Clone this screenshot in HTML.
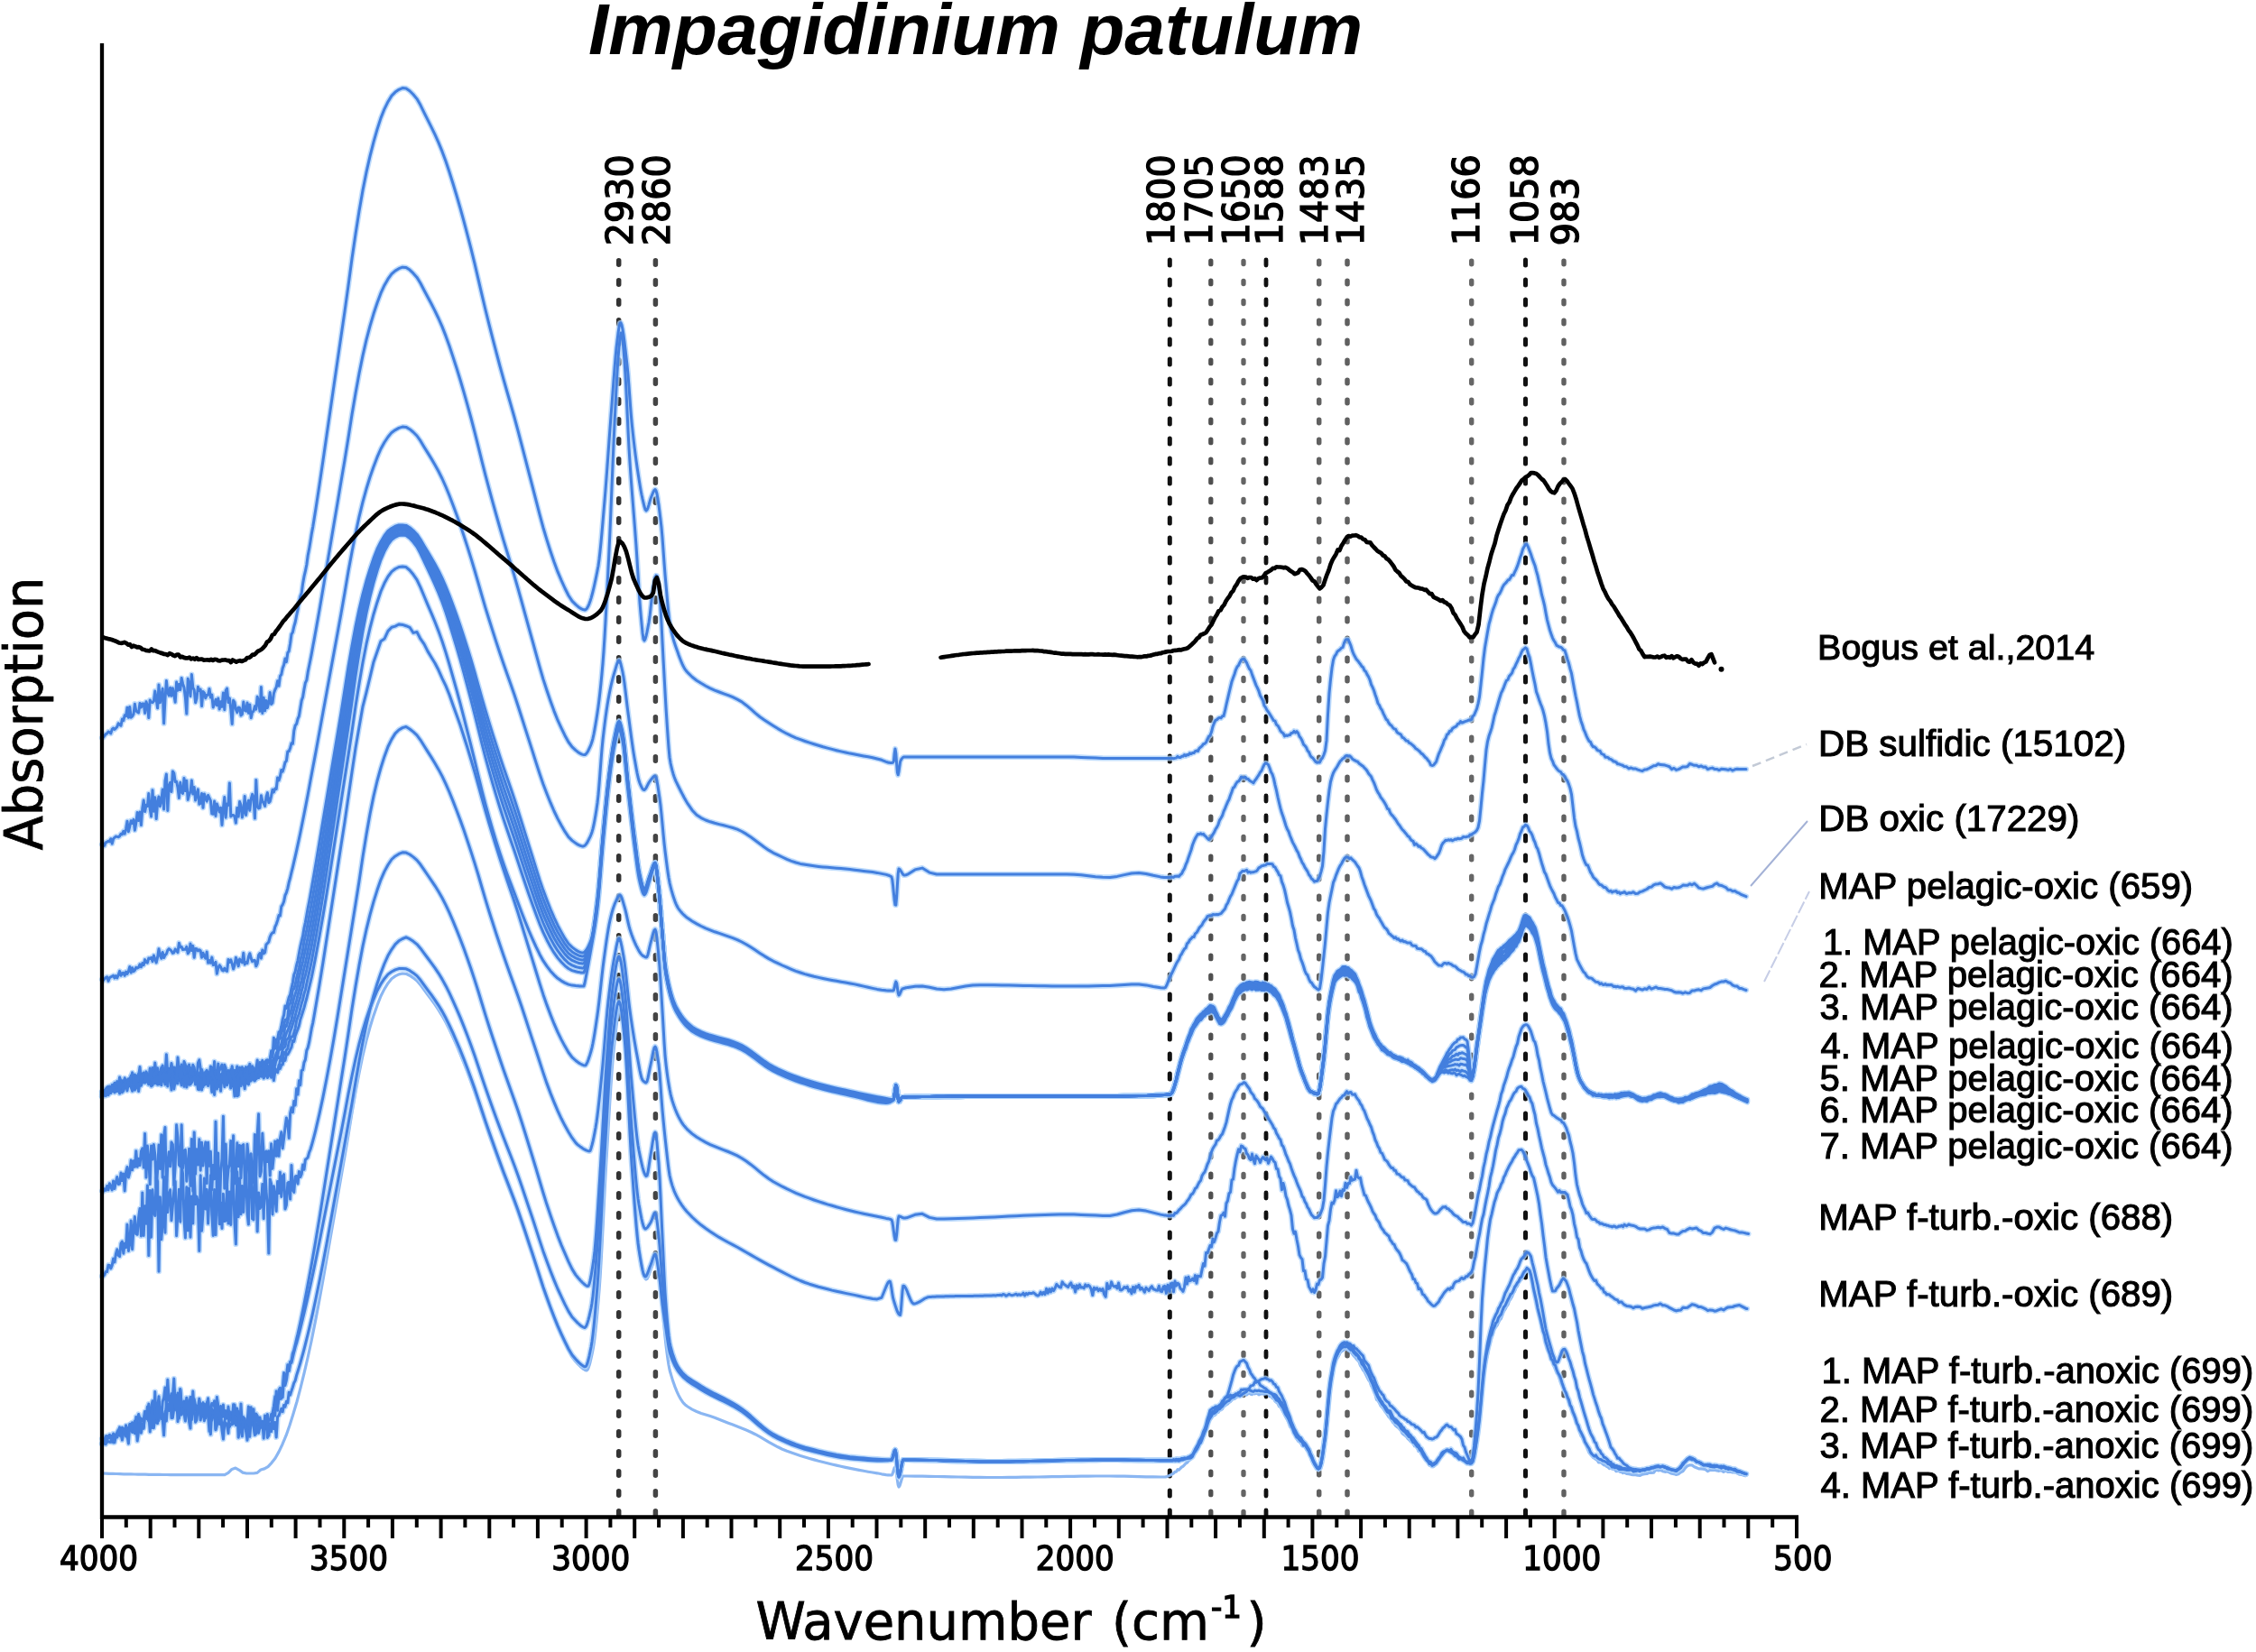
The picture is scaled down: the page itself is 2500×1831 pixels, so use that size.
<!DOCTYPE html><html><head><meta charset="utf-8"><title>Impagidinium patulum</title><style>
html,body{margin:0;padding:0;background:#fff}svg{display:block;filter:blur(.7px)}.b{fill:none;stroke:#3d7cd9;stroke-width:3.2;stroke-linejoin:round;stroke-linecap:round}.bl{fill:none;stroke:#8ab6f2;stroke-width:3.2;stroke-linejoin:round}.k{fill:none;stroke:#000;stroke-width:4.7;stroke-linejoin:round;stroke-linecap:round}.ax{stroke:#000;stroke-width:4.3;fill:none}.tk{stroke:#000;stroke-width:4;fill:none}.lg{font-family:"Liberation Sans",Arial,sans-serif;fill:#000;stroke:#000;stroke-width:1.1}.dv{font-family:"DejaVu Sans Condensed","DejaVu Sans","Liberation Sans",sans-serif;fill:#000;stroke:#000;stroke-width:1.3}.dj{font-family:"DejaVu Sans","Liberation Sans",sans-serif;fill:#000;stroke:#000;stroke-width:.8}.tt{font-family:"Liberation Sans",Arial,sans-serif;font-weight:bold;font-style:italic;font-size:79px;fill:#000}
</style></head><body>
<svg width="2500" height="1831" viewBox="0 0 2500 1831">
<rect width="2500" height="1831" fill="#fff"/>
<text class="tt" x="652" y="60" textLength="858" lengthAdjust="spacingAndGlyphs">Impagidinium patulum</text>
<path d="M685.7 288.8V1680" stroke="#333" stroke-width="5.5" stroke-linecap="round" stroke-dasharray="4.5 17.5" fill="none"/>
<path d="M726.4 288.8V1680" stroke="#444" stroke-width="5.5" stroke-linecap="round" stroke-dasharray="4.5 17.5" fill="none"/>
<path d="M1296.3 288.0V1680" stroke="#111" stroke-width="5" stroke-linecap="round" stroke-dasharray="6 16" fill="none"/>
<path d="M1341.8 289.2V1680" stroke="#505050" stroke-width="5.3" stroke-linecap="round" stroke-dasharray="3.5 18.5" fill="none"/>
<path d="M1378.0 289.5V1680" stroke="#646464" stroke-width="5.3" stroke-linecap="round" stroke-dasharray="3 19" fill="none"/>
<path d="M1403.0 288.0V1680" stroke="#111" stroke-width="4.8" stroke-linecap="round" stroke-dasharray="6 16" fill="none"/>
<path d="M1461.7 289.2V1680" stroke="#606060" stroke-width="5.5" stroke-linecap="round" stroke-dasharray="3.5 18.5" fill="none"/>
<path d="M1493.0 289.2V1680" stroke="#606060" stroke-width="5.5" stroke-linecap="round" stroke-dasharray="3.5 18.5" fill="none"/>
<path d="M1630.7 289.2V1680" stroke="#666" stroke-width="5.4" stroke-linecap="round" stroke-dasharray="3.5 18.5" fill="none"/>
<path d="M1690.5 288.0V1680" stroke="#111" stroke-width="5" stroke-linecap="round" stroke-dasharray="6 16" fill="none"/>
<path d="M1733.0 289.2V1680" stroke="#606060" stroke-width="5.4" stroke-linecap="round" stroke-dasharray="3.5 18.5" fill="none"/>
<text class="dv" font-size="40.5" transform="translate(701.2 272.3) rotate(-90)" textLength="101" lengthAdjust="spacingAndGlyphs">2930</text>
<text class="dv" font-size="40.5" transform="translate(742.0 272.3) rotate(-90)" textLength="101" lengthAdjust="spacingAndGlyphs">2860</text>
<text class="dv" font-size="40.5" transform="translate(1301.0 272.3) rotate(-90)" textLength="101" lengthAdjust="spacingAndGlyphs">1800</text>
<text class="dv" font-size="40.5" transform="translate(1343.0 272.3) rotate(-90)" textLength="101" lengthAdjust="spacingAndGlyphs">1705</text>
<text class="dv" font-size="40.5" transform="translate(1383.5 272.3) rotate(-90)" textLength="101" lengthAdjust="spacingAndGlyphs">1650</text>
<text class="dv" font-size="40.5" transform="translate(1420.5 272.3) rotate(-90)" textLength="101" lengthAdjust="spacingAndGlyphs">1588</text>
<text class="dv" font-size="40.5" transform="translate(1471.0 272.3) rotate(-90)" textLength="101" lengthAdjust="spacingAndGlyphs">1483</text>
<text class="dv" font-size="40.5" transform="translate(1510.5 272.3) rotate(-90)" textLength="101" lengthAdjust="spacingAndGlyphs">1435</text>
<text class="dv" font-size="40.5" transform="translate(1638.5 272.3) rotate(-90)" textLength="101" lengthAdjust="spacingAndGlyphs">1166</text>
<text class="dv" font-size="40.5" transform="translate(1704.0 272.3) rotate(-90)" textLength="101" lengthAdjust="spacingAndGlyphs">1058</text>
<text class="dv" font-size="40.5" transform="translate(1749.0 272.3) rotate(-90)" textLength="76" lengthAdjust="spacingAndGlyphs">983</text>
<defs><g id="bc" fill="none" stroke-linejoin="round" stroke-linecap="round">
<path d="M113 818L114.4 817.2L115.8 815.5L117.2 813.6L118.6 813L120 811L121.4 811.6L122.8 812.9L124.2 808.4L125.6 807L127 808.4L128.4 807.1L129.8 805.5L131.2 801.7L132.6 803.1L134 804.2L135.4 797L136.8 798.7L138.2 792.8L139.6 793.7L141 784.3L142.4 795.3L143.8 783.4L145.2 795.3L146.6 793.9L148 791.5L149.4 780.2L150.8 787.9L152.2 789.2L153.6 789.9L155 779.5L156.4 784L157.8 780.1L159.2 780L160.6 790.4L162 777.8L163.4 781.9L164.8 795.6L166.2 775.9L167.6 778.2L169 778.7L170.4 777.3L171.8 765.9L173.2 775.1L174.6 784.8L176 759L177.4 778.8L178.8 771.2L180.2 763.2L181.6 801.8L183 774.6L184.4 754.5L185.8 767.4L187.2 770.9L188.6 762.3L190 771.2L191.4 762.7L192.8 770.2L194.2 778.2L195.6 756L197 765.2L198.4 758.4L199.8 764.6L201.2 751.5L202.6 757.9L204 762L205.4 773L206.8 791.1L208.2 752.2L209.6 757.7L211 771.7L212.4 747.6L213.8 762.2L215.2 764.8L216.6 778.7L218 774L219.4 761.3L220.8 765.5L222.2 764L223.6 782.6L225 766.4L226.4 767.9L227.8 773.8L229.2 770.4L230.6 770.3L232 763.4L233.4 773L234.8 770L236.2 783.9L237.6 780.3L239 775.3L240.4 781.7L241.8 773.9L243.2 786.1L244.6 777.8L246 783.4L247.4 768.1L248.8 786.7L250.2 765.6L251.6 763.1L253 778.5L254.4 773.9L255.8 785.7L257.2 802.5L258.6 776.2L260 778.6L261.4 786.5L262.8 789.6L264.2 784.2L265.6 784.4L267 793L268.4 791.7L269.8 778.1L271.2 787L272.6 788.2L274 779L275.4 790.2L276.8 780.9L278.2 795.7L279.6 789.2L281 788.2L282.4 782.8L283.8 786.1L285.2 772.3L286.6 778.3L288 788.2L289.4 761.5L290.8 790.4L292.2 773.2L293.6 787.8L295 776.5L296.4 784.4L297.8 778.6L299.2 767.4L300.6 780.5L302 778.9L303.4 768.5L304.8 764.5L306.2 761.8L307.6 754.7L309 760.2L310.4 749.4L311.8 747.5L313.2 740.6L314.6 736.9L316 730L317.4 733.6L318.8 723.7L320.2 721.6L321.6 713.2L323 703L324.4 700.8L325.8 694.3L327.2 689.5L328.6 682.2L330 675.7L331.4 667L332.8 661L334.2 657.4L335.6 646.9L337 639L338.4 632.9L339.8 626L341.2 615.5L342.6 608.4L344 599.9L345.4 591.1L346.8 583.6L348.2 574.8L349.6 565.9L350 563.4L354 537.2L358 510.2L362 482.5L366 455L370 427.4L374 399.9L378 372.5L382 345.1L386 316.6L390 286.7L394 259.5L398 234.1L402 210.9L406 190.9L410 173.1L414 157.4L418 143.4L422 130.9L426 120.8L430 112.7L434 106.1L438 102.1L442 99.3L446 97.6L450 97.9L454 100.7L458 104.7L462 109.6L466 116.6L470 124.8L474 132.8L478 140.8L482 149.2L486 158.1L490 167.9L494 178.8L498 190.8L502 203.5L506 216.8L510 230.6L514 245.1L518 260.3L522 275.9L526 292.2L530 309.3L534 326.6L538 343.5L542 359.6L546 375.3L550 390.7L554 405.8L558 420.4L562 434.5L566 448.4L570 462.5L574 477.3L578 492.6L582 508.2L586 523.7L590 539L594 554.7L598 570.2L602 585L606 598.4L610 611L614 622.8L618 633.7L622 643.2L626 652L630 660L634 666.1L638 670.1L640 671.8L641 672.7L642 673.4L643 674.1L644 674.7L645 675.2L646 675.6L647 675.8L648 676L649 675.7L650 674.8L651 673.4L652 671.5L653 669.1L654 666.3L655 663.1L656 659.5L657 655.6L658 651.5L659 647L660 642.4L661 637.5L662 632.5L663 627.2L664 620L665 611.2L666 601.1L667 590.1L668 578.5L669 566.6L670 555L671 543L672 530.1L673 516.6L674 502.7L675 488.6L676 474.8L677 461.4L678 448.5L679 435.2L680 421.6L681 408.5L682 396.5L683 386L684 377.6L685 369.5L686 362.5L687 358.1L688 357.8L689 360.4L690 365L691 371.4L692 379L693 387.4L694 396.2L695 405L696 415.4L697 428.4L698 442.4L699 455.9L700 467.5L701 477.2L702 486.4L703 494.9L704 502.9L705 510.4L706 517.5L707 524.3L708 530.8L709 537.1L710 542.9L711 548.2L712 552.9L713 557.1L714 561.3L715 564.6L716 566L717 565.1L718 562.8L719 559.6L720 556.1L721 552.7L722 550L723 547.6L724 545.2L725 543.3L726 542.5L727 543.8L728 547.5L729 553.1L730 560L731 567.8L732 576L733 584.5L734 595.9L735 609.3L736 623.4L737 636.6L738 648.2L739 659.7L740 671L741 681.1L742 689.4L743 695.2L744 700L745 704.2L746 707.9L747 711.2L748 714.3L749 717.2L750 720L751 722.8L752 725.7L753 728.4L754 731L755 733.5L756 735.9L757 738L758 739.9L759 741.6L760 743L761 744.2L762 745.4L767 750.3L772 754.2L777 757.3L782 760.2L787 762.9L792 765.1L797 767L802 768.9L807 770.7L812 772.7L817 775.1L822 777.9L827 781.7L832 785.9L837 790.4L842 794.5L847 798L852 801.3L857 804.5L862 807.6L867 810.5L872 813.2L877 815.6L882 817.8L887 819.7L892 821.5L897 823.2L902 824.8L907 826.3L912 827.8L917 829.1L922 830.4L927 831.7L932 832.9L937 834L942 835.1L947 836L952 837L957 837.9L962 838.8L967 839.8L972 841L977 842.3L982 844.3L984 845L984.8 845.2L985.6 845.3L986.4 845.4L987.2 845.5L988 845.5L988.8 845.4L989.6 845.1L990.4 843.3L991.2 835.2L992 830L992.8 835.1L993.6 845.9L994.4 856L995.2 858.8L996 855.2L996.8 849.4L997.6 844.3L998.4 842.3L999.2 841.1L1000 840.1L1000.8 839.4L1001.6 839L1002.4 839L1003.2 839L1004 839L1004.8 839L1005.6 839L1006 839L1014 839L1022 839L1030 839L1038 839L1046 839L1054 839L1062 839L1070 839L1078 839L1086 839L1094 839L1102 839L1110 839L1118 839L1126 839L1134 839L1142 839L1150 839L1158 839L1166 839L1174 839L1182 839L1190 839.1L1198 839.4L1206 839.8L1214 840.1L1222 840.4L1230 840.5L1238 840.5L1246 840.5L1254 840.5L1262 840.5L1270 840.5L1278 840.5L1286 840.5L1290 840.5L1291.5 840.5L1293 840.5L1294.5 840.5L1296 840.5L1297.5 840.5L1299 840.4L1300.5 840.7L1302 840.4L1303.5 840.1L1305 838.4L1306.5 839.4L1308 839.5L1309.5 838.3L1311 838.3L1312.5 836.5L1314 837.8L1315.5 836.5L1317 836.8L1318.5 834.7L1320 835.6L1321.5 834.5L1323 834.5L1324.5 832.7L1326 832L1327.5 832.5L1329 829.4L1330.5 828.1L1332 826.8L1333.5 824.7L1335 824.3L1336.5 822.8L1338 819.3L1339.5 816.3L1341 815.2L1342.5 811.3L1344 805.2L1345.5 801.2L1347 798.3L1348.5 797.6L1350 796.1L1351.5 795.4L1353 795.9L1354.5 793.8L1356 793.5L1357.5 787.7L1359 780.8L1360.5 774.3L1362 767.9L1363.5 761.6L1365 755.4L1366.5 751.3L1368 747.3L1369.5 742.3L1371 739.1L1372.5 737.4L1374 734.2L1375.5 731.4L1377 730.6L1378.5 730.2L1380 732.1L1381.5 734.5L1383 738.2L1384.5 741.3L1386 743.1L1387.5 747.6L1389 751.6L1390.5 755.6L1392 759.6L1393.5 762.6L1395 766.2L1396.5 771L1398 773.6L1399.5 776.6L1401 782L1402.5 784.1L1404 787.1L1405.5 789L1407 791.4L1408.5 793.7L1410 796.2L1411.5 798.7L1413 799.2L1414.5 803.1L1416 804.3L1417.5 806.8L1419 810.1L1420.5 811.8L1422 812.7L1423.5 815.9L1425 815L1426.5 815.5L1428 814.8L1429.5 814.6L1431 812.4L1432.5 812.2L1434 810.4L1435.5 812.1L1437 810.7L1438.5 812.5L1440 816.2L1441.5 818.1L1443 821L1444.5 825.1L1446 826.5L1447.5 828.4L1449 832L1450.5 833.6L1452 837.3L1453.5 839.3L1455 840.3L1456.5 842.3L1458 844.4L1459.5 845.3L1461 844.9L1462.5 845L1464 841.7L1465.5 840L1467 836.5L1468.5 832L1470 820.9L1471.5 791.8L1473 768.3L1474.5 753.1L1476 740.3L1477.5 731.4L1479 727.3L1480.5 725.3L1482 722.2L1483.5 721L1485 719.9L1486.5 718.1L1488 717.6L1489.5 712.6L1491 709.3L1492.5 708.7L1494 708.8L1495.5 712.2L1497 715.8L1498.5 721.1L1500 725L1501.5 727.7L1503 730.5L1504.5 732.2L1506 734.2L1507.5 736.1L1509 738.5L1510.5 739.7L1512 743.1L1513.5 744.4L1515 747.6L1516.5 750L1518 753.5L1519.5 758.7L1521 761.6L1522.5 765.3L1524 770L1525.5 774.3L1527 779.5L1528.5 781.7L1530 785.2L1531.5 787.2L1533 790.9L1534.5 793.9L1536 797.2L1537.5 798.3L1539 801.3L1540.5 803.2L1542 804.2L1543.5 806.5L1545 807.9L1546.5 808.2L1548 811.3L1549.5 812.7L1551 813.4L1552.5 814.3L1554 817.3L1555.5 817.9L1557 819.6L1558.5 821.1L1560 821.2L1561.5 823.3L1563 823.9L1564.5 825.2L1566 826.4L1567.5 827.8L1569 829.8L1570.5 830.6L1572 831.8L1573.5 833.2L1575 835.1L1576.5 835.9L1578 837.7L1579.5 839.5L1581 840.7L1582.5 842.8L1584 844.5L1585.5 847.8L1587 848.5L1588.5 848.1L1590 846.2L1591.5 844.4L1593 839.7L1594.5 835.3L1596 832.1L1597.5 828.4L1599 825.1L1600.5 820.4L1602 818.4L1603.5 814.3L1605 813.2L1606.5 810.3L1608 810.3L1609.5 807.5L1611 806.3L1612.5 805.6L1614 804.7L1615.5 802.3L1617 802L1618.5 799.6L1620 801.1L1621.5 800.5L1623 799.9L1624.5 799.3L1626 798.9L1627.5 798.1L1629 798L1630.5 797.6L1632 794L1633.5 792.6L1635 789.1L1636.5 785.6L1638 779.9L1639.5 772.1L1641 758.7L1642.5 744.7L1644 729.7L1645.5 717.8L1647 709.1L1648.5 700.3L1650 691.9L1651.5 686.5L1653 680.7L1654.5 675.6L1656 671.8L1657.5 667.8L1659 662.7L1660.5 659.5L1662 657.7L1663.5 654.7L1665 650.9L1666.5 648.3L1668 646.7L1669.5 645.1L1671 643L1672.5 642.5L1674 640.1L1675.5 637.5L1677 637.6L1678.5 634.2L1680 631.1L1681.5 627.4L1683 623.1L1684.5 618L1686 614.1L1687.5 608.8L1689 605.9L1690.5 603.4L1692 603.3L1693.5 606.4L1695 610.4L1696.5 614.3L1698 619.1L1699.5 623.1L1701 627L1702.5 632.8L1704 638.1L1705.5 645.2L1707 651.5L1708.5 659.2L1710 664.6L1711.5 670.8L1713 679.3L1714.5 687.1L1716 692.9L1717.5 698.5L1719 702.9L1720.5 707.1L1722 710L1723.5 712.3L1725 715.4L1726.5 716.1L1728 717L1729.5 717.2L1731 718.4L1732.5 720.4L1734 721L1735.5 725.4L1737 730.6L1738.5 735.3L1740 741.3L1741.5 746.4L1743 755.1L1744.5 763.2L1746 771.2L1747.5 778.3L1749 786.2L1750.5 793.6L1752 799.2L1753.5 803.4L1755 808.6L1756.5 811.7L1758 815.6L1759.5 818.8L1761 821.5L1762.5 822.4L1764 825.8L1765.5 827.7L1767 827.8L1768.5 829.1L1770 831.4L1771.5 832L1773 832.2L1774.5 835.2L1776 836L1777.5 836.7L1779 839.3L1780.5 839.2L1782 839.7L1783.5 841.1L1785 841.4L1786.5 842.4L1788 843.9L1789.5 844.1L1791 844.8L1792.5 846.7L1794 846.8L1795.5 847.4L1797 847.9L1798.5 848.5L1800 849.6L1802.5 849.8L1805 851.8L1807.5 851L1810 852.1L1812.5 852L1815 853.1L1817.5 853.9L1820 854.5L1822.5 853L1825 852.7L1827.5 851.5L1830 850.2L1832.5 848.8L1835 848.5L1837.5 846.8L1840 847.6L1842.5 847.8L1845 848.1L1847.5 848.9L1850 849.7L1852.5 852.6L1855 851.4L1857.5 853.4L1860 852.6L1862.5 851.3L1865 849.9L1867.5 850.1L1870 849.5L1872.5 846.5L1875 847.3L1877.5 848.3L1880 848.2L1882.5 849.7L1885 848.9L1887.5 850.3L1890 850L1892.5 852.6L1895 851.6L1897.5 851.1L1900 852.4L1902.5 852.4L1905 853.6L1907.5 852.3L1910 852.5L1912.5 852.8L1915 853.4L1917.5 852.5L1920 854L1922.5 852.8L1925 852.3L1927.5 852.5L1930 852.5L1932.5 852.5L1935 852.5"/>
<path d="M113 936L114.4 934.7L115.8 937.2L117.2 933.8L118.6 933.1L120 932.3L121.4 932.7L122.8 929.7L124.2 935.1L125.6 929.8L127 928.3L128.4 927.1L129.8 927.4L131.2 927.8L132.6 926.7L134 924.2L135.4 924.8L136.8 921.4L138.2 924.2L139.6 918.8L141 910.3L142.4 921.7L143.8 916L145.2 909.7L146.6 912.5L148 908.4L149.4 920.2L150.8 911.9L152.2 900.5L153.6 909.6L155 900.1L156.4 914.6L157.8 896.1L159.2 886.9L160.6 899.6L162 892.2L163.4 893.4L164.8 879.5L166.2 896.6L167.6 904.9L169 875.7L170.4 899.2L171.8 883.7L173.2 907.6L174.6 889.8L176 882.9L177.4 893.8L178.8 887.1L180.2 874.9L181.6 896.9L183 865.5L184.4 858.1L185.8 898.4L187.2 871.3L188.6 867.3L190 877.5L191.4 854.9L192.8 857L194.2 866.5L195.6 866.2L197 872.8L198.4 884.5L199.8 867.3L201.2 878L202.6 879.5L204 862.4L205.4 876.6L206.8 865.3L208.2 886.4L209.6 880.9L211 877.4L212.4 865L213.8 880L215.2 872.5L216.6 887.1L218 880.3L219.4 874.9L220.8 891.3L222.2 890.2L223.6 879.5L225 895.3L226.4 879.9L227.8 884L229.2 888.1L230.6 881.4L232 884.5L233.4 887.3L234.8 901.9L236.2 902.2L237.6 888L239 904.4L240.4 890.9L241.8 895.1L243.2 900L244.6 895.3L246 914.5L247.4 895.8L248.8 883.4L250.2 906.2L251.6 891.1L253 892.3L254.4 867.9L255.8 904.9L257.2 903.4L258.6 903.4L260 905.2L261.4 912.1L262.8 895.5L264.2 905L265.6 888.6L267 892.3L268.4 906L269.8 899.4L271.2 882.4L272.6 903.4L274 893.2L275.4 887.2L276.8 898.2L278.2 885.6L279.6 880.4L281 884.1L282.4 907.1L283.8 864.5L285.2 893.6L286.6 895.9L288 895.4L289.4 881.7L290.8 887.7L292.2 890.3L293.6 893.5L295 883.1L296.4 878.6L297.8 889.6L299.2 888.2L300.6 882.3L302 875.2L303.4 878L304.8 874L306.2 874.5L307.6 862L309 865L310.4 860.5L311.8 853.4L313.2 855.1L314.6 850.6L316 844.9L317.4 843.3L318.8 833L320.2 832.6L321.6 829.1L323 823.7L324.4 824.3L325.8 810L327.2 804.2L328.6 802.3L330 796.9L331.4 793.6L332.8 784.9L334.2 776.5L335.6 772.5L337 764L338.4 756.8L339.8 753.9L341.2 744.9L342.6 738L344 731.1L345.4 723.9L346.8 715.9L348.2 708.6L349.6 700.7L350 698.6L354 676L358 652.6L362 628.6L366 604.9L370 581.1L374 557.4L378 533.6L382 510L386 485.3L390 459.5L394 436.1L398 414.1L402 394.1L406 376.7L410 361.4L414 347.8L418 335.8L422 324.9L426 316.2L430 309.2L434 303.6L438 300.1L442 297.7L446 296.2L450 296.5L454 299.1L458 302.9L462 307.4L466 314L470 321.7L474 329.2L478 336.7L482 344.6L486 353L490 362.1L494 372.4L498 383.6L502 395.6L506 408L510 421L514 434.6L518 448.9L522 463.5L526 478.8L530 494.8L534 511.1L538 526.8L542 541.9L546 556.6L550 571L554 585.1L558 598.8L562 612L566 625L570 638.2L574 652.1L578 666.5L582 681.1L586 695.6L590 710L594 724.6L598 739.1L602 752.9L606 765.3L610 777.1L614 788.1L618 798.2L622 806.9L626 815.2L630 822.5L634 827.9L638 831.6L640 833.2L641 833.9L642 834.6L643 835.2L644 835.7L645 836.1L646 836.4L647 836.6L648 836.6L649 836.1L650 835L651 833.5L652 831.7L653 829.6L654 827.4L655 825L656 822.1L657 818.3L658 813.7L659 808.4L660 802.6L661 796.4L662 790L663 783.1L664 775.3L665 766.6L666 757L667 746.5L668 735L669 721.7L670 706.2L671 688.9L672 670.3L673 650.6L674 630.4L675 610L676 588.3L677 564.4L678 539.5L679 514.7L680 491.1L681 470L682 450.1L683 430.4L684 412.2L685 396.6L686 385L687 375.7L688 369L689 369L690 376.2L691 387.5L692 400L693 414.9L694 434L695 455.3L696 476.8L697 496.5L698 512.7L699 527.2L700 540.7L701 553.4L702 565.9L703 578.4L704 591.3L705 605L706 620.2L707 636.6L708 652.9L709 667.8L710 680L711 690.9L712 701.2L713 708.3L714 709.9L715 708.2L716 704.9L717 700.4L718 695.3L719 690L720 683.3L721 674.5L722 665.1L723 656.4L724 650L725 645.1L726 640.6L727 637.9L728 638.2L729 642.9L730 650.8L731 660L732 672.9L733 690.9L734 711L735 730L736 748.1L737 766.6L738 784.3L739 800L740 814.8L741 828.7L742 839.5L743 845.6L744 850.2L745 854.2L746 857.7L747 860.8L748 863.4L749 865.8L750 867.9L751 870L752 872L753 874L754 876L755 878L756 879.9L757 881.8L758 883.7L759 885.5L760 887.3L761 889L762 890.6L767 897.9L772 903.3L777 906.6L782 909L787 910.8L792 912.3L797 913.6L802 914.8L807 916.1L812 917.5L817 919.2L822 921.5L827 924.4L832 927.8L837 931.5L842 935.3L847 939L852 942.4L857 945.3L862 947.7L867 950L872 952.3L877 954.3L882 956L887 957.4L892 958.3L897 959.1L902 959.8L907 960.4L912 960.9L917 961.3L922 961.8L927 962.2L932 962.6L937 963.1L942 963.6L947 964.2L952 964.8L957 965.4L962 966L967 966.6L972 967.4L977 968.4L982 969.4L984 970L984.8 970.2L985.6 970.6L986.4 971L987.2 971.4L988 972L988.8 975.1L989.6 981.8L990.4 990L991.2 997.7L992 1002.9L992.8 1003.1L993.6 994.4L994.4 980.9L995.2 968.4L996 963L996.8 963.3L997.6 964.2L998.4 965.5L999.2 966.8L1000 968.2L1000.8 969.3L1001.6 969.9L1002.4 970L1003.2 969.9L1004 969.7L1004.8 969.5L1005.6 969.1L1006 969L1014 963.9L1022 962.1L1030 967.1L1038 969L1046 969L1054 969L1062 969L1070 969L1078 969L1086 969L1094 969L1102 969L1110 969L1118 969L1126 969L1134 969L1142 969L1150 969L1158 969L1166 969L1174 969L1182 969L1190 969.2L1198 969.8L1206 970.8L1214 971.7L1222 972.3L1230 972.4L1238 971.4L1246 969.6L1254 968L1262 967.5L1270 968.5L1278 970.3L1286 971.9L1290 972.4L1291.5 972.5L1293 972.5L1294.5 972.5L1296 972.4L1297.5 972.3L1299 972.1L1300.5 972.4L1302 971.3L1303.5 971.3L1305 971L1306.5 971.4L1308 969.5L1309.5 968.4L1311 965.1L1312.5 962.8L1314 958.4L1315.5 955.2L1317 950.4L1318.5 946.2L1320 942L1321.5 936.5L1323 932.7L1324.5 929.3L1326 926.7L1327.5 924.4L1329 924.7L1330.5 923.8L1332 924.8L1333.5 924.3L1335 926.2L1336.5 927.4L1338 929.2L1339.5 930.5L1341 929.3L1342.5 927.2L1344 924.9L1345.5 922.5L1347 919.1L1348.5 916.9L1350 913.8L1351.5 909.1L1353 906.7L1354.5 904.1L1356 899.4L1357.5 896.1L1359 892.3L1360.5 888.8L1362 886L1363.5 881.5L1365 877.6L1366.5 873.3L1368 872.2L1369.5 869L1371 866.7L1372.5 866L1374 864L1375.5 861L1377 861.7L1378.5 861.7L1380 861.2L1381.5 863.3L1383 863.3L1384.5 865L1386 866L1387.5 866.8L1389 867.8L1390.5 865.3L1392 863.4L1393.5 861L1395 858.9L1396.5 855.9L1398 854.2L1399.5 850.5L1401 847.3L1402.5 845.9L1404 846.4L1405.5 847.6L1407 851.3L1408.5 855.8L1410 858.3L1411.5 863.1L1413 870.1L1414.5 876.2L1416 883.5L1417.5 890L1419 896.2L1420.5 901.3L1422 905.6L1423.5 910.2L1425 915.2L1426.5 919.1L1428 921.7L1429.5 926.2L1431 929.9L1432.5 933.6L1434 936.4L1435.5 939.3L1437 942.6L1438.5 945L1440 949.3L1441.5 952.2L1443 956L1444.5 958.2L1446 961.4L1447.5 963.6L1449 966L1450.5 969.5L1452 971.3L1453.5 974.1L1455 975.1L1456.5 977.1L1458 976.5L1459.5 976.4L1461 974.2L1462.5 971.2L1464 966.1L1465.5 959.9L1467 943.3L1468.5 918.7L1470 902.8L1471.5 888.8L1473 876L1474.5 866.5L1476 861.1L1477.5 856.7L1479 853.9L1480.5 851.7L1482 849.3L1483.5 846.6L1485 843.9L1486.5 842.5L1488 840.7L1489.5 839.9L1491 837.9L1492.5 837.4L1494 838L1495.5 837.8L1497 838.9L1498.5 841L1500 842.1L1501.5 842.9L1503 843.8L1504.5 844.2L1506 846.2L1507.5 847.1L1509 848.4L1510.5 849.3L1512 851.1L1513.5 852.5L1515 854.5L1516.5 857.2L1518 859.1L1519.5 860.8L1521 864.4L1522.5 867.4L1524 871.3L1525.5 875.4L1527 878.3L1528.5 880.5L1530 883.6L1531.5 885.5L1533 887.6L1534.5 890L1536 892.7L1537.5 896.3L1539 896.9L1540.5 900.7L1542 903L1543.5 904.3L1545 906.5L1546.5 908.3L1548 910.8L1549.5 913.2L1551 914.9L1552.5 917.4L1554 919.5L1555.5 920.9L1557 922.8L1558.5 924.5L1560 926.6L1561.5 927.5L1563 930.1L1564.5 931.6L1566 932.4L1567.5 936.4L1569 935L1570.5 936.3L1572 938.2L1573.5 938L1575 939.8L1576.5 940.5L1578 941.9L1579.5 943.6L1581 945.2L1582.5 947L1584 948.1L1585.5 949.6L1587 950.2L1588.5 950.3L1590 951.6L1591.5 950.2L1593 947.9L1594.5 945.7L1596 941.8L1597.5 937.1L1599 934.4L1600.5 933L1602 931.2L1603.5 931.5L1605 930.7L1606.5 931.3L1608 930.6L1609.5 931.7L1611 931L1612.5 930L1614 930.3L1615.5 929.3L1617 929.7L1618.5 929.6L1620 929.1L1621.5 927.4L1623 927.8L1624.5 927.8L1626 927.2L1627.5 927.1L1629 925L1630.5 925.3L1632 923.8L1633.5 923.2L1635 922L1636.5 920.3L1638 917.1L1639.5 909.9L1641 895L1642.5 879L1644 865.1L1645.5 847.7L1647 831.3L1648.5 821.8L1650 815.8L1651.5 811.5L1653 806.9L1654.5 800.4L1656 793.2L1657.5 788.5L1659 783.3L1660.5 778L1662 773L1663.5 768.1L1665 765.2L1666.5 761.6L1668 757.5L1669.5 754.2L1671 753.3L1672.5 749.3L1674 747.9L1675.5 745.9L1677 741.7L1678.5 739.7L1680 736.2L1681.5 733.2L1683 729.5L1684.5 727L1686 723.1L1687.5 720.2L1689 719.2L1690.5 717.8L1692 719.2L1693.5 724.6L1695 728.6L1696.5 735.9L1698 744L1699.5 751.4L1701 758.3L1702.5 766.7L1704 770.8L1705.5 775.4L1707 779.6L1708.5 783.3L1710 787.8L1711.5 793.7L1713 801.4L1714.5 810.9L1716 824.6L1717.5 834.4L1719 840.5L1720.5 843.6L1722 847.7L1723.5 849.6L1725 851.8L1726.5 853.6L1728 854.8L1729.5 855.5L1731 858.1L1732.5 858.5L1734 860.6L1735.5 863.3L1737 865.6L1738.5 869.4L1740 873.9L1741.5 880.6L1743 893.6L1744.5 906.7L1746 915.9L1747.5 921.4L1749 929L1750.5 934.4L1752 940.8L1753.5 947.7L1755 952.2L1756.5 956L1758 958.8L1759.5 959L1761 962.8L1762.5 966.7L1764 968.9L1765.5 972L1767 973.7L1768.5 975L1770 976.8L1771.5 979.2L1773 980.6L1774.5 980.8L1776 982.2L1777.5 983.6L1779 983.4L1780.5 985.1L1782 987.1L1783.5 988.1L1785 987.4L1786.5 989L1788 988L1789.5 988.1L1791 987.5L1792.5 989.5L1794 988.8L1795.5 990.6L1797 989.5L1798.5 989.5L1800 988.5L1802.5 990.6L1805 989.6L1807.5 989.8L1810 988.7L1812.5 990.5L1815 990.3L1817.5 988.6L1820 987.9L1822.5 986.7L1825 985.5L1827.5 983.5L1830 983.1L1832.5 980.9L1835 979.9L1837.5 979.7L1840 978.9L1842.5 980.8L1845 983.1L1847.5 983.8L1850 984.1L1852.5 985.2L1855 983.6L1857.5 984L1860 983.7L1862.5 982.9L1865 981.1L1867.5 981.3L1870 981.3L1872.5 979.7L1875 980.8L1877.5 979.2L1880 981.3L1882.5 984L1885 984.6L1887.5 985.1L1890 984.3L1892.5 983.5L1895 982.9L1897.5 982.3L1900 980.2L1902.5 979L1905 981L1907.5 981.4L1910 982.5L1912.5 983.6L1915 986.3L1917.5 986.3L1920 987.8L1922.5 987.4L1925 989.2L1927.5 990.2L1930 991.7L1932.5 992.7L1935 993.7"/>
<path d="M113 1085.6L114.4 1086.6L115.8 1085L117.2 1083.6L118.6 1082.8L120 1087.4L121.4 1083.8L122.8 1082.8L124.2 1082.2L125.6 1081.3L127 1084L128.4 1081.6L129.8 1083.9L131.2 1080.5L132.6 1076.4L134 1081.3L135.4 1078.6L136.8 1078.3L138.2 1081.3L139.6 1077.1L141 1079.5L142.4 1076.4L143.8 1071.5L145.2 1078L146.6 1072.8L148 1076.7L149.4 1075.4L150.8 1072.2L152.2 1073L153.6 1072.2L155 1068.9L156.4 1071.8L157.8 1067.6L159.2 1069.6L160.6 1063.6L162 1066.6L163.4 1067.1L164.8 1062L166.2 1062.6L167.6 1061.4L169 1065.6L170.4 1059L171.8 1063L173.2 1066.9L174.6 1061.2L176 1051.7L177.4 1058.7L178.8 1062.3L180.2 1055.4L181.6 1061.5L183 1058.6L184.4 1057.2L185.8 1053.3L187.2 1051.6L188.6 1052.6L190 1054L191.4 1056.4L192.8 1055.8L194.2 1052L195.6 1053.9L197 1055.6L198.4 1045.2L199.8 1049.7L201.2 1049.5L202.6 1052.5L204 1052.2L205.4 1052.3L206.8 1049.3L208.2 1056.8L209.6 1054.9L211 1045.9L212.4 1053.6L213.8 1048.4L215.2 1061.3L216.6 1051.5L218 1051.8L219.4 1053.9L220.8 1052.7L222.2 1053.7L223.6 1061.2L225 1056.3L226.4 1059.9L227.8 1062.3L229.2 1055L230.6 1067.2L232 1064.6L233.4 1067.2L234.8 1061.1L236.2 1069.5L237.6 1069.1L239 1066.3L240.4 1079.3L241.8 1072.7L243.2 1069.8L244.6 1071.9L246 1075.1L247.4 1075.9L248.8 1073.2L250.2 1075.7L251.6 1076.4L253 1063.6L254.4 1066.5L255.8 1063.8L257.2 1068.1L258.6 1073.9L260 1069.8L261.4 1061.3L262.8 1064.6L264.2 1070.8L265.6 1063.1L267 1065.1L268.4 1066.9L269.8 1056.3L271.2 1069L272.6 1066.7L274 1067.6L275.4 1060.5L276.8 1056.7L278.2 1062.1L279.6 1065.6L281 1064.6L282.4 1064.6L283.8 1070.8L285.2 1067.9L286.6 1058.6L288 1056.5L289.4 1062.1L290.8 1052.9L292.2 1056.8L293.6 1055.6L295 1046.9L296.4 1045.4L297.8 1043.9L299.2 1038.5L300.6 1035.4L302 1033.8L303.4 1033.6L304.8 1027.3L306.2 1024.3L307.6 1020.1L309 1014.6L310.4 1015L311.8 1004.8L313.2 1002.7L314.6 999.3L316 992.4L317.4 989.3L318.8 984.6L320.2 978L321.6 973L323 966.9L324.4 961.3L325.8 955.2L327.2 949.1L328.6 942.8L330 936.4L331.4 929.9L332.8 923.2L334.2 916.3L335.6 909.3L337 902.3L338.4 895.1L339.8 887.9L341.2 880.5L342.6 873L344 865.3L345.4 857.7L346.8 850.3L348.2 842.9L349.6 835.4L350 833.2L354 811.2L358 789.3L362 767.4L366 745.6L370 723.7L374 701.9L378 680.1L382 657.1L386 633.3L390 611.8L394 591.5L398 572.8L402 556.4L406 541.8L410 528.8L414 517.3L418 506.7L422 497.5L426 490.3L430 484.2L434 479.4L438 476.6L442 474.4L446 473.1L450 473.4L454 475.7L458 479L462 483L466 488.7L470 495.4L474 501.9L478 508.4L482 515.2L486 522.5L490 530.5L494 539.5L498 549.3L502 559.7L506 570.5L510 581.8L514 593.7L518 606.1L522 618.9L526 632.2L530 646.2L534 660.2L538 673.8L542 686.7L546 699.4L550 711.9L554 724L558 735.8L562 747.2L566 758.5L570 770L574 782.2L578 794.7L582 807.4L586 819.9L590 832.4L594 845.1L598 857.5L602 869.2L606 879.7L610 889.7L614 899L618 907.4L622 914.8L626 921.7L630 927.6L634 931.6L638 934.6L640 935.9L641 936.4L642 936.9L643 937.3L644 937.6L645 937.9L646 938L647 937.8L648 937.2L649 936.2L650 934.8L651 933.3L652 931.4L653 929.4L654 927.3L655 925L656 922.2L657 918.6L658 914.2L659 909L660 903.2L661 896.9L662 890L663 881.1L664 869.5L665 856.4L666 842.9L667 830.4L668 820L669 811.3L670 803.1L671 795.4L672 788.3L673 781.6L674 775.5L675 770L676 765L677 760.3L678 756L679 752L680 748.3L681 745L682 741.6L683 738.1L684 735L685 732.8L686 732L687 733.2L688 736.3L689 740.5L690 745L691 750.4L692 757.3L693 765.3L694 773.8L695 782.2L696 790L697 797.5L698 805.1L699 812.7L700 820.2L701 827.3L702 834L703 840L704 845.6L705 851.2L706 856.5L707 861.2L708 865.1L709 868L710 870.3L711 872.5L712 874.2L713 875.3L714 875.5L715 874.7L716 873.3L717 871.4L718 869.4L719 867.5L720 866L721 864.7L722 863.4L723 862.1L724 861L725 860.3L726 860L727 861.6L728 865.7L729 871.5L730 878.2L731 885L732 892.7L733 902.3L734 912.9L735 923.8L736 934.1L737 943L738 951L739 958.8L740 966.2L741 972.8L742 978.3L743 982.5L744 986.4L745 989.9L746 993.3L747 996.3L748 999.1L749 1001.6L750 1003.8L751 1005.7L752 1007.3L753 1008.6L754 1009.9L755 1011L756 1012.2L757 1013.2L758 1014.2L759 1015.1L760 1016L761 1016.8L762 1017.6L767 1021L772 1023.9L777 1026.5L782 1028.9L787 1030.9L792 1032.8L797 1034.4L802 1036.1L807 1037.8L812 1039.6L817 1041.6L822 1044L827 1046.7L832 1049.8L837 1053.1L842 1056.4L847 1059.6L852 1062.6L857 1065.3L862 1067.6L867 1070L872 1072.2L877 1074.3L882 1076.3L887 1078L892 1079.6L897 1081L902 1082.3L907 1083.4L912 1084.5L917 1085.5L922 1086.4L927 1087.3L932 1088.2L937 1089L942 1089.9L947 1090.9L952 1092L957 1093.1L962 1094.3L967 1095.4L972 1096.4L977 1097.2L982 1097.8L984 1097.9L984.8 1097.9L985.6 1098L986.4 1098L987.2 1098L988 1098L988.8 1098L989.6 1098L990.4 1097.5L991.2 1094.5L992 1090.6L992.8 1088.1L993.6 1089.6L994.4 1094.8L995.2 1100.4L996 1103L996.8 1102.3L997.6 1100.7L998.4 1098.7L999.2 1096.9L1000 1096L1000.8 1095.7L1001.6 1095.5L1002.4 1095.2L1003.2 1095L1004 1094.8L1004.8 1094.6L1005.6 1094.4L1006 1094.4L1014 1093.2L1022 1093.1L1030 1094.3L1038 1096L1046 1096.7L1054 1096L1062 1094.5L1070 1093L1078 1091.9L1086 1091.7L1094 1091.7L1102 1091.8L1110 1091.9L1118 1092.1L1126 1092.2L1134 1092.4L1142 1092.5L1150 1092.7L1158 1092.8L1166 1092.9L1174 1093L1182 1093L1190 1093L1198 1092.9L1206 1092.9L1214 1092.7L1222 1092.6L1230 1092.5L1238 1092.1L1246 1091.6L1254 1091.1L1262 1091L1270 1091.9L1278 1093.5L1286 1094.8L1290 1095L1291.5 1094.4L1293 1091.7L1294.5 1087.9L1296 1084L1297.5 1080.9L1299 1077.8L1300.5 1074.7L1302 1071.4L1303.5 1068.1L1305 1065.6L1306.5 1063.2L1308 1059.1L1309.5 1057.2L1311 1054.2L1312.5 1051.7L1314 1050.6L1315.5 1045.8L1317 1044.5L1318.5 1041.7L1320 1040.4L1321.5 1038.4L1323 1038.6L1324.5 1034.8L1326 1033.6L1327.5 1031.4L1329 1028.4L1330.5 1026.8L1332 1025.2L1333.5 1022.2L1335 1020.1L1336.5 1018.4L1338 1015.7L1339.5 1015L1341 1015L1342.5 1014.8L1344 1013.6L1345.5 1013.7L1347 1013.7L1348.5 1013.5L1350 1013.7L1351.5 1013L1353 1012.6L1354.5 1010.7L1356 1009L1357.5 1007.3L1359 1003.2L1360.5 1001L1362 997.1L1363.5 993.6L1365 991.3L1366.5 987.5L1368 983.9L1369.5 980.1L1371 976.5L1372.5 974.3L1374 968.2L1375.5 966.8L1377 965.2L1378.5 965.6L1380 965L1381.5 964.3L1383 967L1384.5 966.2L1386 967.2L1387.5 966.7L1389 966.7L1390.5 966.2L1392 965.7L1393.5 964.2L1395 961.8L1396.5 961.1L1398 959.8L1399.5 959.5L1401 959L1402.5 958.8L1404 957.6L1405.5 957.6L1407 957.6L1408.5 957.6L1410 957.7L1411.5 960.5L1413 961.2L1414.5 964.2L1416 966.4L1417.5 969.8L1419 970.8L1420.5 977.4L1422 981.1L1423.5 986.1L1425 992.9L1426.5 1000.3L1428 1005.3L1429.5 1010.6L1431 1018L1432.5 1026.2L1434 1030.8L1435.5 1039.6L1437 1046L1438.5 1053L1440 1056.9L1441.5 1062.9L1443 1066.6L1444.5 1071L1446 1076L1447.5 1079.3L1449 1080.9L1450.5 1085.1L1452 1088.2L1453.5 1089.3L1455 1091.8L1456.5 1093.7L1458 1094.7L1459.5 1096L1461 1097L1462.5 1095.8L1464 1086L1465.5 1073.2L1467 1059.1L1468.5 1044.8L1470 1027.6L1471.5 1011.1L1473 1000.5L1474.5 993L1476 985.7L1477.5 978.2L1479 974.7L1480.5 970.1L1482 966.4L1483.5 962.6L1485 959.7L1486.5 957.5L1488 954.5L1489.5 951.9L1491 950.3L1492.5 949.8L1494 950.4L1495.5 951.7L1497 950.9L1498.5 952.7L1500 954L1501.5 955.4L1503 957.7L1504.5 960L1506 962L1507.5 966.1L1509 971.7L1510.5 975.8L1512 980.5L1513.5 984.4L1515 988.5L1516.5 992.6L1518 995.7L1519.5 998.9L1521 1003.1L1522.5 1007.1L1524 1009.2L1525.5 1013.5L1527 1016.1L1528.5 1017.8L1530 1020.8L1531.5 1023.2L1533 1026L1534.5 1028.3L1536 1029.3L1537.5 1031.2L1539 1034.4L1540.5 1035.4L1542 1037L1543.5 1038L1545 1039.7L1546.5 1038.9L1548 1041L1549.5 1040.6L1551 1042.2L1552.5 1043.1L1554 1042.1L1555.5 1043.7L1557 1043.6L1558.5 1044.4L1560 1045.1L1561.5 1045.1L1563 1044.9L1564.5 1047.4L1566 1048.2L1567.5 1048.2L1569 1048.4L1570.5 1051.3L1572 1051.4L1573.5 1051.8L1575 1051.8L1576.5 1052.9L1578 1054.3L1579.5 1054.5L1581 1057L1582.5 1057.2L1584 1058.6L1585.5 1059.4L1587 1061.3L1588.5 1063.4L1590 1066L1591.5 1067.4L1593 1068.8L1594.5 1070L1596 1070.1L1597.5 1070.4L1599 1068.7L1600.5 1067.5L1602 1067.6L1603.5 1068.3L1605 1067.4L1606.5 1068.2L1608 1068.6L1609.5 1069.9L1611 1070.7L1612.5 1071L1614 1072.4L1615.5 1074L1617 1075L1618.5 1075.8L1620 1076.7L1621.5 1077.1L1623 1078.2L1624.5 1080.1L1626 1080L1627.5 1081.7L1629 1081.5L1630.5 1083L1632 1083.2L1633.5 1082.7L1635 1079.7L1636.5 1071.7L1638 1063.1L1639.5 1054.6L1641 1047.5L1642.5 1042.7L1644 1035.7L1645.5 1030.3L1647 1023.8L1648.5 1019L1650 1013.9L1651.5 1009.1L1653 1003.7L1654.5 1000L1656 996.4L1657.5 991.1L1659 986.9L1660.5 982.6L1662 980.3L1663.5 975.9L1665 971.5L1666.5 968L1668 963.6L1669.5 960.6L1671 957.5L1672.5 954.4L1674 950.6L1675.5 947.4L1677 945L1678.5 941.5L1680 936.3L1681.5 933.3L1683 929.6L1684.5 924.2L1686 921L1687.5 916.9L1689 916.2L1690.5 914.3L1692 914.9L1693.5 917.2L1695 921.3L1696.5 922.8L1698 925.9L1699.5 930.5L1701 933.7L1702.5 938.4L1704 941.1L1705.5 945.7L1707 951.3L1708.5 956.7L1710 961.5L1711.5 966.5L1713 969.1L1714.5 973.3L1716 977.4L1717.5 981.6L1719 984.9L1720.5 987.7L1722 990.5L1723.5 994.5L1725 997.2L1726.5 1000.5L1728 1000.8L1729.5 1003.5L1731 1003.7L1732.5 1006.3L1734 1009L1735.5 1012.6L1737 1016.3L1738.5 1021L1740 1026.2L1741.5 1031.9L1743 1040.6L1744.5 1049L1746 1056.9L1747.5 1063.3L1749 1066.3L1750.5 1069.5L1752 1072.3L1753.5 1074.9L1755 1077.4L1756.5 1078.6L1758 1081.4L1759.5 1083L1761 1083.9L1762.5 1084L1764 1084.4L1765.5 1085.9L1767 1087.1L1768.5 1088.3L1770 1088.4L1771.5 1089L1773 1090.6L1774.5 1089.8L1776 1091.2L1777.5 1091.5L1779 1090.6L1780.5 1091.8L1782 1091.6L1783.5 1091.7L1785 1091.5L1786.5 1092L1788 1093.4L1789.5 1093.2L1791 1093.9L1792.5 1093.3L1794 1094L1795.5 1094.3L1797 1093.8L1798.5 1093.9L1800 1095.3L1802.5 1095.4L1805 1095L1807.5 1095.7L1810 1096.2L1812.5 1098.1L1815 1095.5L1817.5 1096.3L1820 1097.1L1822.5 1095.8L1825 1096.5L1827.5 1094L1830 1096.2L1832.5 1095.2L1835 1094L1837.5 1095.5L1840 1095.6L1842.5 1095.9L1845 1096.5L1847.5 1096.5L1850 1097.1L1852.5 1097.7L1855 1099.2L1857.5 1100L1860 1099.7L1862.5 1100L1865 1101L1867.5 1099.8L1870 1100.7L1872.5 1100.4L1875 1098.1L1877.5 1098.1L1880 1097.2L1882.5 1096.8L1885 1097.7L1887.5 1095.9L1890 1095.4L1892.5 1095.1L1895 1094.5L1897.5 1092.5L1900 1091L1902.5 1090.3L1905 1088.9L1907.5 1088.1L1910 1088L1912.5 1087.2L1915 1088.8L1917.5 1089.5L1920 1091.8L1922.5 1093L1925 1093.1L1927.5 1095.4L1930 1095.6L1932.5 1096.6L1935 1097.5"/>
<path d="M113 1320L114.4 1320.6L115.8 1317.8L117.2 1319.3L118.6 1314.5L120 1318.9L121.4 1311.7L122.8 1315.3L124.2 1318.9L125.6 1309L127 1317.4L128.4 1309.9L129.8 1304.5L131.2 1312.6L132.6 1312.1L134 1300.1L135.4 1308.4L136.8 1301L138.2 1319.9L139.6 1299.2L141 1293.5L142.4 1305.1L143.8 1299.5L145.2 1286.1L146.6 1296.8L148 1286.7L149.4 1293.3L150.8 1275.7L152.2 1293.2L153.6 1284.3L155 1291.6L156.4 1276.1L157.8 1272.9L159.2 1294.1L160.6 1256.4L162 1305.1L163.4 1270.1L164.8 1284.8L166.2 1312.6L167.6 1269.9L169 1285.1L170.4 1268.6L171.8 1280L173.2 1316.7L174.6 1297.6L176 1269L177.4 1295.5L178.8 1257.8L180.2 1305.1L181.6 1259.2L183 1249.5L184.4 1322.2L185.8 1290.8L187.2 1276.8L188.6 1292.8L190 1265.9L191.4 1268.4L192.8 1314L194.2 1292.1L195.6 1246.8L197 1260.4L198.4 1291.2L199.8 1292.6L201.2 1246.8L202.6 1294.7L204 1275.8L205.4 1274.3L206.8 1309.3L208.2 1292.7L209.6 1273.2L211 1314.5L212.4 1262.4L213.8 1320.3L215.2 1254.9L216.6 1301.1L218 1273.7L219.4 1291L220.8 1262.7L222.2 1297.3L223.6 1266.2L225 1292.1L226.4 1276L227.8 1266L229.2 1311.6L230.6 1266.3L232 1292.3L233.4 1276.3L234.8 1318.6L236.2 1291.5L237.6 1306.8L239 1243.2L240.4 1312.9L241.8 1278L243.2 1348L244.6 1300.6L246 1284.7L247.4 1237.3L248.8 1317.2L250.2 1268.1L251.6 1312.4L253 1295.8L254.4 1290.7L255.8 1264.4L257.2 1299L258.6 1258.8L260 1311.9L261.4 1307.4L262.8 1266.7L264.2 1292.7L265.6 1269.4L267 1305.8L268.4 1269.8L269.8 1268.5L271.2 1304.3L272.6 1320.5L274 1268.3L275.4 1282.3L276.8 1306.7L278.2 1278.7L279.6 1306.2L281 1310.6L282.4 1257.4L283.8 1302.6L285.2 1257L286.6 1234.8L288 1303.8L289.4 1298.3L290.8 1256.3L292.2 1278.9L293.6 1294.8L295 1276L296.4 1287.6L297.8 1275.7L299.2 1302.9L300.6 1267.7L302 1295.2L303.4 1281.3L304.8 1265L306.2 1281.3L307.6 1263.8L309 1281.3L310.4 1262L311.8 1254.8L313.2 1272.8L314.6 1261.7L316 1249.7L317.4 1238.9L318.8 1244.7L320.2 1261.5L321.6 1233.9L323 1227.9L324.4 1232.9L325.8 1220.6L327.2 1225L328.6 1206.8L330 1213.1L331.4 1197.8L332.8 1202.7L334.2 1186.7L335.6 1186L337 1177.6L338.4 1174.3L339.8 1164.4L341.2 1161.1L342.6 1155.2L344 1147.3L345.4 1139.3L346.8 1133.3L348.2 1125.3L349.6 1116.9L350 1114.7L354 1091.2L358 1066.4L362 1040.6L366 1014.4L370 988.4L374 962.4L378 936.4L382 910.9L386 883.3L390 855.7L394 829.1L398 805.8L402 783.1L406 767.3L410 750.6L414 733.7L418 722.3L422 710.7L426 708.1L430 699.4L434 695.2L438 694.1L442 692L446 692.4L450 693.7L454 695.3L458 701.4L462 700.5L466 708.2L470 713.9L474 721.9L478 728.5L482 735L486 742.8L490 751.8L494 760.1L498 770L502 781.4L506 792.6L510 803.8L514 816.2L518 828.7L522 842L526 855.6L530 870L534 884.6L538 898.9L542 912.5L546 925.8L550 938.7L554 951.5L558 963.9L562 975.8L566 987.5L570 999.3L574 1011.6L578 1024.5L582 1037.6L586 1050.7L590 1063.6L594 1076.8L598 1089.9L602 1102.4L606 1113.9L610 1124.6L614 1134.7L618 1143.9L622 1152.1L626 1159.6L630 1166.5L634 1171.9L638 1175.5L640 1177L641 1177.7L642 1178.4L643 1179L644 1179.5L645 1180L646 1180.4L647 1180.7L648 1180.9L649 1180.7L650 1179.1L651 1177.1L652 1174.5L653 1171.6L654 1168.4L655 1165L656 1161.1L657 1156.3L658 1150.9L659 1144.9L660 1138.5L661 1131.8L662 1125L663 1117.5L664 1109.1L665 1100.1L666 1090.8L667 1081.6L668 1072.9L669 1065L670 1057.6L671 1050.4L672 1043.3L673 1036.6L674 1030.4L675 1024.8L676 1020L677 1015.8L678 1011.9L679 1008.3L680 1005.2L681 1002.4L682 1000L683 997.8L684 995.6L685 993.8L686 992.5L687 992L688 992.8L689 995L690 998.1L691 1001.6L692 1005L693 1008.6L694 1012.9L695 1017.5L696 1022.1L697 1026.4L698 1030L699 1033.1L700 1036L701 1038.7L702 1041.3L703 1043.7L704 1046L705 1048.1L706 1050L707 1051.9L708 1053.7L709 1055.4L710 1056.9L711 1058.1L712 1059L713 1059.7L714 1060.2L715 1060.7L716 1061L717 1060.6L718 1057.9L719 1053.7L720 1049L721 1045L722 1041.4L723 1037.4L724 1033.7L725 1031L726 1030L727 1032.8L728 1040L729 1049.7L730 1060L731 1072.1L732 1087.3L733 1103.9L734 1120L735 1136.9L736 1154.5L737 1169.5L738 1179.5L739 1187.7L740 1195.1L741 1201.6L742 1207.3L743 1212.3L744 1216.5L745 1220L746 1223.1L747 1226L748 1228.7L749 1231.2L750 1233.6L751 1235.8L752 1237.9L753 1239.8L754 1241.6L755 1243.3L756 1244.8L757 1246.3L758 1247.6L759 1248.8L760 1250L761 1251.1L762 1252.1L767 1256.6L772 1260.2L777 1263.3L782 1266.1L787 1268.6L792 1270.7L797 1272.7L802 1274.6L807 1276.5L812 1278.6L817 1280.9L822 1283.7L827 1287L832 1290.7L837 1294.7L842 1298.8L847 1302.8L852 1306.5L857 1309.7L862 1312.5L867 1315.2L872 1317.7L877 1320L882 1322.3L887 1324.4L892 1326.4L897 1328.2L902 1330L907 1331.7L912 1333.3L917 1334.9L922 1336.3L927 1337.8L932 1339.1L937 1340.5L942 1341.8L947 1343L952 1344.1L957 1345.2L962 1346.2L967 1347.2L972 1348.2L977 1349.3L982 1350.4L984 1350.7L984.8 1350.9L985.6 1351.1L986.4 1351.3L987.2 1351.6L988 1352L988.8 1354.2L989.6 1359L990.4 1364.9L991.2 1370.5L992 1374.2L992.8 1374.4L993.6 1368.7L994.4 1359.8L995.2 1351.6L996 1348L996.8 1348.1L997.6 1348.4L998.4 1348.7L999.2 1349.1L1000 1349.5L1000.8 1349.8L1001.6 1350L1002.4 1350L1003.2 1349.9L1004 1349.8L1004.8 1349.7L1005.6 1349.5L1006 1349.4L1014 1346.3L1022 1345.3L1030 1349.4L1038 1351L1046 1350.9L1054 1350.8L1062 1350.6L1070 1350.3L1078 1350L1086 1349.6L1094 1349.3L1102 1348.9L1110 1348.5L1118 1348.1L1126 1347.7L1134 1347.3L1142 1347L1150 1346.7L1158 1346.4L1166 1346.2L1174 1346.1L1182 1346L1190 1346.1L1198 1346.4L1206 1346.8L1214 1347.1L1222 1347.4L1230 1347.4L1238 1346L1246 1343.7L1254 1341.7L1262 1341L1270 1342.1L1278 1344.1L1286 1346.1L1290 1346.9L1291.5 1347.1L1293 1347.3L1294.5 1347.4L1296 1347.5L1297.5 1347.4L1299 1347L1300.5 1347.4L1302 1344.5L1303.5 1344.5L1305 1343.2L1306.5 1341L1308 1339.8L1309.5 1338L1311 1336.5L1312.5 1335.3L1314 1333.7L1315.5 1331.3L1317 1329.6L1318.5 1327L1320 1324L1321.5 1323.1L1323 1320.7L1324.5 1317.3L1326 1316.3L1327.5 1313.1L1329 1310.3L1330.5 1308.6L1332 1303.3L1333.5 1300.8L1335 1299L1336.5 1295L1338 1290.5L1339.5 1287.4L1341 1282.2L1342.5 1276.7L1344 1273L1345.5 1270.5L1347 1268.4L1348.5 1264.1L1350 1263.5L1351.5 1261.3L1353 1258.5L1354.5 1256.9L1356 1252.9L1357.5 1248.7L1359 1243.9L1360.5 1236.9L1362 1229.9L1363.5 1223.7L1365 1218.9L1366.5 1216L1368 1211.7L1369.5 1209.2L1371 1207.2L1372.5 1204L1374 1202.2L1375.5 1201.7L1377 1201.1L1378.5 1199.7L1380 1200.4L1381.5 1202.8L1383 1204.7L1384.5 1206.6L1386 1210.3L1387.5 1212.1L1389 1213.9L1390.5 1217.6L1392 1218.9L1393.5 1220.7L1395 1223.1L1396.5 1226.4L1398 1227.7L1399.5 1229L1401 1231.9L1402.5 1234.2L1404 1236.4L1405.5 1239.3L1407 1241.9L1408.5 1244.3L1410 1246.7L1411.5 1250.2L1413 1251.6L1414.5 1255.9L1416 1258.4L1417.5 1261.6L1419 1263.3L1420.5 1269.1L1422 1270.7L1423.5 1275L1425 1279.7L1426.5 1282.9L1428 1287L1429.5 1289.9L1431 1294.8L1432.5 1298.9L1434 1302.9L1435.5 1306.1L1437 1310.3L1438.5 1314.2L1440 1317.3L1441.5 1320.9L1443 1325.9L1444.5 1327.5L1446 1331.7L1447.5 1334.1L1449 1338.2L1450.5 1340.2L1452 1343.8L1453.5 1346.6L1455 1348L1456.5 1349.7L1458 1349.6L1459.5 1349.5L1461 1348L1462.5 1346.6L1464 1343.3L1465.5 1339.2L1467 1330.5L1468.5 1313.5L1470 1293.3L1471.5 1277.6L1473 1263.9L1474.5 1251.2L1476 1239.1L1477.5 1231.4L1479 1228.2L1480.5 1223.6L1482 1222.1L1483.5 1219.8L1485 1217.7L1486.5 1216.5L1488 1214.4L1489.5 1213.8L1491 1211.7L1492.5 1209.7L1494 1211.8L1495.5 1210.8L1497 1210.6L1498.5 1213.1L1500 1213.2L1501.5 1212.8L1503 1216L1504.5 1218.1L1506 1220L1507.5 1223.4L1509 1225.3L1510.5 1229L1512 1231.4L1513.5 1235.6L1515 1239.8L1516.5 1242.6L1518 1246.3L1519.5 1249.2L1521 1254.4L1522.5 1258.1L1524 1263.5L1525.5 1266.5L1527 1270.7L1528.5 1272.9L1530 1277.3L1531.5 1278.2L1533 1281.5L1534.5 1285.3L1536 1286.2L1537.5 1287.7L1539 1290.6L1540.5 1292.7L1542 1294.4L1543.5 1294.4L1545 1297.2L1546.5 1297.3L1548 1301L1549.5 1301.2L1551 1302.1L1552.5 1303.9L1554 1304.9L1555.5 1305.1L1557 1308L1558.5 1308.1L1560 1308.6L1561.5 1311.8L1563 1313.2L1564.5 1314.4L1566 1315.4L1567.5 1316L1569 1318.5L1570.5 1320.5L1572 1321.4L1573.5 1323.4L1575 1323.7L1576.5 1326.4L1578 1328.1L1579.5 1328.7L1581 1330L1582.5 1334.5L1584 1337.7L1585.5 1340.5L1587 1342.4L1588.5 1344.1L1590 1344.9L1591.5 1344.9L1593 1344.2L1594.5 1342.7L1596 1340.7L1597.5 1339.3L1599 1337.7L1600.5 1338L1602 1337.5L1603.5 1339.6L1605 1339.8L1606.5 1341.4L1608 1342.4L1609.5 1344.2L1611 1346L1612.5 1347.2L1614 1347.9L1615.5 1348.6L1617 1350.5L1618.5 1351.7L1620 1353.1L1621.5 1354.6L1623 1354.6L1624.5 1354.6L1626 1356.4L1627.5 1356L1629 1356.7L1630.5 1358.1L1632 1355.6L1633.5 1349L1635 1341.1L1636.5 1332.8L1638 1324L1639.5 1318.1L1641 1310L1642.5 1303.5L1644 1294L1645.5 1287.5L1647 1279.2L1648.5 1273.4L1650 1265.7L1651.5 1260.4L1653 1253.5L1654.5 1247.3L1656 1241.8L1657.5 1236.4L1659 1230.8L1660.5 1226L1662 1220.1L1663.5 1212.7L1665 1208.8L1666.5 1202.7L1668 1198.5L1669.5 1194.1L1671 1188.1L1672.5 1183.5L1674 1179.6L1675.5 1174.9L1677 1171.2L1678.5 1165.4L1680 1160.2L1681.5 1156.6L1683 1149.2L1684.5 1144.8L1686 1140.3L1687.5 1137.9L1689 1136.4L1690.5 1135.8L1692 1135.7L1693.5 1137.2L1695 1140L1696.5 1143.2L1698 1148.1L1699.5 1153L1701 1155.1L1702.5 1160.7L1704 1169.5L1705.5 1175.1L1707 1183.9L1708.5 1190.5L1710 1198.5L1711.5 1204.5L1713 1210.5L1714.5 1217.2L1716 1222.8L1717.5 1228.3L1719 1233.3L1720.5 1235.7L1722 1236.4L1723.5 1237.6L1725 1238.9L1726.5 1239.8L1728 1240.8L1729.5 1241.3L1731 1243.8L1732.5 1244.4L1734 1246.8L1735.5 1249.8L1737 1254.2L1738.5 1258.2L1740 1265.5L1741.5 1271.2L1743 1278.3L1744.5 1289.1L1746 1302.8L1747.5 1313L1749 1319.2L1750.5 1324.8L1752 1329L1753.5 1334.5L1755 1337.9L1756.5 1340.8L1758 1344.6L1759.5 1344L1761 1346.8L1762.5 1349L1764 1351.1L1765.5 1351.6L1767 1351.3L1768.5 1352.4L1770 1354.2L1771.5 1354.4L1773 1356.3L1774.5 1356L1776 1356.6L1777.5 1357.4L1779 1357.4L1780.5 1358.3L1782 1358.3L1783.5 1359.1L1785 1359.2L1786.5 1359.9L1788 1359.1L1789.5 1359.2L1791 1360.3L1792.5 1360L1794 1359L1795.5 1359.2L1797 1358.3L1798.5 1359.7L1800 1357.3L1802.5 1358.7L1805 1357.1L1807.5 1358.1L1810 1358.4L1812.5 1359.3L1815 1361.1L1817.5 1362L1820 1362.1L1822.5 1362L1825 1363.6L1827.5 1362.9L1830 1361.6L1832.5 1360.9L1835 1360.7L1837.5 1360.2L1840 1360.8L1842.5 1359.9L1845 1361.6L1847.5 1362.5L1850 1366.5L1852.5 1367.1L1855 1367.1L1857.5 1367.9L1860 1368L1862.5 1366.1L1865 1364.4L1867.5 1364.2L1870 1362.6L1872.5 1361.3L1875 1361.9L1877.5 1361.5L1880 1361L1882.5 1363.3L1885 1364.3L1887.5 1366.6L1890 1366.5L1892.5 1367.2L1895 1367.8L1897.5 1365.8L1900 1361.2L1902.5 1360.1L1905 1360L1907.5 1361.4L1910 1362.5L1912.5 1361.1L1915 1361.9L1917.5 1362.7L1920 1363.4L1922.5 1363.9L1925 1364.9L1927.5 1366L1930 1365.9L1932.5 1366.4L1935 1367L1937.5 1367.5"/>
<path d="M113 1414.5L114.4 1414.4L115.8 1412.9L117.2 1409.5L118.6 1409.6L120 1402.2L121.4 1402.4L122.8 1405.9L124.2 1402.4L125.6 1395.1L127 1398.9L128.4 1390L129.8 1384.8L131.2 1391.4L132.6 1392.5L134 1378.3L135.4 1376L136.8 1389.2L138.2 1378.3L139.6 1382.6L141 1357.2L142.4 1386.5L143.8 1377.6L145.2 1353.1L146.6 1384.7L148 1362L149.4 1348.5L150.8 1367.6L152.2 1368.3L153.6 1349.1L155 1339.5L156.4 1370L157.8 1321.9L159.2 1369.5L160.6 1336.7L162 1356.2L163.4 1314L164.8 1391.6L166.2 1319.6L167.6 1371.3L169 1318.7L170.4 1343.4L171.8 1347.5L173.2 1305.5L174.6 1309.6L176 1409.2L177.4 1326.8L178.8 1373.8L180.2 1356.1L181.6 1304.2L183 1366.3L184.4 1308.6L185.8 1343.7L187.2 1323.8L188.6 1318.8L190 1352.7L191.4 1335.6L192.8 1319.2L194.2 1309.5L195.6 1369.7L197 1344.3L198.4 1318.2L199.8 1354.3L201.2 1292.3L202.6 1301.1L204 1351.5L205.4 1372L206.8 1315.8L208.2 1363.9L209.6 1317.1L211 1371.3L212.4 1326L213.8 1355.9L215.2 1300L216.6 1334.8L218 1326.2L219.4 1332.5L220.8 1386.5L222.2 1302.8L223.6 1364.2L225 1343.9L226.4 1306.1L227.8 1339.9L229.2 1318.2L230.6 1356.1L232 1325.5L233.4 1302.8L234.8 1346.2L236.2 1369.4L237.6 1318.6L239 1368.7L240.4 1306.4L241.8 1320.1L243.2 1356.8L244.6 1333L246 1361.4L247.4 1323.3L248.8 1353.6L250.2 1352.9L251.6 1312.8L253 1356.1L254.4 1321L255.8 1357.5L257.2 1297.1L258.6 1313.3L260 1355.3L261.4 1379L262.8 1298.8L264.2 1348.7L265.6 1306.1L267 1345.7L268.4 1314.6L269.8 1343.5L271.2 1307.9L272.6 1294.2L274 1344.4L275.4 1357L276.8 1296.3L278.2 1287.4L279.6 1350.9L281 1351.9L282.4 1292.1L283.8 1305.3L285.2 1365L286.6 1321.9L288 1339.4L289.4 1336.9L290.8 1312.5L292.2 1350.7L293.6 1289.3L295 1319.7L296.4 1337.7L297.8 1389.1L299.2 1307L300.6 1312L302 1346L303.4 1314.7L304.8 1325.8L306.2 1342.4L307.6 1309.5L309 1322.6L310.4 1299.3L311.8 1326.5L313.2 1303.9L314.6 1301.7L316 1340L317.4 1335.5L318.8 1311.1L320.2 1310.3L321.6 1329.1L323 1291.4L324.4 1318.7L325.8 1321.4L327.2 1304L328.6 1303.5L330 1312L331.4 1298.4L332.8 1304.6L334.2 1301.2L335.6 1291.1L337 1296.3L338.4 1285.2L339.8 1284.3L341.2 1282.7L342.6 1277.3L344 1274L345.4 1269.3L346.8 1264.1L348.2 1258.8L349.6 1253.3L350 1251.7L354 1234.4L358 1215.6L362 1195.3L366 1173.7L370 1151L374 1127L378 1101.9L382 1076.9L386 1051.9L390 1026.9L394 1002.1L398 976.8L402 949.6L406 924.9L410 902.2L414 882.4L418 865.5L422 851L426 838.4L430 827.5L434 819.4L438 812.9L442 809L446 806.6L450 805.5L454 808L458 811.2L462 814.9L466 820.3L470 826.7L474 833.1L478 839.4L482 846L486 852.9L490 860.4L494 868.8L498 878L502 887.9L506 898.2L510 908.9L514 920.1L518 931.9L522 944.1L526 956.6L530 969.8L534 983.5L538 997.1L542 1010.2L546 1022.8L550 1035.2L554 1047.3L558 1059.1L562 1070.6L566 1081.7L570 1092.7L574 1103.9L578 1115.6L582 1127.7L586 1140.1L590 1152.4L594 1164.5L598 1176.8L602 1189.1L606 1200.9L610 1211.6L614 1221.6L618 1231.1L622 1239.8L626 1247.6L630 1254.7L634 1261.2L638 1266.6L640 1268.6L641 1269.4L642 1270.1L643 1270.9L644 1271.6L645 1272.3L646 1273L647 1273.6L648 1274.1L649 1274.6L650 1275.1L651 1275.4L652 1275.7L653 1275.9L654 1275.4L655 1272.7L656 1269.2L657 1265.1L658 1260.5L659 1255.4L660 1250L661 1243.8L662 1236.5L663 1228.2L664 1219.1L665 1209.6L666 1199.8L667 1190L668 1179.4L669 1167.7L670 1155.4L671 1142.9L672 1130.8L673 1119.7L674 1110L675 1101.4L676 1093.2L677 1085.4L678 1078.2L679 1071.5L680 1065.4L681 1060L682 1054.7L683 1049.3L684 1044.6L685 1041.3L686 1040L687 1041.2L688 1044.5L689 1049.1L690 1054.5L691 1060L692 1066.4L693 1074.4L694 1083.5L695 1093.2L696 1102.9L697 1112L698 1120L699 1127.1L700 1134L701 1140.7L702 1147.1L703 1153.2L704 1159.1L705 1164.7L706 1170L707 1175.4L708 1181.1L709 1186.5L710 1191.2L711 1194.9L712 1197L713 1198.2L714 1199.1L715 1199.8L716 1200L717 1198.6L718 1194.9L719 1189.9L720 1184.6L721 1180L722 1175.4L723 1170.1L724 1165.1L725 1161.4L726 1160L727 1161.8L728 1166.4L729 1172.9L730 1180L731 1189.7L732 1203L733 1217.3L734 1230L735 1240.9L736 1251.2L737 1260.9L738 1270L739 1279L740 1287.9L741 1296.1L742 1302.6L743 1307L744 1310.8L745 1314.1L746 1317.1L747 1319.8L748 1322.2L749 1324.3L750 1326.3L751 1328.2L752 1330L753 1331.7L754 1333.3L755 1334.9L756 1336.3L757 1337.7L758 1339.1L759 1340.3L760 1341.5L761 1342.7L762 1343.8L767 1349L772 1353.6L777 1357.8L782 1361.5L787 1365L792 1368.3L797 1371.4L802 1374.2L807 1377L812 1379.6L817 1382.3L822 1385.1L827 1388L832 1390.9L837 1393.8L842 1396.6L847 1399.4L852 1402.1L857 1404.7L862 1407.3L867 1409.9L872 1412.5L877 1415L882 1417.3L887 1419.5L892 1421.5L897 1423.2L902 1424.7L907 1426.2L912 1427.5L917 1428.8L922 1430.1L927 1431.2L932 1432.3L937 1433.4L942 1434.4L947 1435.4L952 1436.5L957 1437.6L962 1438.6L967 1439.4L972 1439.9L977 1438.3L982 1426L984 1421.7L984.8 1420.7L985.6 1420.1L986.4 1420.4L987.2 1423.5L988 1428.3L988.8 1433.7L989.6 1438.4L990.4 1441.3L991.2 1444L992 1446.6L992.8 1449.1L993.6 1451.4L994.4 1453.5L995.2 1455.2L996 1456.5L996.8 1457.3L997.6 1457.4L998.4 1452.2L999.2 1441.9L1000 1431.4L1000.8 1425.3L1001.6 1425.2L1002.4 1425.8L1003.2 1426.9L1004 1428.4L1004.8 1430.1L1005.6 1432L1006 1433.1L1007.6 1437.2L1009.2 1441L1010.8 1443.8L1012.4 1445L1014 1444.9L1015.6 1444.4L1017.2 1443.7L1018.8 1442.9L1020.4 1441.9L1022 1440.9L1023.6 1439.9L1025.2 1439L1026.8 1438.3L1028.4 1437.7L1030 1437.5L1031.6 1437.4L1033.2 1437.3L1034.8 1437.3L1036.4 1437.2L1038 1437.1L1039.6 1437.1L1041.2 1437L1042.8 1437L1044.4 1436.9L1046 1436.9L1047.6 1436.8L1049.2 1436.8L1050.8 1436.8L1052.4 1436.7L1054 1436.7L1055.6 1436.7L1057.2 1436.7L1058.8 1436.6L1060.4 1436.6L1062 1436.6L1063.6 1436.6L1065.2 1436.5L1066.8 1436.5L1068.4 1436.5L1070 1436.5L1071.6 1436.5L1073.2 1436.4L1074.8 1436.4L1076.4 1436.4L1078 1436.4L1079.6 1436.3L1081.2 1436.3L1082.8 1436.3L1084.4 1436.3L1086 1436.2L1087.6 1436.2L1089.2 1436.2L1090.8 1436.1L1092.4 1436.1L1094 1436L1095.6 1436L1097.2 1435.9L1098.8 1435.9L1100.4 1435.8L1102 1435.8L1103.6 1435.9L1105.2 1435.5L1106.8 1435.4L1108.4 1435.3L1110 1435.8L1111.6 1434.5L1113.2 1434.9L1114.8 1436.3L1116.4 1435.6L1118 1434.4L1119.6 1435.1L1121.2 1435.7L1122.8 1435.4L1124.4 1434.8L1126 1434.2L1127.6 1435.5L1129.2 1434.7L1130.8 1435.4L1132.4 1434.9L1134 1433.2L1135.6 1436L1137.2 1433.6L1138.8 1434.7L1140.4 1433.2L1142 1433.6L1143.6 1433.5L1145.2 1432.7L1146.8 1433.9L1148.4 1435.4L1150 1436.1L1151.6 1435.2L1153.2 1432.1L1154.8 1434.7L1156.4 1432.4L1158 1434.6L1159.6 1428.4L1161.2 1433.3L1162.8 1428.7L1164.4 1431.9L1166 1428.1L1167.6 1430.6L1169.2 1427.6L1170.8 1423.5L1172.4 1425.2L1174 1426.5L1175.6 1427L1177.2 1420.9L1178.8 1423.3L1180.4 1424.3L1182 1425.5L1183.6 1426.6L1185.2 1423.8L1186.8 1421.9L1188.4 1426.9L1190 1425.2L1191.6 1432L1193.2 1424.7L1194.8 1428L1196.4 1423.8L1198 1427.1L1199.6 1426.7L1201.2 1427.8L1202.8 1423.9L1204.4 1425.8L1206 1424.3L1207.6 1425.7L1209.2 1428.7L1210.8 1435.6L1212.4 1427.2L1214 1429.2L1215.6 1427.5L1217.2 1430.6L1218.8 1428.7L1220.4 1430.5L1222 1428.5L1223.6 1434.6L1225.2 1437.3L1226.8 1422.4L1228.4 1428.4L1230 1427.7L1231.6 1420.9L1233.2 1424.9L1234.8 1426.1L1236.4 1425.3L1238 1427.9L1239.6 1422L1241.2 1429.8L1242.8 1429.9L1244.4 1428.6L1246 1426.5L1247.6 1427.5L1249.2 1426.1L1250.8 1431.1L1252.4 1429.1L1254 1433.8L1255.6 1426.4L1257.2 1432.1L1258.8 1425.7L1260.4 1427L1262 1424.2L1263.6 1429.2L1265.2 1427.3L1266.8 1429.5L1268.4 1432.3L1270 1427.3L1271.6 1428.8L1273.2 1430.5L1274.8 1427.3L1276.4 1425.7L1278 1428.7L1279.6 1429.2L1281.2 1430.1L1282.8 1430.3L1284.4 1425.3L1286 1431.1L1287.6 1431.6L1289.2 1426L1290 1428.7L1290.8 1425.4L1291.5 1428.9L1292.4 1433.4L1293 1428.1L1294 1424.3L1294.5 1428.7L1295.6 1428.3L1296 1431.3L1297.2 1422.8L1297.5 1424.4L1298.8 1426.8L1299 1422.1L1300.5 1431.8L1302 1420L1303.5 1425.1L1305 1422.2L1306.5 1423.5L1308 1428.1L1309.5 1429.4L1311 1431.4L1312.5 1426.3L1314 1415.9L1315.5 1423.1L1317 1415.2L1318.5 1419.7L1320 1419.2L1321.5 1417.1L1323 1419.4L1324.5 1413.6L1326 1422.2L1327.5 1414.1L1329 1414.6L1330.5 1414.8L1332 1407.4L1333.5 1400.4L1335 1403.2L1336.5 1388.6L1338 1388.7L1339.5 1384.7L1341 1380.5L1342.5 1382L1344 1373.3L1345.5 1376.6L1347 1372.2L1348.5 1366.8L1350 1364.8L1351.5 1354.5L1353 1347.3L1354.5 1346.6L1356 1344.2L1357.5 1348.2L1359 1333.7L1360.5 1330.8L1362 1322.9L1363.5 1321.3L1365 1307.8L1366.5 1307L1368 1295L1369.5 1286.6L1371 1279.6L1372.5 1273.9L1374 1276.8L1375.5 1270L1377 1270.7L1378.5 1272.7L1380 1273.2L1381.5 1278.4L1383 1280L1384.5 1284.2L1386 1285.5L1387.5 1279L1389 1285.7L1390.5 1289.7L1392 1281L1393.5 1283.2L1395 1285L1396.5 1288.4L1398 1284.6L1399.5 1282.6L1401 1284.3L1402.5 1285.7L1404 1283.7L1405.5 1289.4L1407 1286L1408.5 1282.1L1410 1284.1L1411.5 1287.1L1413 1288.3L1414.5 1295.4L1416 1295.8L1417.5 1303.7L1419 1306.5L1420.5 1318.8L1422 1311.4L1423.5 1317.2L1425 1325.7L1426.5 1329.6L1428 1336.3L1429.5 1341.1L1431 1347.1L1432.5 1362.1L1434 1367.3L1435.5 1365.2L1437 1373.8L1438.5 1381.3L1440 1390.9L1441.5 1393.9L1443 1395.7L1444.5 1408.5L1446 1408.4L1447.5 1417.7L1449 1418.5L1450.5 1426.1L1452 1428.9L1453.5 1431.6L1455 1428.9L1456.5 1432.5L1458 1429.7L1459.5 1423L1461 1423.7L1462.5 1418.6L1464 1418.3L1465.5 1416L1467 1400.6L1468.5 1392.8L1470 1375.9L1471.5 1358.5L1473 1352.8L1474.5 1340.4L1476 1332.9L1477.5 1334L1479 1330.1L1480.5 1319.8L1482 1326.7L1483.5 1325.1L1485 1320L1486.5 1325.8L1488 1318.6L1489.5 1319.4L1491 1311.3L1492.5 1316.4L1494 1311.5L1495.5 1311.8L1497 1304.7L1498.5 1308.3L1500 1307.5L1501.5 1307.1L1503 1297.3L1504.5 1304.5L1506 1306L1507.5 1305.3L1509 1313.4L1510.5 1318.9L1512 1324.5L1513.5 1325.2L1515 1329.1L1516.5 1332.6L1518 1335.3L1519.5 1338.5L1521 1342.4L1522.5 1345L1524 1347L1525.5 1351.2L1527 1353.1L1528.5 1355.4L1530 1359.4L1531.5 1361.7L1533 1363.5L1534.5 1366.2L1536 1367.4L1537.5 1368.9L1539 1369.9L1540.5 1374.2L1542 1375.9L1543.5 1378.6L1545 1379.3L1546.5 1383L1548 1385.3L1549.5 1386.9L1551 1389.1L1552.5 1392.3L1554 1396.6L1555.5 1397.5L1557 1399L1558.5 1400.4L1560 1403.4L1561.5 1407L1563 1410L1564.5 1412.5L1566 1417.5L1567.5 1417.7L1569 1421.8L1570.5 1422.6L1572 1428.7L1573.5 1428L1575 1430.2L1576.5 1434.6L1578 1435.1L1579.5 1437.5L1581 1439.3L1582.5 1442.1L1584 1443.4L1585.5 1445.1L1587 1446.5L1588.5 1447.4L1590 1447.3L1591.5 1445.7L1593 1444.2L1594.5 1442.5L1596 1439.4L1597.5 1437.5L1599 1435L1600.5 1432.7L1602 1431L1603.5 1429.6L1605 1428.2L1606.5 1429.4L1608 1427.1L1609.5 1427.6L1611 1423.4L1612.5 1421.2L1614 1420.2L1615.5 1419.9L1617 1419.5L1618.5 1417.4L1620 1416.2L1621.5 1417.5L1623 1416.8L1624.5 1414.7L1626 1414.8L1627.5 1412.6L1629 1411.6L1630.5 1410L1632 1406.4L1633.5 1398.4L1635 1392.8L1636.5 1384.1L1638 1374.7L1639.5 1367.9L1641 1359.1L1642.5 1350.9L1644 1346L1645.5 1337.5L1647 1329.8L1648.5 1322.8L1650 1315L1651.5 1305L1653 1299.1L1654.5 1292.2L1656 1284.1L1657.5 1275L1659 1268.9L1660.5 1261L1662 1256.5L1663.5 1250.6L1665 1243.2L1666.5 1238L1668 1234.1L1669.5 1228.2L1671 1225L1672.5 1221.3L1674 1219.4L1675.5 1216.3L1677 1213.1L1678.5 1210.8L1680 1209.6L1681.5 1206.4L1683 1205.2L1684.5 1204.5L1686 1204.3L1687.5 1206.3L1689 1206.9L1690.5 1208.4L1692 1210.9L1693.5 1213.8L1695 1216L1696.5 1220.5L1698 1223.3L1699.5 1230L1701 1235.7L1702.5 1245.2L1704 1250.9L1705.5 1258.5L1707 1265.1L1708.5 1272.3L1710 1278.1L1711.5 1283.6L1713 1290.9L1714.5 1295.4L1716 1300.6L1717.5 1304.8L1719 1310.3L1720.5 1313.4L1722 1315.1L1723.5 1316.9L1725 1319L1726.5 1321.3L1728 1319.5L1729.5 1321.7L1731 1321.2L1732.5 1321.6L1734 1321.4L1735.5 1322.8L1737 1324.4L1738.5 1330.4L1740 1337.3L1741.5 1340.9L1743 1346.7L1744.5 1356.3L1746 1362.5L1747.5 1371.3L1749 1373.6L1750.5 1382.8L1752 1386.4L1753.5 1391.8L1755 1395.8L1756.5 1398.6L1758 1400.5L1759.5 1404.8L1761 1408.9L1762.5 1412.6L1764 1415.2L1765.5 1417.7L1767 1419.5L1768.5 1419.1L1770 1423L1771.5 1424.3L1773 1426L1774.5 1428.1L1776 1427.9L1777.5 1432.1L1779 1432.7L1780.5 1434.8L1782 1434.6L1783.5 1435L1785 1436.5L1786.5 1437.4L1788 1438.6L1789.5 1439.8L1791 1440.5L1792.5 1441L1794 1443.5L1795.5 1443L1797 1443.1L1798.5 1444.7L1800 1446.2L1802.5 1447.4L1805 1447.8L1807.5 1448.3L1810 1449.7L1812.5 1448.4L1815 1448.2L1817.5 1448.6L1820 1450.2L1822.5 1449.5L1825 1449.1L1827.5 1448.5L1830 1448L1832.5 1446.9L1835 1446.4L1837.5 1446.2L1840 1444.9L1842.5 1446.8L1845 1446.8L1847.5 1447.8L1850 1449.4L1852.5 1450.7L1855 1452L1857.5 1452.9L1860 1452.2L1862.5 1452L1865 1449.2L1867.5 1449.5L1870 1449.3L1872.5 1447.6L1875 1445.7L1877.5 1446.3L1880 1447.1L1882.5 1448.6L1885 1448.6L1887.5 1449.7L1890 1450.8L1892.5 1452.6L1895 1451.9L1897.5 1452.2L1900 1453.2L1902.5 1452.7L1905 1451.6L1907.5 1450.8L1910 1451.9L1912.5 1450.2L1915 1448.9L1917.5 1448.7L1920 1448.5L1922.5 1447.5L1925 1447L1927.5 1446.5L1930 1447.8L1932.5 1449.1L1935 1450.4L1936 1450.5"/>
<path d="M113 1594.8L114.4 1597.8L115.8 1596.3L117.2 1592L118.6 1591.5L120 1592.9L121.4 1590.3L122.8 1591.9L124.2 1598L125.6 1598.8L127 1590L128.4 1591.9L129.8 1591.6L131.2 1587.6L132.6 1581.9L134 1590.7L135.4 1585.1L136.8 1587L138.2 1587.5L139.6 1579.8L141 1591L142.4 1582.5L143.8 1584.2L145.2 1578.2L146.6 1583.9L148 1585.1L149.4 1574.9L150.8 1586.7L152.2 1573.9L153.6 1567.5L155 1572.9L156.4 1579L157.8 1578L159.2 1581.5L160.6 1566.6L162 1568.8L163.4 1571.2L164.8 1575.3L166.2 1567.9L167.6 1559.3L169 1552.7L170.4 1577.4L171.8 1575.4L173.2 1557.6L174.6 1577.6L176 1561.2L177.4 1565.3L178.8 1572.5L180.2 1553.5L181.6 1549.3L183 1538L184.4 1558.8L185.8 1559.6L187.2 1563.5L188.6 1560.1L190 1554L191.4 1565.6L192.8 1540.4L194.2 1556.7L195.6 1558.2L197 1551.1L198.4 1572.1L199.8 1558L201.2 1568.1L202.6 1563.6L204 1552.9L205.4 1575L206.8 1567.1L208.2 1557.4L209.6 1556.4L211 1548.6L212.4 1557.6L213.8 1557.6L215.2 1562.2L216.6 1557.5L218 1566.4L219.4 1560.8L220.8 1550.3L222.2 1559.3L223.6 1556.9L225 1554.7L226.4 1562.4L227.8 1571.5L229.2 1556.5L230.6 1549.8L232 1564.3L233.4 1589.8L234.8 1561.4L236.2 1568.7L237.6 1563.3L239 1584.8L240.4 1579.8L241.8 1566.3L243.2 1578.4L244.6 1558.5L246 1570.4L247.4 1557.1L248.8 1570.9L250.2 1563.6L251.6 1572.1L253 1559.1L254.4 1572.7L255.8 1571.8L257.2 1565.4L258.6 1563.5L260 1560.2L261.4 1568.1L262.8 1576.1L264.2 1569.8L265.6 1574.3L267 1585L268.4 1570.5L269.8 1576.5L271.2 1581.6L272.6 1585.9L274 1578.2L275.4 1575.7L276.8 1592.3L278.2 1575L279.6 1572.6L281 1581.3L282.4 1590.5L283.8 1588.8L285.2 1577.4L286.6 1584.3L288 1581.4L289.4 1577.4L290.8 1581.1L292.2 1579.4L293.6 1574.2L295 1584.1L296.4 1567.6L297.8 1591.2L299.2 1580.2L300.6 1586.3L302 1566.2L303.4 1558.5L304.8 1548.1L306.2 1553.8L307.6 1563.3L309 1540.9L310.4 1538.2L311.8 1550L313.2 1540.2L314.6 1521.6L316 1529.9L317.4 1526.9L318.8 1512.7L320.2 1519.6L321.6 1510.6L323 1510.4L324.4 1504.1L325.8 1498.3L327.2 1492.9L328.6 1488.6L330 1483.4L331.4 1478.1L332.8 1472.6L334.2 1467L335.6 1461.2L337 1455.4L338.4 1449.4L339.8 1443.3L341.2 1437.2L342.6 1431L344 1424.7L345.4 1418.2L346.8 1411.6L348.2 1404.9L349.6 1398.2L350 1396.2L354 1376.4L358 1356L362 1335.8L366 1315.7L370 1295.5L374 1275.3L378 1255.3L382 1234.3L386 1212.4L390 1192.5L394 1173.8L398 1156.8L402 1142.1L406 1129L410 1117.5L414 1107.3L418 1098L422 1090.7L426 1084.7L430 1079.9L434 1077L438 1074.9L442 1073.6L446 1073.5L450 1073.8L454 1075.7L458 1078.4L462 1081.6L466 1086.3L470 1091.8L474 1097.3L478 1102.7L482 1108.3L486 1114.3L490 1120.9L494 1128.3L498 1136.5L502 1145.2L506 1154.3L510 1163.7L514 1173.8L518 1184.3L522 1195.2L526 1206.5L530 1218.6L534 1230.8L538 1242.9L542 1254.5L546 1265.8L550 1277L554 1288.1L558 1298.9L562 1309.3L566 1319.7L570 1330.3L574 1341.3L578 1353L582 1365L586 1377.2L590 1389.3L594 1401.7L598 1414.3L602 1426.7L606 1438.1L610 1449L614 1459.5L618 1469.4L622 1478.4L626 1486.9L630 1495L634 1501.8L638 1506.5L640 1508.6L641 1509.6L642 1510.6L643 1511.5L644 1512.3L645 1513.1L646 1513.8L647 1514.4L648 1514.8L649 1514.8L650 1513.2L651 1510.6L652 1507L653 1502.8L654 1498L655 1493L656 1487L657 1479.4L658 1470.5L659 1460.3L660 1449.2L661 1437.4L662 1425L663 1410.9L664 1394.4L665 1375.9L666 1356.4L667 1336.3L668 1316.4L669 1297.4L670 1280L671 1263.2L672 1246.1L673 1229L674 1212.4L675 1196.8L676 1182.5L677 1170.1L678 1160L679 1151.1L680 1142.3L681 1133.8L682 1126.2L683 1119.6L684 1114.5L685 1111.2L686 1110L687 1111.6L688 1116.2L689 1122.9L690 1131.2L691 1140.5L692 1150L693 1161.7L694 1177.2L695 1195.4L696 1215.3L697 1235.8L698 1255.8L699 1274.2L700 1290L701 1304.2L702 1318.4L703 1332.3L704 1345.4L705 1357.6L706 1368.4L707 1377.7L708 1385L709 1391.2L710 1397.3L711 1402.9L712 1407.8L713 1411.6L714 1414.1L715 1415L716 1414.4L717 1412.6L718 1410.2L719 1407.4L720 1404.5L721 1402L722 1399.3L723 1396.1L724 1393.1L725 1390.9L726 1390L727 1391.9L728 1396.8L729 1403.3L730 1410L731 1417.6L732 1426.8L733 1436.3L734 1445L735 1452.6L736 1459.8L737 1466.7L738 1473.4L739 1480.3L740 1487.1L741 1493.3L742 1498.2L743 1501.5L744 1504.4L745 1507.1L746 1509.5L747 1511.7L748 1513.8L749 1515.6L750 1517.3L751 1518.9L752 1520.3L753 1521.6L754 1522.9L755 1524L756 1525.1L757 1526.1L758 1527.1L759 1528L760 1528.9L761 1529.7L762 1530.5L767 1534L772 1537.1L777 1540.2L782 1543.2L787 1545.8L792 1548.3L797 1550.8L802 1553.2L807 1555.7L812 1558.3L817 1561.2L822 1564.3L827 1568L832 1572.2L837 1576.5L842 1580.8L847 1584.9L852 1588.6L857 1591.7L862 1594.3L867 1596.7L872 1598.9L877 1601L882 1602.9L887 1604.6L892 1606.2L897 1607.5L902 1608.9L907 1610.1L912 1611.3L917 1612.5L922 1613.5L927 1614.5L932 1615.4L937 1616.1L942 1616.7L947 1617.2L952 1617.6L957 1618L962 1618.4L967 1618.7L972 1618.9L977 1619L982 1618.8L984 1618.7L984.8 1618.6L985.6 1618.4L986.4 1618.3L987.2 1618.2L988 1618L988.8 1616.7L989.6 1614L990.4 1610.8L991.2 1608.1L992 1607L992.8 1610.1L993.6 1617.6L994.4 1626.4L995.2 1633.9L996 1637L996.8 1635.7L997.6 1632.4L998.4 1628.1L999.2 1623.6L1000 1620L1000.8 1618.1L1001.6 1618L1002.4 1618L1003.2 1618L1004 1618L1004.8 1618L1005.6 1618L1006 1618L1014 1618.1L1022 1618.2L1030 1618.4L1038 1618.6L1046 1618.9L1054 1619.1L1062 1619.3L1070 1619.6L1078 1619.7L1086 1619.9L1094 1620L1102 1620L1110 1620L1118 1619.9L1126 1619.8L1134 1619.7L1142 1619.5L1150 1619.3L1158 1619.1L1166 1619L1174 1618.8L1182 1618.6L1190 1618.4L1198 1618.3L1206 1618.2L1214 1618.1L1222 1618L1230 1618L1238 1618L1246 1618.1L1254 1618.2L1262 1618.3L1270 1618.5L1278 1618.6L1286 1618.7L1290 1618.7L1291.5 1618.7L1293 1618.7L1294.5 1618.7L1296 1618.7L1297.5 1618.7L1299 1618.7L1300.5 1618.3L1302 1618.5L1303.5 1618.9L1305 1617.8L1306.5 1617.3L1308 1618.3L1309.5 1618L1311 1617.9L1312.5 1617.4L1314 1616.8L1315.5 1616.3L1317 1616L1318.5 1616.3L1320 1615.7L1321.5 1614.4L1323 1609.9L1324.5 1608.8L1326 1606.4L1327.5 1603.7L1329 1600.5L1330.5 1599.1L1332 1595.1L1333.5 1590.3L1335 1586.1L1336.5 1581.9L1338 1575.8L1339.5 1571L1341 1567.5L1342.5 1566L1344 1564.4L1345.5 1563.7L1347 1561.6L1348.5 1559.6L1350 1561.1L1351.5 1559.1L1353 1557L1354.5 1555.8L1356 1552.2L1357.5 1550.1L1359 1548.6L1360.5 1548.9L1362 1548L1363.5 1546.1L1365 1547.7L1366.5 1546.4L1368 1546.2L1369.5 1544.8L1371 1545.2L1372.5 1543.2L1374 1543.5L1375.5 1540.2L1377 1540.5L1378.5 1540L1380 1540.1L1381.5 1540.1L1383 1540.6L1384.5 1540.8L1386 1541.4L1387.5 1542L1389 1542.3L1390.5 1541.1L1392 1541.4L1393.5 1541.6L1395 1541.1L1396.5 1541.8L1398 1541.8L1399.5 1541.9L1401 1542.2L1402.5 1542.5L1404 1542.5L1405.5 1542.7L1407 1543.8L1408.5 1544.2L1410 1545.5L1411.5 1547.9L1413 1549.5L1414.5 1552.1L1416 1552.4L1417.5 1553.9L1419 1556.8L1420.5 1558.8L1422 1561.1L1423.5 1565L1425 1568.1L1426.5 1570.2L1428 1572.9L1429.5 1577L1431 1580.5L1432.5 1583.3L1434 1587.8L1435.5 1590.2L1437 1592.9L1438.5 1593.8L1440 1595.8L1441.5 1597.4L1443 1598.1L1444.5 1602.1L1446 1601.2L1447.5 1603.7L1449 1606.3L1450.5 1608.5L1452 1612.8L1453.5 1615.6L1455 1619.2L1456.5 1622.4L1458 1624.9L1459.5 1626.9L1461 1627.8L1462.5 1627.4L1464 1622.4L1465.5 1613.1L1467 1602.7L1468.5 1592L1470 1577.3L1471.5 1559L1473 1543L1474.5 1530.8L1476 1523.3L1477.5 1513.1L1479 1508.1L1480.5 1503.4L1482 1500.9L1483.5 1498L1485 1496L1486.5 1494.2L1488 1493.2L1489.5 1492.6L1491 1492.9L1492.5 1491.8L1494 1493.4L1495.5 1495.1L1497 1496.3L1498.5 1496.5L1500 1498.9L1501.5 1500.5L1503 1502.1L1504.5 1502.5L1506 1506.2L1507.5 1507L1509 1511.6L1510.5 1513.2L1512 1515.5L1513.5 1518.6L1515 1521.1L1516.5 1523.7L1518 1527.1L1519.5 1530.9L1521 1533.9L1522.5 1538.4L1524 1542.2L1525.5 1545.6L1527 1548.8L1528.5 1551.6L1530 1553.8L1531.5 1556.4L1533 1558L1534.5 1560.3L1536 1562.9L1537.5 1565.2L1539 1565.9L1540.5 1567.2L1542 1572L1543.5 1572.5L1545 1574.7L1546.5 1576.7L1548 1577.3L1549.5 1578.6L1551 1580.1L1552.5 1583.2L1554 1584.7L1555.5 1586.1L1557 1587L1558.5 1589L1560 1590.7L1561.5 1592.6L1563 1592.8L1564.5 1596.3L1566 1598.7L1567.5 1599.2L1569 1601.3L1570.5 1603.2L1572 1604.3L1573.5 1607.3L1575 1608.3L1576.5 1611.5L1578 1614.3L1579.5 1616.4L1581 1618.6L1582.5 1620L1584 1622.5L1585.5 1622.6L1587 1624.4L1588.5 1623.7L1590 1622.6L1591.5 1621.8L1593 1619.3L1594.5 1617.3L1596 1615.1L1597.5 1613.3L1599 1611.3L1600.5 1609.5L1602 1608.1L1603.5 1607.2L1605 1608.1L1606.5 1608.8L1608 1609.7L1609.5 1610.6L1611 1611.7L1612.5 1613.7L1614 1613.6L1615.5 1615.5L1617 1617.2L1618.5 1616.8L1620 1617.5L1621.5 1618.7L1623 1619.4L1624.5 1620.5L1626 1621.8L1627.5 1621.5L1629 1622.2L1630.5 1621.7L1632 1619.5L1633.5 1613.9L1635 1604.7L1636.5 1595.8L1638 1584.8L1639.5 1572.5L1641 1556.1L1642.5 1539.4L1644 1523.4L1645.5 1511.7L1647 1502.2L1648.5 1495.5L1650 1489.7L1651.5 1481.8L1653 1479L1654.5 1473.7L1656 1470.7L1657.5 1466.4L1659 1465.2L1660.5 1460.6L1662 1458.5L1663.5 1456.7L1665 1452.3L1666.5 1448.7L1668 1447L1669.5 1443.6L1671 1440.5L1672.5 1437.6L1674 1434.5L1675.5 1433.3L1677 1430.5L1678.5 1426.4L1680 1424.5L1681.5 1421.7L1683 1420.1L1684.5 1416.5L1686 1415.5L1687.5 1412.3L1689 1409.6L1690.5 1408L1692 1405.4L1693.5 1406.5L1695 1408L1696.5 1412.8L1698 1420.1L1699.5 1428.7L1701 1435.2L1702.5 1441.9L1704 1449.8L1705.5 1455.8L1707 1461.6L1708.5 1468.3L1710 1475.4L1711.5 1479.3L1713 1487.3L1714.5 1491.8L1716 1496.9L1717.5 1500.6L1719 1506.2L1720.5 1507.6L1722 1512L1723.5 1513.1L1725 1518L1726.5 1521.8L1728 1524.1L1729.5 1527.6L1731 1532.7L1732.5 1537.1L1734 1541.1L1735.5 1544L1737 1548.5L1738.5 1551.5L1740 1557.2L1741.5 1559.8L1743 1564.9L1744.5 1568.2L1746 1572.3L1747.5 1577.5L1749 1580L1750.5 1585L1752 1587.6L1753.5 1590.6L1755 1593.8L1756.5 1598.2L1758 1600.6L1759.5 1603.4L1761 1605.5L1762.5 1609.5L1764 1611.5L1765.5 1613L1767 1614.2L1768.5 1612.9L1770 1615.5L1771.5 1616.7L1773 1617.5L1774.5 1617.8L1776 1619.1L1777.5 1619.3L1779 1620.2L1780.5 1620.8L1782 1622.6L1783.5 1623L1785 1624.1L1786.5 1626.1L1788 1626.1L1789.5 1626.7L1791 1626.4L1792.5 1627.3L1794 1628.4L1795.5 1628.5L1797 1628.4L1798.5 1628.5L1800 1628.9L1802.5 1629.4L1805 1629.3L1807.5 1628.2L1810 1631L1812.5 1630.6L1815 1629.9L1817.5 1630.7L1820 1628.7L1822.5 1629.7L1825 1628.4L1827.5 1628L1830 1626.6L1832.5 1626.2L1835 1625.9L1837.5 1625.8L1840 1625.7L1842.5 1625.5L1845 1625.6L1847.5 1628L1850 1628.2L1852.5 1628.9L1855 1629.5L1857.5 1629.3L1860 1628.5L1862.5 1625.5L1865 1623.3L1867.5 1619.6L1870 1617.2L1872.5 1615.3L1875 1616.3L1877.5 1617.6L1880 1620.3L1882.5 1620.5L1885 1621.6L1887.5 1623.9L1890 1623.9L1892.5 1623.2L1895 1625.3L1897.5 1625.7L1900 1625.9L1902.5 1624.3L1905 1625.9L1907.5 1625L1910 1626.4L1912.5 1626.1L1915 1628.5L1917.5 1627.7L1920 1628.9L1922.5 1629.9L1925 1630.6L1927.5 1631.3L1930 1631.9L1932.5 1632.8L1935 1633.7"/>
<path d="M113 1600.7L114.4 1599.4L115.8 1600L117.2 1598.4L118.6 1598.5L120 1597.5L121.4 1598.2L122.8 1598.3L124.2 1593.4L125.6 1591.5L127 1598.7L128.4 1591.3L129.8 1587.6L131.2 1585.4L132.6 1591.1L134 1588L135.4 1582.3L136.8 1585L138.2 1583.5L139.6 1592.1L141 1587.9L142.4 1585.9L143.8 1578.6L145.2 1583.5L146.6 1587.5L148 1585.1L149.4 1588.7L150.8 1581.9L152.2 1591.6L153.6 1583L155 1575L156.4 1588.3L157.8 1580.3L159.2 1583.3L160.6 1567.2L162 1566L163.4 1572.8L164.8 1556L166.2 1578.4L167.6 1575.7L169 1582.4L170.4 1575.5L171.8 1542.6L173.2 1577L174.6 1560.3L176 1547.7L177.4 1565L178.8 1563.2L180.2 1572.9L181.6 1590.8L183 1564.6L184.4 1574.9L185.8 1556.1L187.2 1561.3L188.6 1551.2L190 1544.8L191.4 1571.4L192.8 1561.1L194.2 1561L195.6 1546.6L197 1575.6L198.4 1554.4L199.8 1539.4L201.2 1557L202.6 1564.9L204 1566.1L205.4 1573.9L206.8 1549.2L208.2 1556.3L209.6 1576L211 1583.1L212.4 1548.8L213.8 1562.6L215.2 1550.8L216.6 1557.9L218 1558.2L219.4 1565.2L220.8 1557.2L222.2 1574L223.6 1566.2L225 1565.9L226.4 1574.8L227.8 1566.4L229.2 1559.4L230.6 1569.3L232 1586.3L233.4 1570.5L234.8 1574.2L236.2 1568.6L237.6 1568.7L239 1575.1L240.4 1548.4L241.8 1560.6L243.2 1566.4L244.6 1569.5L246 1585.4L247.4 1595.1L248.8 1578.7L250.2 1576.9L251.6 1580L253 1588.4L254.4 1564.4L255.8 1569.5L257.2 1576.2L258.6 1577.9L260 1557L261.4 1579.7L262.8 1560.9L264.2 1593.3L265.6 1584.4L267 1555.9L268.4 1581.8L269.8 1579.2L271.2 1572.2L272.6 1586.6L274 1596.2L275.4 1583.1L276.8 1569.4L278.2 1566.8L279.6 1569.5L281 1571.2L282.4 1589.7L283.8 1582.9L285.2 1580.6L286.6 1588.3L288 1581.6L289.4 1582L290.8 1575.2L292.2 1577.1L293.6 1582.1L295 1573.5L296.4 1593.4L297.8 1582.6L299.2 1577.7L300.6 1586.3L302 1572.8L303.4 1583.6L304.8 1576.5L306.2 1593L307.6 1570.1L309 1569.1L310.4 1565.1L311.8 1561.3L313.2 1564.8L314.6 1557.4L316 1559.2L317.4 1553.3L318.8 1554.7L320.2 1543.2L321.6 1546.1L323 1541.6L324.4 1537.5L325.8 1532.7L327.2 1530.1L328.6 1524.4L330 1520L331.4 1515.4L332.8 1510.7L334.2 1505.7L335.6 1500.6L337 1495.3L338.4 1489.8L339.8 1484.2L341.2 1478.5L342.6 1472.7L344 1466.7L345.4 1460.6L346.8 1454.3L348.2 1447.8L349.6 1441.2L350 1439.3L354 1419.9L358 1399.5L362 1378.2L366 1356L370 1333.8L374 1311.7L378 1289.5L382 1267.4L386 1245.3L390 1223.1L394 1199.2L398 1176.1L402 1155.1L406 1135.6L410 1118.4L414 1103.4L418 1090.2L422 1078.6L426 1068L430 1059.1L434 1052.3L438 1046.6L442 1042.8L446 1040.5L450 1038.8L454 1040.7L458 1043.3L462 1046.6L466 1051.2L470 1056.6L474 1062L478 1067.3L482 1072.8L486 1078.8L490 1085.4L494 1092.7L498 1100.7L502 1109.4L506 1118.3L510 1127.7L514 1137.6L518 1148L522 1158.8L526 1170L530 1181.9L534 1194L538 1205.8L542 1217.2L546 1228.4L550 1239.4L554 1250.2L558 1260.8L562 1271.1L566 1281.3L570 1291.8L574 1302.8L578 1314.3L582 1326.2L586 1338.2L590 1350.1L594 1362.4L598 1374.9L602 1386.9L606 1398L610 1408.7L614 1418.9L618 1428.5L622 1437.2L626 1445.6L630 1453.4L634 1459.7L638 1464L640 1466.1L641 1467L642 1467.9L643 1468.8L644 1469.6L645 1470.2L646 1470.8L647 1471.2L648 1471.5L649 1470.7L650 1468.9L651 1466.2L652 1462.8L653 1458.9L654 1454.5L655 1450L656 1444.3L657 1436.6L658 1427.2L659 1416.6L660 1404.9L661 1392.6L662 1380L663 1366L664 1349.7L665 1331.7L666 1312.7L667 1293.4L668 1274.5L669 1256.4L670 1240L671 1224.4L672 1208.5L673 1192.8L674 1177.6L675 1163.3L676 1150.4L677 1139.2L678 1130L679 1122L680 1114L681 1106.4L682 1099.5L683 1093.6L684 1089L685 1086.1L686 1085L687 1086.7L688 1091.3L689 1098.1L690 1106.5L691 1115.7L692 1125L693 1136L694 1150.1L695 1166.4L696 1184L697 1202.1L698 1219.7L699 1235.9L700 1250L701 1262.7L702 1275.4L703 1287.8L704 1299.5L705 1310.4L706 1320.2L707 1328.4L708 1335L709 1340.6L710 1346.1L711 1351.1L712 1355.5L713 1358.9L714 1361.2L715 1362L716 1361.7L717 1360.9L718 1359.7L719 1358.2L720 1356.6L721 1355L722 1352.9L723 1350L724 1347.1L725 1344.9L726 1344L727 1346.5L728 1352.7L729 1361.1L730 1370L731 1380.5L732 1393.7L733 1407.6L734 1420L735 1430.8L736 1440.9L737 1450.5L738 1459.6L739 1469L740 1478.3L741 1486.5L742 1492.8L743 1496.8L744 1500.2L745 1503.3L746 1506.1L747 1508.6L748 1510.9L749 1513L750 1514.9L751 1516.6L752 1518.1L753 1519.5L754 1520.8L755 1522L756 1523.1L757 1524.2L758 1525.2L759 1526.1L760 1527L761 1527.8L762 1528.6L767 1532.1L772 1535.1L777 1538.3L782 1541.3L787 1544.1L792 1546.7L797 1549.3L802 1551.8L807 1554.4L812 1557.2L817 1560.1L822 1563.4L827 1567.1L832 1571.2L837 1575.6L842 1579.9L847 1584L852 1587.6L857 1590.7L862 1593.3L867 1595.7L872 1597.9L877 1600L882 1601.9L887 1603.6L892 1605.2L897 1606.5L902 1607.8L907 1609.1L912 1610.3L917 1611.4L922 1612.4L927 1613.4L932 1614.2L937 1615L942 1615.7L947 1616.2L952 1616.8L957 1617.3L962 1617.8L967 1618.1L972 1618.4L977 1618.5L982 1618.4L984 1618.3L984.8 1618.3L985.6 1618.2L986.4 1618.2L987.2 1618.1L988 1618L988.8 1616.8L989.6 1614.1L990.4 1610.8L991.2 1608.1L992 1607L992.8 1610.1L993.6 1617.6L994.4 1626.4L995.2 1633.9L996 1637L996.8 1635.7L997.6 1632.4L998.4 1628.1L999.2 1623.6L1000 1620L1000.8 1618.1L1001.6 1618L1002.4 1618L1003.2 1618L1004 1618L1004.8 1618L1005.6 1618L1006 1618L1014 1618.1L1022 1618.2L1030 1618.4L1038 1618.6L1046 1618.9L1054 1619.1L1062 1619.3L1070 1619.6L1078 1619.7L1086 1619.9L1094 1620L1102 1620L1110 1620L1118 1619.9L1126 1619.8L1134 1619.7L1142 1619.5L1150 1619.3L1158 1619.1L1166 1619L1174 1618.8L1182 1618.6L1190 1618.4L1198 1618.3L1206 1618.2L1214 1618.1L1222 1618L1230 1618L1238 1618L1246 1618.1L1254 1618.2L1262 1618.3L1270 1618.5L1278 1618.6L1286 1618.7L1290 1618.7L1291.5 1618.7L1293 1618.7L1294.5 1618.7L1296 1618.7L1297.5 1618.7L1299 1618.7L1300.5 1618.8L1302 1618.2L1303.5 1617.5L1305 1617.4L1306.5 1618L1308 1617.6L1309.5 1616.6L1311 1616.4L1312.5 1616.1L1314 1616.2L1315.5 1616L1317 1615.8L1318.5 1614.6L1320 1614.6L1321.5 1612.6L1323 1611L1324.5 1607.3L1326 1605.7L1327.5 1603.4L1329 1599.3L1330.5 1597.9L1332 1594.3L1333.5 1591.2L1335 1587.3L1336.5 1584.1L1338 1578.8L1339.5 1574.4L1341 1571.6L1342.5 1569.4L1344 1566.5L1345.5 1566.6L1347 1565.4L1348.5 1564.2L1350 1562L1351.5 1561.8L1353 1560L1354.5 1558.8L1356 1556.8L1357.5 1555.2L1359 1553.8L1360.5 1552.7L1362 1552.4L1363.5 1550.3L1365 1549.3L1366.5 1548.9L1368 1547.9L1369.5 1546.3L1371 1546.1L1372.5 1546.5L1374 1547.2L1375.5 1546.3L1377 1544.9L1378.5 1544.1L1380 1543.3L1381.5 1542.2L1383 1539.8L1384.5 1538.7L1386 1536L1387.5 1535.6L1389 1535L1390.5 1531.8L1392 1532.2L1393.5 1531.4L1395 1530.5L1396.5 1529.5L1398 1528.6L1399.5 1528.3L1401 1527.8L1402.5 1527.6L1404 1528.5L1405.5 1528.7L1407 1530.2L1408.5 1529.8L1410 1531.3L1411.5 1533.8L1413 1534.3L1414.5 1537.3L1416 1537.9L1417.5 1542.3L1419 1544.8L1420.5 1547.3L1422 1551L1423.5 1553.9L1425 1558.8L1426.5 1563.2L1428 1566.9L1429.5 1570.7L1431 1576.3L1432.5 1579.5L1434 1583.2L1435.5 1585.8L1437 1588.9L1438.5 1592.2L1440 1593L1441.5 1593.7L1443 1596.5L1444.5 1599.3L1446 1600.8L1447.5 1601.5L1449 1604.9L1450.5 1606.9L1452 1611.5L1453.5 1614.2L1455 1617.9L1456.5 1621.2L1458 1623.8L1459.5 1627.2L1461 1628.2L1462.5 1626.6L1464 1621.8L1465.5 1614.5L1467 1603.5L1468.5 1593.1L1470 1578.1L1471.5 1562.1L1473 1545.2L1474.5 1533.7L1476 1524.2L1477.5 1515.8L1479 1510.2L1480.5 1504.6L1482 1501.2L1483.5 1497.3L1485 1494.7L1486.5 1492.7L1488 1490.9L1489.5 1489.3L1491 1489.7L1492.5 1490.3L1494 1489.7L1495.5 1493L1497 1493.4L1498.5 1494.3L1500 1496.5L1501.5 1498.6L1503 1500L1504.5 1501.8L1506 1503.7L1507.5 1506.8L1509 1507.6L1510.5 1510.5L1512 1513.7L1513.5 1516.3L1515 1518.5L1516.5 1521.8L1518 1524.8L1519.5 1528.7L1521 1531.4L1522.5 1535.1L1524 1538.8L1525.5 1542.9L1527 1547.5L1528.5 1549.4L1530 1552.1L1531.5 1553.7L1533 1556.9L1534.5 1558.3L1536 1560.2L1537.5 1562.8L1539 1563.4L1540.5 1563.9L1542 1567.2L1543.5 1570.4L1545 1572.5L1546.5 1573L1548 1574.4L1549.5 1576.1L1551 1578L1552.5 1578.9L1554 1581.6L1555.5 1582.3L1557 1585.3L1558.5 1586L1560 1586.6L1561.5 1589.4L1563 1590.7L1564.5 1592.9L1566 1593.7L1567.5 1596.2L1569 1598.2L1570.5 1600.2L1572 1601.7L1573.5 1604.9L1575 1605.6L1576.5 1608.9L1578 1611.3L1579.5 1614L1581 1616.1L1582.5 1619L1584 1619.9L1585.5 1620.6L1587 1623.3L1588.5 1622L1590 1621.2L1591.5 1620.4L1593 1617.8L1594.5 1615.8L1596 1614.2L1597.5 1610.9L1599 1609.4L1600.5 1608.6L1602 1608.2L1603.5 1607L1605 1607.2L1606.5 1608.4L1608 1606.4L1609.5 1608.9L1611 1609.8L1612.5 1610.2L1614 1610.8L1615.5 1613.2L1617 1614.9L1618.5 1615.6L1620 1617L1621.5 1615.8L1623 1618.3L1624.5 1620.3L1626 1620L1627.5 1620.5L1629 1622L1630.5 1622L1632 1619.9L1633.5 1613L1635 1604.5L1636.5 1593.6L1638 1582.6L1639.5 1569.4L1641 1553.8L1642.5 1535.7L1644 1520.6L1645.5 1508.1L1647 1498.5L1648.5 1488.8L1650 1482.2L1651.5 1475.7L1653 1470.5L1654.5 1464.4L1656 1460.8L1657.5 1457.3L1659 1454.7L1660.5 1450.4L1662 1448.1L1663.5 1444.5L1665 1442.2L1666.5 1437.8L1668 1433.2L1669.5 1430.5L1671 1427.3L1672.5 1424.5L1674 1420.8L1675.5 1417L1677 1413.3L1678.5 1411L1680 1408L1681.5 1405.8L1683 1402.7L1684.5 1398.5L1686 1395.3L1687.5 1394L1689 1392.1L1690.5 1389.4L1692 1387.8L1693.5 1388.3L1695 1390L1696.5 1392.5L1698 1399.3L1699.5 1405.1L1701 1411.5L1702.5 1418.3L1704 1424.5L1705.5 1432.8L1707 1439.4L1708.5 1447.2L1710 1455.8L1711.5 1464.7L1713 1473L1714.5 1479L1716 1484.6L1717.5 1490L1719 1495.2L1720.5 1500.7L1722 1504.3L1723.5 1508.7L1725 1510.1L1726.5 1509.4L1728 1505.6L1729.5 1501.6L1731 1497.3L1732.5 1495.4L1734 1495.3L1735.5 1497.7L1737 1501.4L1738.5 1506L1740 1509.6L1741.5 1515L1743 1519.4L1744.5 1525.6L1746 1529.9L1747.5 1538.1L1749 1542.1L1750.5 1548.9L1752 1553.7L1753.5 1559L1755 1564.3L1756.5 1569.3L1758 1574.1L1759.5 1579.4L1761 1584.2L1762.5 1588.3L1764 1591.3L1765.5 1593.9L1767 1598.1L1768.5 1599.3L1770 1604.1L1771.5 1606.7L1773 1608L1774.5 1611.2L1776 1612.4L1777.5 1615.2L1779 1615.5L1780.5 1616.9L1782 1618.4L1783.5 1620.1L1785 1620.5L1786.5 1623.5L1788 1622.9L1789.5 1624.9L1791 1624.5L1792.5 1625L1794 1625.3L1795.5 1625.8L1797 1626.9L1798.5 1627.8L1800 1627.6L1802.5 1627.7L1805 1629L1807.5 1628.9L1810 1628.2L1812.5 1630L1815 1629L1817.5 1629.5L1820 1629.5L1822.5 1628.7L1825 1628.1L1827.5 1628.4L1830 1627.3L1832.5 1626.9L1835 1625.6L1837.5 1625.3L1840 1626L1842.5 1624.9L1845 1626.2L1847.5 1627L1850 1628.2L1852.5 1629.3L1855 1629.8L1857.5 1630.5L1860 1628.5L1862.5 1626.7L1865 1622.4L1867.5 1620.2L1870 1617.6L1872.5 1615.9L1875 1616.3L1877.5 1617.9L1880 1620L1882.5 1620.5L1885 1621.9L1887.5 1623.7L1890 1623.5L1892.5 1623.4L1895 1623.2L1897.5 1624.6L1900 1624.2L1902.5 1625.6L1905 1625.8L1907.5 1627.2L1910 1625.8L1912.5 1627.8L1915 1626.8L1917.5 1627.5L1920 1628.6L1922.5 1628.3L1925 1631.3L1927.5 1631L1930 1631.9L1932.5 1632.8L1935 1633.7"/>
<path d="M113 1599.3L114.4 1597.5L115.8 1599.4L117.2 1600.7L118.6 1594.9L120 1594.1L121.4 1593.9L122.8 1591.4L124.2 1595.5L125.6 1589L127 1594L128.4 1592.6L129.8 1593L131.2 1584.9L132.6 1590.4L134 1589.5L135.4 1596.1L136.8 1588.6L138.2 1583.7L139.6 1590.7L141 1591.4L142.4 1600L143.8 1579.5L145.2 1585.3L146.6 1576.7L148 1578.6L149.4 1584.8L150.8 1570.4L152.2 1597L153.6 1586.3L155 1571.7L156.4 1572.2L157.8 1575L159.2 1573.7L160.6 1564.3L162 1572.1L163.4 1559.2L164.8 1566.2L166.2 1586.9L167.6 1568.5L169 1560.4L170.4 1582.7L171.8 1570L173.2 1571.9L174.6 1559.2L176 1574.4L177.4 1559.2L178.8 1570.2L180.2 1566.9L181.6 1577.1L183 1568.7L184.4 1557.2L185.8 1529.2L187.2 1552.5L188.6 1547.5L190 1571.6L191.4 1549.2L192.8 1528L194.2 1558.3L195.6 1563.4L197 1543.9L198.4 1562.4L199.8 1540.6L201.2 1558L202.6 1554.2L204 1559.7L205.4 1561.4L206.8 1551.2L208.2 1566.3L209.6 1554.6L211 1561.1L212.4 1573.6L213.8 1542L215.2 1562.9L216.6 1576.3L218 1573.8L219.4 1558.7L220.8 1559.8L222.2 1569.2L223.6 1560.6L225 1566.3L226.4 1556.2L227.8 1571.2L229.2 1554.7L230.6 1568.1L232 1572.9L233.4 1562.4L234.8 1555.4L236.2 1557.9L237.6 1552.7L239 1583.9L240.4 1552.7L241.8 1558.3L243.2 1572.6L244.6 1570.5L246 1579.6L247.4 1582.7L248.8 1575.1L250.2 1570.6L251.6 1566.1L253 1570.1L254.4 1581.4L255.8 1578.4L257.2 1578.8L258.6 1556.8L260 1566L261.4 1567.1L262.8 1568.8L264.2 1564.3L265.6 1581L267 1584.7L268.4 1591.9L269.8 1570.7L271.2 1574.9L272.6 1577L274 1576.4L275.4 1558.9L276.8 1584.1L278.2 1559.8L279.6 1573.5L281 1561.7L282.4 1583.6L283.8 1566.9L285.2 1569.3L286.6 1579.1L288 1571L289.4 1581.9L290.8 1576.7L292.2 1594.2L293.6 1569L295 1570.7L296.4 1578.9L297.8 1573.9L299.2 1574.1L300.6 1567.5L302 1572.8L303.4 1566.6L304.8 1569L306.2 1541.9L307.6 1556.8L309 1551.1L310.4 1550.4L311.8 1541.2L313.2 1548.6L314.6 1526L316 1535.5L317.4 1529.6L318.8 1518.6L320.2 1519L321.6 1509.2L323 1508.4L324.4 1500.1L325.8 1496.6L327.2 1490.7L328.6 1484.3L330 1478.6L331.4 1472.2L332.8 1465.7L334.2 1459L335.6 1452.2L337 1445.3L338.4 1438.1L339.8 1430.9L341.2 1423.4L342.6 1415.9L344 1408.2L345.4 1400.4L346.8 1392.6L348.2 1384.6L349.6 1376.4L350 1374.1L354 1349.9L358 1324.8L362 1299.2L366 1273.8L370 1248.4L374 1223L378 1197.6L382 1172.3L386 1145.8L390 1118.3L394 1093.3L398 1069.9L402 1048.6L406 1030.2L410 1013.8L414 999.4L418 986.6L422 975.1L426 965.9L430 958.5L434 952.5L438 948.9L442 946.4L446 944.8L450 945.1L454 947L458 949.9L462 953.4L466 958.3L470 964.2L474 970L478 975.8L482 981.8L486 988.3L490 995.3L494 1003.1L498 1011.7L502 1020.9L506 1030.6L510 1040.7L514 1051.3L518 1062.5L522 1074.1L526 1086.1L530 1098.8L534 1112L538 1125.1L542 1137.7L546 1150L550 1162L554 1173.9L558 1185.7L562 1197.1L566 1208.2L570 1219.4L574 1231L578 1243.3L582 1256L586 1269L590 1282L594 1295.2L598 1308.7L602 1322.2L606 1335.1L610 1347L614 1358.5L618 1369.6L622 1379.9L626 1389.2L630 1398.3L634 1406.6L638 1413.1L640 1415.5L641 1416.7L642 1417.8L643 1419L644 1420L645 1421.1L646 1422L647 1422.9L648 1423.8L649 1424.5L650 1425.1L651 1425.5L652 1425.3L653 1423.1L654 1419.4L655 1414.4L656 1408.5L657 1401.9L658 1395L659 1386.4L660 1375.2L661 1361.8L662 1347.1L663 1331.4L664 1315.5L665 1300L666 1284L667 1266.6L668 1248.4L669 1230L670 1212.1L671 1195.2L672 1180L673 1165.7L674 1151.5L675 1137.8L676 1124.9L677 1113.3L678 1103.2L679 1095L680 1087.9L681 1080.8L682 1074.3L683 1068.6L684 1064L685 1061.1L686 1060L687 1061.5L688 1065.5L689 1071.6L690 1078.9L691 1086.9L692 1095L693 1104.4L694 1116.2L695 1129.8L696 1144.5L697 1159.5L698 1174.3L699 1188L700 1200L701 1211.1L702 1222.2L703 1233L704 1243.5L705 1253.1L706 1261.8L707 1269.2L708 1275L709 1280L710 1284.8L711 1289.4L712 1293.6L713 1297.3L714 1300.2L715 1302.3L716 1303.5L717 1303L718 1299.2L719 1293L720 1286.1L721 1280L722 1274.1L723 1267.5L724 1261.3L725 1256.8L726 1255L727 1258.2L728 1266.4L729 1277.7L730 1290L731 1305.6L732 1326.1L733 1348.5L734 1370L735 1391.3L736 1413.1L737 1432.4L738 1446.7L739 1459.5L740 1470.8L741 1480.4L742 1487.5L743 1492.1L744 1495.9L745 1499.4L746 1502.6L747 1505.4L748 1508L749 1510.3L750 1512.4L751 1514.2L752 1515.9L753 1517.4L754 1518.8L755 1520L756 1521.2L757 1522.2L758 1523.2L759 1524.2L760 1525.1L761 1525.9L762 1526.7L767 1530.1L772 1533.1L777 1536.3L782 1539.3L787 1542L792 1544.7L797 1547.2L802 1549.7L807 1552.3L812 1555.1L817 1558.1L822 1561.4L827 1565.2L832 1569.5L837 1574L842 1578.5L847 1582.8L852 1586.6L857 1589.7L862 1592.3L867 1594.7L872 1597L877 1599L882 1600.9L887 1602.6L892 1604.2L897 1605.5L902 1606.8L907 1608.1L912 1609.3L917 1610.4L922 1611.4L927 1612.4L932 1613.2L937 1614L942 1614.7L947 1615.2L952 1615.7L957 1616.1L962 1616.5L967 1616.9L972 1617.2L977 1617.5L982 1617.8L984 1617.9L984.8 1617.9L985.6 1618L986.4 1618L987.2 1618L988 1618L988.8 1616.9L989.6 1614.1L990.4 1610.9L991.2 1608.1L992 1607L992.8 1610.1L993.6 1617.6L994.4 1626.4L995.2 1633.9L996 1637L996.8 1635.7L997.6 1632.4L998.4 1628.1L999.2 1623.6L1000 1620L1000.8 1618.1L1001.6 1618L1002.4 1618L1003.2 1618L1004 1618L1004.8 1618L1005.6 1618L1006 1618L1014 1618.1L1022 1618.2L1030 1618.4L1038 1618.6L1046 1618.9L1054 1619.1L1062 1619.3L1070 1619.6L1078 1619.7L1086 1619.9L1094 1620L1102 1620L1110 1620L1118 1619.9L1126 1619.8L1134 1619.7L1142 1619.5L1150 1619.3L1158 1619.1L1166 1619L1174 1618.8L1182 1618.6L1190 1618.4L1198 1618.3L1206 1618.2L1214 1618.1L1222 1618L1230 1618L1238 1618L1246 1618.1L1254 1618.2L1262 1618.3L1270 1618.5L1278 1618.6L1286 1618.7L1290 1618.7L1291.5 1618.7L1293 1618.7L1294.5 1618.7L1296 1618.7L1297.5 1618.7L1299 1618.7L1300.5 1617.6L1302 1619L1303.5 1617.4L1305 1618.8L1306.5 1619.2L1308 1617.7L1309.5 1616.9L1311 1616.7L1312.5 1616.3L1314 1616.5L1315.5 1616.4L1317 1614.9L1318.5 1614.6L1320 1613.2L1321.5 1612.4L1323 1609.9L1324.5 1606.2L1326 1603.6L1327.5 1601L1329 1597.1L1330.5 1594.6L1332 1591.6L1333.5 1587L1335 1584L1336.5 1579.4L1338 1573.2L1339.5 1568.4L1341 1563L1342.5 1562L1344 1560.6L1345.5 1560.6L1347 1558.9L1348.5 1559.1L1350 1558.7L1351.5 1557.3L1353 1556.2L1354.5 1552.9L1356 1551.9L1357.5 1549.3L1359 1548.2L1360.5 1545.8L1362 1540.9L1363.5 1535.7L1365 1530.2L1366.5 1524.1L1368 1519.9L1369.5 1516.3L1371 1514.2L1372.5 1513.5L1374 1509.3L1375.5 1508.7L1377 1507.8L1378.5 1507.6L1380 1509.4L1381.5 1511L1383 1515.4L1384.5 1517.9L1386 1522.1L1387.5 1524L1389 1526.4L1390.5 1527.9L1392 1530.8L1393.5 1530.9L1395 1532.1L1396.5 1535.3L1398 1536.3L1399.5 1537.1L1401 1538.3L1402.5 1538.9L1404 1540.6L1405.5 1541.9L1407 1543.2L1408.5 1543.9L1410 1545L1411.5 1545.2L1413 1545.6L1414.5 1546.9L1416 1549.4L1417.5 1550.4L1419 1553.4L1420.5 1554.4L1422 1557.8L1423.5 1560.6L1425 1564.2L1426.5 1566.6L1428 1569.8L1429.5 1574.2L1431 1576.6L1432.5 1581.2L1434 1585L1435.5 1586.9L1437 1589.7L1438.5 1591.1L1440 1593.2L1441.5 1595.1L1443 1596.8L1444.5 1598.4L1446 1599.4L1447.5 1602.7L1449 1604.3L1450.5 1606.7L1452 1611.3L1453.5 1614L1455 1618.9L1456.5 1621.7L1458 1624L1459.5 1625.9L1461 1626.9L1462.5 1626.2L1464 1621.2L1465.5 1613.4L1467 1602.2L1468.5 1591.1L1470 1575.9L1471.5 1557.4L1473 1540.2L1474.5 1528.3L1476 1520.4L1477.5 1511L1479 1505.4L1480.5 1501.1L1482 1497.2L1483.5 1494.7L1485 1491.7L1486.5 1489.8L1488 1488.5L1489.5 1487.7L1491 1488.4L1492.5 1487.8L1494 1488.9L1495.5 1489.2L1497 1490.5L1498.5 1492.3L1500 1491.6L1501.5 1494.4L1503 1494.7L1504.5 1496.5L1506 1497.9L1507.5 1499.7L1509 1501.3L1510.5 1502.8L1512 1507.9L1513.5 1509.6L1515 1511.5L1516.5 1513.3L1518 1517.8L1519.5 1521.7L1521 1524.7L1522.5 1527.1L1524 1531.4L1525.5 1535.3L1527 1538.2L1528.5 1541.5L1530 1542.8L1531.5 1545.3L1533 1546.4L1534.5 1550.6L1536 1552.3L1537.5 1553.6L1539 1554.7L1540.5 1558L1542 1558.4L1543.5 1560.1L1545 1561.4L1546.5 1563.2L1548 1564.9L1549.5 1566.3L1551 1568.9L1552.5 1570L1554 1570.9L1555.5 1571.7L1557 1573.1L1558.5 1573.5L1560 1575.6L1561.5 1575.8L1563 1577.1L1564.5 1578.6L1566 1578.9L1567.5 1579.6L1569 1582L1570.5 1581.5L1572 1582.9L1573.5 1584.3L1575 1585.9L1576.5 1587.7L1578 1587.3L1579.5 1590.2L1581 1592.6L1582.5 1593.6L1584 1594.4L1585.5 1594.5L1587 1595L1588.5 1594.6L1590 1593.3L1591.5 1593.1L1593 1591.7L1594.5 1589.2L1596 1586.7L1597.5 1585.1L1599 1582.8L1600.5 1581.8L1602 1579.9L1603.5 1579L1605 1580.6L1606.5 1581.5L1608 1581.4L1609.5 1583.2L1611 1584.9L1612.5 1584.4L1614 1589.1L1615.5 1589.9L1617 1591.2L1618.5 1592.5L1620 1595.2L1621.5 1602L1623 1604.2L1624.5 1609.3L1626 1612.8L1627.5 1616.5L1629 1619.5L1630.5 1619.4L1632 1615.3L1633.5 1603L1635 1586.2L1636.5 1567L1638 1543L1639.5 1509.4L1641 1470.1L1642.5 1439.2L1644 1419.6L1645.5 1402.4L1647 1387.8L1648.5 1372.2L1650 1361.3L1651.5 1351.5L1653 1345.8L1654.5 1339.1L1656 1332.6L1657.5 1328.3L1659 1322.5L1660.5 1319.4L1662 1316.7L1663.5 1312.6L1665 1310L1666.5 1304.8L1668 1302.3L1669.5 1298.3L1671 1295.3L1672.5 1292.2L1674 1289.6L1675.5 1287.2L1677 1284L1678.5 1282L1680 1279.3L1681.5 1277.3L1683 1274.7L1684.5 1274.6L1686 1274.3L1687.5 1275.8L1689 1278.9L1690.5 1282.6L1692 1286.8L1693.5 1290.6L1695 1294.5L1696.5 1299.4L1698 1303.2L1699.5 1305.4L1701 1311.8L1702.5 1318.8L1704 1325.7L1705.5 1334.2L1707 1345.7L1708.5 1355.9L1710 1368.9L1711.5 1380.4L1713 1393.4L1714.5 1402.3L1716 1410.3L1717.5 1418.4L1719 1425.3L1720.5 1431L1722 1431.1L1723.5 1430.8L1725 1427.9L1726.5 1426.2L1728 1424.3L1729.5 1421.2L1731 1418.3L1732.5 1417L1734 1418.4L1735.5 1420L1737 1423.7L1738.5 1427.9L1740 1434L1741.5 1439.6L1743 1445.5L1744.5 1450.5L1746 1458.2L1747.5 1465.3L1749 1474.8L1750.5 1482.6L1752 1490.1L1753.5 1497.8L1755 1503.1L1756.5 1511.2L1758 1516.8L1759.5 1523L1761 1528.7L1762.5 1533.9L1764 1539.4L1765.5 1545.6L1767 1550.1L1768.5 1555.1L1770 1559.3L1771.5 1564.6L1773 1568.8L1774.5 1572L1776 1578.1L1777.5 1581.8L1779 1585.9L1780.5 1590L1782 1594.2L1783.5 1598.9L1785 1603.9L1786.5 1605.6L1788 1607.7L1789.5 1610.7L1791 1613L1792.5 1616.3L1794 1616L1795.5 1618L1797 1619.4L1798.5 1621.4L1800 1622.8L1802.5 1624.2L1805 1626.6L1807.5 1627.7L1810 1629L1812.5 1628.4L1815 1629.5L1817.5 1629.2L1820 1629.8L1822.5 1629L1825 1627.6L1827.5 1627.6L1830 1626.7L1832.5 1626.3L1835 1625.2L1837.5 1624.7L1840 1625.8L1842.5 1625.2L1845 1626.6L1847.5 1626.5L1850 1627.9L1852.5 1628.8L1855 1629.2L1857.5 1630.4L1860 1628.2L1862.5 1626.5L1865 1621.8L1867.5 1620.1L1870 1617.1L1872.5 1616.7L1875 1617.8L1877.5 1617.6L1880 1619.8L1882.5 1620.7L1885 1622.3L1887.5 1623.2L1890 1623.7L1892.5 1624.6L1895 1624.8L1897.5 1625.5L1900 1624.3L1902.5 1625.6L1905 1625.2L1907.5 1626.1L1910 1625L1912.5 1626.9L1915 1627.5L1917.5 1627.8L1920 1628.5L1922.5 1628.5L1925 1629.9L1927.5 1630.7L1930 1631.9L1932.5 1632.8L1935 1633.7"/>
<path d="M113 1210L114.4 1210.7L115.8 1209.6L117.2 1207.2L118.6 1205.1L120 1204.5L121.4 1206.6L122.8 1208.5L124.2 1204L125.6 1203.6L127 1200.2L128.4 1202.1L129.8 1202.7L131.2 1200.5L132.6 1201L134 1198.3L135.4 1197.8L136.8 1200.3L138.2 1194.8L139.6 1198.6L141 1201.5L142.4 1195.8L143.8 1195.6L145.2 1194L146.6 1191.9L148 1193.9L149.4 1191L150.8 1194.3L152.2 1192.8L153.6 1190.2L155 1194.2L156.4 1197.8L157.8 1196.7L159.2 1191.9L160.6 1192L162 1187.8L163.4 1191L164.8 1194.8L166.2 1195L167.6 1197.5L169 1183.5L170.4 1198.3L171.8 1192.2L173.2 1198L174.6 1189.8L176 1196L177.4 1189.2L178.8 1183.3L180.2 1190.7L181.6 1185.8L183 1188.3L184.4 1191.5L185.8 1198.6L187.2 1192.1L188.6 1194L190 1178.4L191.4 1195.2L192.8 1182.9L194.2 1188.6L195.6 1185.7L197 1181.3L198.4 1193.7L199.8 1182.6L201.2 1185.7L202.6 1197.7L204 1176.5L205.4 1180.1L206.8 1195.5L208.2 1188.1L209.6 1195.1L211 1191L212.4 1188.7L213.8 1195.5L215.2 1188.2L216.6 1189.3L218 1193.7L219.4 1178.1L220.8 1174.7L222.2 1184.4L223.6 1197.9L225 1202.9L226.4 1199.1L227.8 1189.9L229.2 1190.5L230.6 1188.2L232 1193L233.4 1198.1L234.8 1192.5L236.2 1192.7L237.6 1176.6L239 1194.2L240.4 1186.6L241.8 1191.2L243.2 1194.2L244.6 1192.9L246 1196L247.4 1199.9L248.8 1180.3L250.2 1183.9L251.6 1200.3L253 1194.1L254.4 1187.8L255.8 1190L257.2 1191.3L258.6 1196.6L260 1186.3L261.4 1190.8L262.8 1183.6L264.2 1198.3L265.6 1192.8L267 1187.7L268.4 1182.8L269.8 1189.6L271.2 1200.2L272.6 1201.3L274 1198.9L275.4 1186.8L276.8 1186.4L278.2 1183.4L279.6 1192.8L281 1184L282.4 1189.9L283.8 1188.4L285.2 1188.3L286.6 1181.1L288 1189L289.4 1181.4L290.8 1175.4L292.2 1178.6L293.6 1177.7L295 1175.4L296.4 1176.7L297.8 1175.2L299.2 1176.3L300.6 1164.8L302 1171.9L303.4 1150.3L304.8 1161.4L306.2 1152L307.6 1152.1L309 1143.8L310.4 1143.6L311.8 1137.4L313.2 1129.7L314.6 1125L316 1115.1L317.4 1117.5L318.8 1110.9L320.2 1105.5L321.6 1102.5L323 1095.3L324.4 1089.1L325.8 1080.3L327.2 1076.7L328.6 1069.9L330 1064.6L331.4 1056.7L332.8 1049.4L334.2 1043.2L335.6 1037.4L337 1028.7L338.4 1022.3L339.8 1014.4L341.2 1006.5L342.6 999.5L344 991.8L345.4 983.7L346.8 975.8L348.2 967.7L349.6 959.6L350 957.3L354 933.3L358 909.3L362 885.5L366 861.6L370 837.7L374 813.9L378 789.9L382 764.4L386 739L390 716.1L394 694.6L398 675.4L402 658.7L406 643.8L410 630.8L414 618.9L418 608.5L422 600.5L426 593.7L430 588.5L434 585.5L438 583.2L442 582L446 582L450 582.4L454 584.7L458 588.1L462 592.2L466 598.1L470 604.9L474 611.6L478 618.2L482 625.2L486 632.7L490 640.9L494 650.1L498 660.1L502 670.8L506 681.8L510 693.4L514 705.6L518 718.3L522 731.3L526 745L530 759.3L534 773.6L538 787.4L542 800.7L546 813.6L550 826.3L554 838.7L558 850.7L562 862.3L566 873.8L570 885.7L574 898.2L578 911L582 923.9L586 936.8L590 949.5L594 962.5L598 975.2L602 986.9L606 997.6L610 1007.8L614 1017.2L618 1025.7L622 1033.1L626 1040.2L630 1046L634 1049.9L638 1052.9L640 1054.1L641 1054.6L642 1055.1L643 1055.5L644 1055.8L645 1055.9L646 1056L647 1055.6L648 1054.8L649 1053.8L650 1052.4L651 1050.8L652 1049L653 1046.9L654 1044.7L655 1042.4L656 1039.1L657 1034.4L658 1028.4L659 1021.5L660 1013.8L661 1005.7L662 997.4L663 987.9L664 976.6L665 964.2L666 951.4L667 938.9L668 927.4L669 916.5L670 905.7L671 895.1L672 884.8L673 875L674 865.8L675 857.4L676 849.5L677 842L678 834.9L679 828.3L680 822.4L681 817.4L682 812.5L683 807.7L684 803.5L685 800.5L686 799.4L687 800.5L688 803.5L689 807.7L690 812.4L691 818.4L692 826.8L693 836.7L694 847.3L695 857.8L696 867.4L697 876.2L698 885.1L699 893.9L700 902.6L701 911.1L702 919.4L703 927.3L704 935.2L705 943.2L706 951L707 958.3L708 964.7L709 969.7L710 974.2L711 978.5L712 982.1L713 984.7L714 985.6L715 984.9L716 982.8L717 980L718 976.7L719 973.5L720 970.6L721 967.8L722 964.7L723 961.5L724 958.8L725 956.8L726 956.1L727 958.8L728 965.7L729 974.9L730 984.4L731 995.2L732 1008.3L733 1022.1L734 1034.8L735 1047L736 1059.1L737 1069L738 1075.5L739 1081L740 1086.1L741 1090.8L742 1095L743 1098.9L744 1102.5L745 1105.7L746 1108.6L747 1111.2L748 1113.6L749 1115.7L750 1117.6L751 1119.3L752 1121L753 1122.6L754 1124.1L755 1125.6L756 1127L757 1128.3L758 1129.6L759 1130.7L760 1131.9L761 1132.9L762 1133.9L767 1138.2L772 1141.2L777 1143.6L782 1145.6L787 1147.3L792 1148.7L797 1150.1L802 1151.4L807 1152.8L812 1154.4L817 1156.3L822 1158.6L827 1161.5L832 1164.9L837 1168.6L842 1172.4L847 1176.1L852 1179.5L857 1182.3L862 1184.8L867 1187.1L872 1189.3L877 1191.3L882 1193.2L887 1195L892 1196.6L897 1198.2L902 1199.7L907 1201.1L912 1202.4L917 1203.7L922 1204.9L927 1206.1L932 1207.2L937 1208.3L942 1209.4L947 1210.5L952 1211.6L957 1212.6L962 1213.6L967 1214.6L972 1215.6L977 1216.5L982 1217.5L984 1217.9L984.8 1218.1L985.6 1218.3L986.4 1218.5L987.2 1218.7L988 1218.8L988.8 1218.9L989.6 1219L990.4 1218.2L991.2 1213.2L992 1206.8L992.8 1202.7L993.6 1204.4L994.4 1210.8L995.2 1217.8L996 1221L996.8 1220.5L997.6 1219.3L998.4 1217.8L999.2 1216.5L1000 1216L1000.8 1216L1001.6 1216L1002.4 1215.9L1003.2 1215.9L1004 1215.9L1004.8 1215.9L1005.6 1215.8L1006 1215.8L1014 1215.7L1022 1215.5L1030 1215.4L1038 1215.3L1046 1215.2L1054 1215.1L1062 1215.1L1070 1215L1078 1215L1086 1215L1094 1215L1102 1215L1110 1215L1118 1215L1126 1215L1134 1215L1142 1215L1150 1215L1158 1215L1166 1215L1174 1215L1182 1215L1190 1215L1198 1215L1206 1215L1214 1215L1222 1215L1230 1215L1238 1215L1246 1214.9L1254 1214.8L1262 1214.6L1270 1214.4L1278 1214.1L1286 1213.7L1290 1213.4L1291.5 1213.3L1293 1213.2L1294.5 1213.1L1296 1213L1297.5 1212.6L1299 1210.5L1300.5 1206.9L1302 1201.8L1303.5 1196.6L1305 1189L1306.5 1183.4L1308 1177.2L1309.5 1172.1L1311 1166.9L1312.5 1162.5L1314 1158.7L1315.5 1153.4L1317 1149.1L1318.5 1145.7L1320 1140.5L1321.5 1138.2L1323 1135.4L1324.5 1132.9L1326 1129.7L1327.5 1127.8L1329 1126.1L1330.5 1124.3L1332 1123.4L1333.5 1121.4L1335 1120.8L1336.5 1118.8L1338 1117.7L1339.5 1115.9L1341 1114.9L1342.5 1114.8L1344 1115.4L1345.5 1116.7L1347 1120.6L1348.5 1123.4L1350 1127.4L1351.5 1128.6L1353 1129.9L1354.5 1129.7L1356 1127.8L1357.5 1125.2L1359 1122.9L1360.5 1120.5L1362 1116.3L1363.5 1114L1365 1110.3L1366.5 1106.5L1368 1103.7L1369.5 1099.4L1371 1096.4L1372.5 1094.8L1374 1092.8L1375.5 1091.6L1377 1090.9L1378.5 1090.2L1380 1089.9L1381.5 1088.9L1383 1088.6L1384.5 1088.3L1386 1088.7L1387.5 1088.7L1389 1089.5L1390.5 1088.3L1392 1088.3L1393.5 1088.4L1395 1089.2L1396.5 1089.6L1398 1090.3L1399.5 1089L1401 1089.9L1402.5 1089.8L1404 1091L1405.5 1091L1407 1092.3L1408.5 1092.6L1410 1094.3L1411.5 1095.3L1413 1096.3L1414.5 1098.8L1416 1100.7L1417.5 1102.8L1419 1107.1L1420.5 1110.2L1422 1114.8L1423.5 1119.2L1425 1123.3L1426.5 1128.6L1428 1133.4L1429.5 1139.5L1431 1145.4L1432.5 1152.3L1434 1156.7L1435.5 1162.8L1437 1167.8L1438.5 1174.2L1440 1180L1441.5 1184.9L1443 1189.1L1444.5 1193.4L1446 1197.4L1447.5 1200.4L1449 1203.7L1450.5 1207.3L1452 1209.4L1453.5 1209.6L1455 1211.2L1456.5 1211L1458 1212L1459.5 1213L1461 1211.3L1462.5 1206.4L1464 1196L1465.5 1183.1L1467 1171.7L1468.5 1155.7L1470 1138.1L1471.5 1121.2L1473 1109.6L1474.5 1101.1L1476 1093.6L1477.5 1086.3L1479 1081.1L1480.5 1079.2L1482 1076.6L1483.5 1075.6L1485 1074.8L1486.5 1073.4L1488 1071.5L1489.5 1071.5L1491 1071.5L1492.5 1072.6L1494 1072.5L1495.5 1074.2L1497 1075.2L1498.5 1076.6L1500 1078L1501.5 1079.5L1503 1083.3L1504.5 1086.3L1506 1091.1L1507.5 1094.6L1509 1098.9L1510.5 1104.9L1512 1108.8L1513.5 1115L1515 1120.9L1516.5 1127L1518 1132.6L1519.5 1137.2L1521 1141L1522.5 1145L1524 1147.7L1525.5 1151.7L1527 1153.5L1528.5 1156.4L1530 1157.5L1531.5 1159.8L1533 1160.8L1534.5 1162L1536 1163.7L1537.5 1164.9L1539 1167.2L1540.5 1166.5L1542 1167.8L1543.5 1169.3L1545 1169.7L1546.5 1170.5L1548 1171.5L1549.5 1171.7L1551 1172L1552.5 1172.3L1554 1173.4L1555.5 1174.3L1557 1174.8L1558.5 1175.9L1560 1175.9L1561.5 1177L1563 1176.9L1564.5 1177.9L1566 1180L1567.5 1180.6L1569 1182.1L1570.5 1182.7L1572 1183.4L1573.5 1184.8L1575 1186.2L1576.5 1187.2L1578 1188.8L1579.5 1190.8L1581 1192.2L1582.5 1194L1584 1195.1L1585.5 1195.9L1587 1196.4L1588.5 1195.9L1590 1195.8L1591.5 1193.5L1593 1189.3L1594.5 1185.5L1596 1181.9L1597.5 1179.1L1599 1176.2L1600.5 1173.3L1602 1170.6L1603.5 1167.1L1605 1165.1L1606.5 1162.6L1608 1160.7L1609.5 1158.2L1611 1156.7L1612.5 1155.3L1614 1154.8L1615.5 1151.9L1617 1151.9L1618.5 1149.9L1620 1150L1621.5 1149.8L1623 1151.6L1624.5 1152.3L1626 1154.1L1627.5 1166.1L1629 1185.7L1630.5 1195.2L1632 1192.2L1633.5 1183.2L1635 1172.2L1636.5 1158.2L1638 1149L1639.5 1137.7L1641 1125.8L1642.5 1115.7L1644 1104.4L1645.5 1095L1647 1086.9L1648.5 1081.3L1650 1074.9L1651.5 1071.3L1653 1067.6L1654.5 1063L1656 1060.8L1657.5 1058.3L1659 1055.5L1660.5 1053L1662 1052.3L1663.5 1050.6L1665 1050.1L1666.5 1048L1668 1047.2L1669.5 1045.8L1671 1044.4L1672.5 1042.4L1674 1041.1L1675.5 1040L1677 1038.5L1678.5 1037L1680 1035.8L1681.5 1033.7L1683 1031.9L1684.5 1028.3L1686 1024L1687.5 1018.9L1689 1014.9L1690.5 1014.5L1692 1014.9L1693.5 1016L1695 1017L1696.5 1020.1L1698 1022.3L1699.5 1025.1L1701 1027.8L1702.5 1032.6L1704 1038.9L1705.5 1046.6L1707 1053.9L1708.5 1061.8L1710 1068.5L1711.5 1074.2L1713 1081L1714.5 1087.2L1716 1093.1L1717.5 1097.2L1719 1103.6L1720.5 1106.8L1722 1109.2L1723.5 1112.8L1725 1113.9L1726.5 1115.9L1728 1117.3L1729.5 1118.1L1731 1121.8L1732.5 1123.4L1734 1127.7L1735.5 1131.5L1737 1136.3L1738.5 1141.2L1740 1147.9L1741.5 1153.9L1743 1161.9L1744.5 1169.6L1746 1178.5L1747.5 1185.4L1749 1191.4L1750.5 1196.4L1752 1199L1753.5 1201.1L1755 1204L1756.5 1205.3L1758 1207.4L1759.5 1209L1761 1209.8L1762.5 1210.6L1764 1212.2L1765.5 1212.4L1767 1213L1768.5 1213.5L1770 1213.7L1771.5 1214.3L1773 1214.1L1774.5 1213.3L1776 1214.5L1777.5 1214.4L1779 1213.7L1780.5 1213.4L1782 1213.8L1783.5 1213.5L1785 1213.9L1786.5 1213.6L1788 1214.1L1789.5 1212.8L1791 1213.1L1792.5 1213.3L1794 1212.6L1795.5 1212.2L1797 1211.4L1798.5 1212.4L1800 1211.2L1802.5 1211.3L1805 1210.9L1807.5 1211.8L1810 1212.9L1812.5 1214.8L1815 1216.7L1817.5 1217.1L1820 1217.6L1822.5 1217.8L1825 1216.8L1827.5 1215.9L1830 1215.8L1832.5 1213.8L1835 1213.4L1837.5 1212.2L1840 1211.7L1842.5 1212.5L1845 1212.8L1847.5 1214L1850 1215.7L1852.5 1216.4L1855 1217.9L1857.5 1218L1860 1218.6L1862.5 1217.9L1865 1218.4L1867.5 1216.2L1870 1216.4L1872.5 1215.5L1875 1213L1877.5 1212.4L1880 1211.5L1882.5 1211.1L1885 1209.8L1887.5 1208.5L1890 1207.5L1892.5 1206.9L1895 1204.1L1897.5 1203.6L1900 1202.6L1902.5 1202.5L1905 1200.9L1907.5 1201.4L1910 1202.7L1912.5 1204.1L1915 1206.5L1917.5 1208.1L1920 1209.4L1922.5 1211.7L1925 1212.8L1927.5 1214.4L1930 1215.9L1932.5 1217L1935 1218.1L1936 1218.5"/>
<path d="M113 1210L114.4 1210.6L115.8 1208.7L117.2 1210.1L118.6 1209.2L120 1208.6L121.4 1211.4L122.8 1208.6L124.2 1202.5L125.6 1206.3L127 1205L128.4 1204.4L129.8 1202.3L131.2 1204.8L132.6 1193.9L134 1198.4L135.4 1202.6L136.8 1201L138.2 1202.5L139.6 1198.4L141 1197.5L142.4 1200.9L143.8 1198.6L145.2 1192.2L146.6 1200.4L148 1193.2L149.4 1199.7L150.8 1196.9L152.2 1198.1L153.6 1204.9L155 1191.3L156.4 1197.5L157.8 1194.4L159.2 1193.2L160.6 1194L162 1191.4L163.4 1193.5L164.8 1194.1L166.2 1189.8L167.6 1197.6L169 1192.6L170.4 1186.5L171.8 1193.9L173.2 1194L174.6 1183.7L176 1192.4L177.4 1188.6L178.8 1193.9L180.2 1189.3L181.6 1192.3L183 1191L184.4 1168.7L185.8 1190.2L187.2 1192.9L188.6 1194L190 1208L191.4 1191.6L192.8 1197.5L194.2 1194.7L195.6 1186.7L197 1185.6L198.4 1197.5L199.8 1194.2L201.2 1180.1L202.6 1184.5L204 1197.6L205.4 1192.1L206.8 1181.8L208.2 1194.3L209.6 1197.7L211 1196.1L212.4 1192.5L213.8 1190.6L215.2 1190.5L216.6 1190.9L218 1195.3L219.4 1207.3L220.8 1207.7L222.2 1193.5L223.6 1186.9L225 1194L226.4 1193L227.8 1191.5L229.2 1186.2L230.6 1193.6L232 1191.1L233.4 1194.5L234.8 1186.6L236.2 1194.3L237.6 1188L239 1189.8L240.4 1190.6L241.8 1191.1L243.2 1191L244.6 1190.8L246 1190.4L247.4 1189.8L248.8 1190.3L250.2 1191.3L251.6 1202.7L253 1197.6L254.4 1189.7L255.8 1185.5L257.2 1198.4L258.6 1192.3L260 1194L261.4 1198.1L262.8 1181.9L264.2 1188.5L265.6 1192.6L267 1198.8L268.4 1190.7L269.8 1191.4L271.2 1190.5L272.6 1190.2L274 1192.1L275.4 1187L276.8 1186.1L278.2 1187.4L279.6 1192L281 1194.1L282.4 1188.9L283.8 1186.8L285.2 1193.1L286.6 1189.7L288 1189.9L289.4 1185.2L290.8 1182.8L292.2 1187.9L293.6 1180.9L295 1190.7L296.4 1174.7L297.8 1177.4L299.2 1174.2L300.6 1168.2L302 1167.8L303.4 1162.7L304.8 1162L306.2 1159L307.6 1164.1L309 1150.2L310.4 1151.1L311.8 1144.3L313.2 1142.1L314.6 1136L316 1130.5L317.4 1130.2L318.8 1127.5L320.2 1114.3L321.6 1112L323 1106.4L324.4 1096.5L325.8 1096L327.2 1091.2L328.6 1083.8L330 1078L331.4 1072.6L332.8 1064.5L334.2 1059L335.6 1052.6L337 1043.1L338.4 1037.3L339.8 1030.7L341.2 1023.2L342.6 1015.5L344 1008.2L345.4 1000.5L346.8 992.7L348.2 984.6L349.6 976.5L350 974.1L354 950.2L358 925.6L362 901.1L366 876.6L370 852.2L374 827.7L378 803.4L382 778.2L386 751.6L390 727.3L394 704.6L398 683.9L402 666L406 650.2L410 636.2L414 623.9L418 612.8L422 604L426 596.9L430 591.2L434 587.8L438 585.4L442 584.1L446 584L450 584.4L454 586.9L458 590.4L462 594.7L466 600.9L470 608L474 615.1L478 622L482 629.3L486 637.2L490 645.7L494 655.3L498 665.8L502 676.9L506 688.4L510 700.4L514 713.1L518 726.2L522 739.7L526 753.7L530 768.4L534 783.2L538 797.4L542 810.9L546 824.1L550 837L554 849.6L558 861.8L562 873.5L566 885.1L570 897L574 909.4L578 922.1L582 934.9L586 947.6L590 960.1L594 972.7L598 985L602 996.4L606 1006.6L610 1016.2L614 1025.1L618 1033L622 1039.8L626 1046.2L630 1051.4L634 1054.9L638 1057.4L640 1058.4L641 1058.9L642 1059.2L643 1059.5L644 1059.8L645 1059.9L646 1060L647 1059.6L648 1058.8L649 1057.5L650 1055.8L651 1053.7L652 1051.4L653 1048.9L654 1046.2L655 1043.3L656 1039.7L657 1034.8L658 1028.9L659 1022.1L660 1014.6L661 1006.6L662 998.3L663 988.8L664 977.5L665 965.1L666 952.3L667 939.8L668 928.3L669 917.5L670 906.7L671 896L672 885.7L673 875.9L674 866.7L675 858.3L676 850.5L677 842.9L678 835.8L679 829.3L680 823.4L681 818.3L682 813.5L683 808.6L684 804.4L685 801.5L686 800.3L687 801.5L688 804.5L689 808.7L690 813.3L691 819.4L692 827.8L693 837.7L694 848.3L695 858.7L696 868.3L697 877.2L698 886.1L699 894.9L700 903.6L701 912.1L702 920.4L703 928.3L704 936.2L705 944.2L706 952L707 959.2L708 965.5L709 970.6L710 975L711 979.2L712 982.8L713 985.4L714 986.3L715 985.5L716 983.5L717 980.6L718 977.3L719 974L720 971.1L721 968.3L722 965.1L723 961.9L724 959.1L725 957.2L726 956.4L727 959.2L728 966L729 975.2L730 984.6L731 995.4L732 1008.4L733 1022.1L734 1034.8L735 1047.2L736 1059.6L737 1069.8L738 1076.3L739 1081.9L740 1087L741 1091.6L742 1095.9L743 1099.8L744 1103.3L745 1106.5L746 1109.4L747 1112.1L748 1114.4L749 1116.5L750 1118.4L751 1120.1L752 1121.8L753 1123.4L754 1124.9L755 1126.4L756 1127.8L757 1129.1L758 1130.4L759 1131.5L760 1132.7L761 1133.7L762 1134.7L767 1139L772 1142L777 1144.4L782 1146.4L787 1148.1L792 1149.5L797 1150.9L802 1152.2L807 1153.6L812 1155.2L817 1157.1L822 1159.4L827 1162.3L832 1165.7L837 1169.4L842 1173.2L847 1176.9L852 1180.3L857 1183.1L862 1185.6L867 1187.9L872 1190.1L877 1192.1L882 1194L887 1195.8L892 1197.4L897 1199L902 1200.5L907 1201.9L912 1203.2L917 1204.5L922 1205.7L927 1206.9L932 1208L937 1209.1L942 1210.2L947 1211.3L952 1212.5L957 1213.7L962 1214.8L967 1215.9L972 1216.9L977 1217.7L982 1218.3L984 1218.6L984.8 1218.7L985.6 1218.7L986.4 1218.8L987.2 1218.9L988 1218.9L988.8 1219L989.6 1219L990.4 1218.2L991.2 1213.2L992 1206.8L992.8 1202.7L993.6 1204.4L994.4 1210.8L995.2 1217.8L996 1221L996.8 1220.5L997.6 1219.3L998.4 1217.8L999.2 1216.5L1000 1216L1000.8 1216L1001.6 1216L1002.4 1215.9L1003.2 1215.9L1004 1215.9L1004.8 1215.9L1005.6 1215.8L1006 1215.8L1014 1215.7L1022 1215.5L1030 1215.4L1038 1215.3L1046 1215.2L1054 1215.1L1062 1215.1L1070 1215L1078 1215L1086 1215L1094 1215L1102 1215L1110 1215L1118 1215L1126 1215L1134 1215L1142 1215L1150 1215L1158 1215L1166 1215L1174 1215L1182 1215L1190 1215L1198 1215L1206 1215L1214 1215L1222 1215L1230 1215L1238 1215L1246 1214.9L1254 1214.8L1262 1214.6L1270 1214.4L1278 1214.1L1286 1213.7L1290 1213.4L1291.5 1213.3L1293 1213.2L1294.5 1213.1L1296 1213L1297.5 1212.6L1299 1210.5L1300.5 1207.8L1302 1202.2L1303.5 1196.8L1305 1189.4L1306.5 1183.2L1308 1177.5L1309.5 1172.1L1311 1167.8L1312.5 1163L1314 1158.7L1315.5 1154.2L1317 1150.2L1318.5 1146.4L1320 1142.5L1321.5 1139.4L1323 1135.9L1324.5 1133.4L1326 1130.5L1327.5 1128.5L1329 1127.7L1330.5 1125.8L1332 1124.1L1333.5 1122.3L1335 1120.6L1336.5 1118.8L1338 1118.1L1339.5 1117L1341 1114.5L1342.5 1116.2L1344 1115.7L1345.5 1118.2L1347 1121.6L1348.5 1125L1350 1127.4L1351.5 1130.4L1353 1131.3L1354.5 1130.3L1356 1128.8L1357.5 1125.9L1359 1123.6L1360.5 1120.1L1362 1117.3L1363.5 1114.7L1365 1111.9L1366.5 1107.8L1368 1104.1L1369.5 1100.5L1371 1099L1372.5 1095.5L1374 1094.6L1375.5 1092.6L1377 1092.2L1378.5 1090.8L1380 1090.4L1381.5 1090.6L1383 1090.9L1384.5 1090.2L1386 1090.4L1387.5 1090.2L1389 1090L1390.5 1090.3L1392 1090.8L1393.5 1090.5L1395 1090.3L1396.5 1090.4L1398 1091L1399.5 1090.8L1401 1091.5L1402.5 1090.6L1404 1091.8L1405.5 1091.7L1407 1092.8L1408.5 1094.8L1410 1095.5L1411.5 1096.1L1413 1097.6L1414.5 1099.9L1416 1102.4L1417.5 1104.8L1419 1108.5L1420.5 1111.6L1422 1114.3L1423.5 1120L1425 1123.8L1426.5 1129.5L1428 1134.7L1429.5 1140.4L1431 1146L1432.5 1152.4L1434 1157.9L1435.5 1163.8L1437 1169.4L1438.5 1175L1440 1180L1441.5 1185.3L1443 1189.7L1444.5 1192.3L1446 1196.9L1447.5 1201L1449 1204.8L1450.5 1207.8L1452 1209.9L1453.5 1209.9L1455 1211L1456.5 1211.4L1458 1211.8L1459.5 1212.3L1461 1212.1L1462.5 1206.8L1464 1195.6L1465.5 1183.9L1467 1171.3L1468.5 1157.4L1470 1140L1471.5 1122.4L1473 1110.2L1474.5 1102.2L1476 1094.6L1477.5 1087.2L1479 1082.6L1480.5 1080L1482 1077.7L1483.5 1077.4L1485 1075.5L1486.5 1074.5L1488 1073.2L1489.5 1073.9L1491 1072.7L1492.5 1073.3L1494 1074L1495.5 1075.2L1497 1075.8L1498.5 1077.5L1500 1079.6L1501.5 1081.1L1503 1084L1504.5 1087.9L1506 1091.9L1507.5 1096.6L1509 1100.8L1510.5 1105L1512 1111.1L1513.5 1115.2L1515 1121.3L1516.5 1127.4L1518 1134.6L1519.5 1138.4L1521 1142.7L1522.5 1144.9L1524 1148.2L1525.5 1151.7L1527 1153.9L1528.5 1156.4L1530 1158.6L1531.5 1160.1L1533 1161.6L1534.5 1163.1L1536 1164.2L1537.5 1165.6L1539 1167L1540.5 1167.2L1542 1168.7L1543.5 1169.8L1545 1170.1L1546.5 1170.9L1548 1172.4L1549.5 1172.7L1551 1173.8L1552.5 1174.2L1554 1173.7L1555.5 1174.2L1557 1175L1558.5 1176.2L1560 1174.9L1561.5 1177.3L1563 1178.7L1564.5 1179.2L1566 1180.3L1567.5 1181L1569 1181.4L1570.5 1183.7L1572 1184.2L1573.5 1185.7L1575 1186.6L1576.5 1188.7L1578 1189.4L1579.5 1191L1581 1192.4L1582.5 1193.6L1584 1195.5L1585.5 1196.9L1587 1197L1588.5 1196.1L1590 1195.5L1591.5 1194.4L1593 1190.2L1594.5 1187.1L1596 1182.8L1597.5 1180.6L1599 1178.1L1600.5 1176.6L1602 1174.3L1603.5 1172.5L1605 1170.3L1606.5 1167.8L1608 1167.1L1609.5 1164.7L1611 1164L1612.5 1163.3L1614 1160.9L1615.5 1160.2L1617 1159.2L1618.5 1158.7L1620 1158.6L1621.5 1158.6L1623 1159.4L1624.5 1160.8L1626 1161.4L1627.5 1171.3L1629 1187.3L1630.5 1195.3L1632 1192.7L1633.5 1183.7L1635 1171.8L1636.5 1159.1L1638 1148.3L1639.5 1138.8L1641 1127.1L1642.5 1117L1644 1106.2L1645.5 1096.5L1647 1087.6L1648.5 1082.2L1650 1078.2L1651.5 1073.2L1653 1069.2L1654.5 1065.8L1656 1063.4L1657.5 1059.9L1659 1059L1660.5 1056.8L1662 1054.6L1663.5 1053.9L1665 1051L1666.5 1050.4L1668 1049.8L1669.5 1049.1L1671 1046.5L1672.5 1045L1674 1044L1675.5 1042.5L1677 1040.6L1678.5 1039L1680 1038.4L1681.5 1035.3L1683 1032.8L1684.5 1030.1L1686 1026.3L1687.5 1021.4L1689 1017.5L1690.5 1014.7L1692 1016.5L1693.5 1018.9L1695 1019.6L1696.5 1022L1698 1023.4L1699.5 1026.7L1701 1029.7L1702.5 1035.4L1704 1040.7L1705.5 1048.1L1707 1055.6L1708.5 1062L1710 1070.7L1711.5 1075.3L1713 1082.1L1714.5 1087.7L1716 1094L1717.5 1099.4L1719 1104L1720.5 1108.6L1722 1110.2L1723.5 1112.6L1725 1115.1L1726.5 1116.4L1728 1118L1729.5 1120.9L1731 1122.5L1732.5 1124.4L1734 1128.2L1735.5 1132L1737 1137.7L1738.5 1142.4L1740 1149.2L1741.5 1155.1L1743 1162.6L1744.5 1170.5L1746 1178.7L1747.5 1185.5L1749 1191.9L1750.5 1196L1752 1199L1753.5 1201.1L1755 1204.2L1756.5 1205.5L1758 1207.5L1759.5 1208.8L1761 1209.9L1762.5 1211.1L1764 1212.3L1765.5 1213.2L1767 1213.5L1768.5 1213.4L1770 1214.3L1771.5 1214.4L1773 1213.6L1774.5 1213.5L1776 1213.9L1777.5 1214.9L1779 1213.9L1780.5 1213.9L1782 1214.3L1783.5 1213.5L1785 1213.5L1786.5 1214L1788 1214.4L1789.5 1213.9L1791 1213.7L1792.5 1213L1794 1214.1L1795.5 1212.4L1797 1213.1L1798.5 1211.8L1800 1212.3L1802.5 1212.3L1805 1211.4L1807.5 1212.7L1810 1213.8L1812.5 1215.2L1815 1215.6L1817.5 1217.3L1820 1217.5L1822.5 1217.2L1825 1217.9L1827.5 1217.3L1830 1215.7L1832.5 1214.6L1835 1214L1837.5 1213.7L1840 1212.1L1842.5 1213.5L1845 1214.6L1847.5 1214.3L1850 1216.1L1852.5 1217L1855 1218.2L1857.5 1219.3L1860 1218.3L1862.5 1218.6L1865 1217.7L1867.5 1217.5L1870 1217.6L1872.5 1215.2L1875 1214.4L1877.5 1213.4L1880 1212.9L1882.5 1211.6L1885 1210.3L1887.5 1209L1890 1208L1892.5 1206.3L1895 1204.6L1897.5 1205.2L1900 1204L1902.5 1203.1L1905 1203.1L1907.5 1203.9L1910 1204L1912.5 1205.8L1915 1207.1L1917.5 1209.7L1920 1209.8L1922.5 1212L1925 1214.6L1927.5 1214.7L1930 1216.4L1932.5 1217.5L1935 1218.6L1936 1219"/>
<path d="M113 1213.4L114.4 1213.3L115.8 1210.5L117.2 1209.3L118.6 1210.8L120 1210L121.4 1209L122.8 1205L124.2 1207.2L125.6 1206.4L127 1204.8L128.4 1205.7L129.8 1203.8L131.2 1204.5L132.6 1203L134 1201.7L135.4 1210.8L136.8 1201.2L138.2 1202.5L139.6 1203L141 1197.1L142.4 1198.9L143.8 1196.2L145.2 1198L146.6 1188.8L148 1200.8L149.4 1197.5L150.8 1192.6L152.2 1201.2L153.6 1192.6L155 1182.6L156.4 1197.5L157.8 1195.7L159.2 1192L160.6 1197.9L162 1196.5L163.4 1195L164.8 1198.6L166.2 1195L167.6 1199.3L169 1194.7L170.4 1194.5L171.8 1178.1L173.2 1190.5L174.6 1202.1L176 1188.7L177.4 1190.9L178.8 1188.9L180.2 1181L181.6 1194.5L183 1202L184.4 1200.7L185.8 1189.3L187.2 1185.1L188.6 1187.1L190 1193.7L191.4 1187.9L192.8 1195.3L194.2 1192.2L195.6 1183L197 1183.7L198.4 1195.9L199.8 1196.1L201.2 1191.4L202.6 1200.2L204 1191.5L205.4 1190.4L206.8 1192.2L208.2 1195.9L209.6 1180.1L211 1194.2L212.4 1194.5L213.8 1189.4L215.2 1189.6L216.6 1201.2L218 1192.3L219.4 1193.4L220.8 1200L222.2 1188.8L223.6 1208.1L225 1191.5L226.4 1192.1L227.8 1188L229.2 1192.2L230.6 1190.5L232 1192.9L233.4 1182L234.8 1183.1L236.2 1201L237.6 1198.8L239 1198.2L240.4 1201.5L241.8 1202.2L243.2 1191L244.6 1209.3L246 1191.3L247.4 1188L248.8 1204.7L250.2 1191.9L251.6 1194.2L253 1188.5L254.4 1190.5L255.8 1199.6L257.2 1195.1L258.6 1186.7L260 1197.1L261.4 1188.8L262.8 1184.4L264.2 1197.4L265.6 1194.2L267 1191L268.4 1187.8L269.8 1195.9L271.2 1190.1L272.6 1182.6L274 1193.9L275.4 1194.3L276.8 1184.4L278.2 1196.3L279.6 1181.7L281 1185.6L282.4 1190.9L283.8 1188.4L285.2 1192.1L286.6 1190.7L288 1177.5L289.4 1193.1L290.8 1185L292.2 1186.4L293.6 1182.3L295 1179.7L296.4 1184.8L297.8 1182.4L299.2 1179.8L300.6 1174.7L302 1180.4L303.4 1173.8L304.8 1171.8L306.2 1167.3L307.6 1164.8L309 1164L310.4 1160.2L311.8 1156.8L313.2 1150.6L314.6 1147.2L316 1136.2L317.4 1137.4L318.8 1132L320.2 1126.8L321.6 1123.4L323 1118.4L324.4 1112.2L325.8 1105.8L327.2 1101.8L328.6 1096.8L330 1091.1L331.4 1083.1L332.8 1077.6L334.2 1071.1L335.6 1065.8L337 1059L338.4 1052.7L339.8 1045.1L341.2 1038.8L342.6 1031.3L344 1024.1L345.4 1016.7L346.8 1008.9L348.2 1001L349.6 992.9L350 990.6L354 966.7L358 941.9L362 916.7L366 891.7L370 866.7L374 841.6L378 816.7L382 791.6L386 764.7L390 738.6L394 714.9L398 692.8L402 673.5L406 656.7L410 641.9L414 628.9L418 617.1L422 607.5L426 600.1L430 593.9L434 590.2L438 587.6L442 586.1L446 586L450 586.5L454 589L458 592.7L462 597.3L466 603.7L470 611.2L474 618.6L478 625.9L482 633.5L486 641.7L490 650.6L494 660.6L498 671.5L502 683L506 695L510 707.4L514 720.5L518 734.1L522 747.9L526 762.4L530 777.5L534 792.6L538 807.2L542 821L546 834.4L550 847.5L554 860.3L558 872.6L562 884.4L566 896L570 907.9L574 920.2L578 932.8L582 945.5L586 958L590 970.2L594 982.5L598 994.4L602 1005.4L606 1015.1L610 1024.2L614 1032.6L618 1039.9L622 1046.2L626 1051.9L630 1056.6L634 1059.7L638 1061.8L640 1062.7L641 1063L642 1063.4L643 1063.6L644 1063.8L645 1063.9L646 1064L647 1063.7L648 1062.8L649 1061.2L650 1059.2L651 1056.7L652 1053.9L653 1050.9L654 1047.6L655 1044.3L656 1040.3L657 1035.3L658 1029.4L659 1022.7L660 1015.4L661 1007.5L662 999.3L663 989.8L664 978.5L665 966.1L666 953.3L667 940.8L668 929.3L669 918.4L670 907.6L671 897L672 886.7L673 876.9L674 867.7L675 859.3L676 851.4L677 843.9L678 836.8L679 830.2L680 824.4L681 819.3L682 814.4L683 809.6L684 805.4L685 802.4L686 801.3L687 802.4L688 805.5L689 809.6L690 814.3L691 820.4L692 828.7L693 838.6L694 849.2L695 859.7L696 869.3L697 878.2L698 887.1L699 895.9L700 904.6L701 913.1L702 921.4L703 929.3L704 937.1L705 945.1L706 952.9L707 960.1L708 966.4L709 971.4L710 975.7L711 980L712 983.6L713 986.1L714 987L715 986.2L716 984.1L717 981.2L718 977.9L719 974.5L720 971.6L721 968.8L722 965.5L723 962.3L724 959.5L725 957.5L726 956.8L727 959.5L728 966.3L729 975.4L730 984.8L731 995.5L732 1008.5L733 1022.1L734 1034.9L735 1047.5L736 1060.1L737 1070.5L738 1077.2L739 1082.7L740 1087.8L741 1092.5L742 1096.8L743 1100.7L744 1104.2L745 1107.4L746 1110.3L747 1112.9L748 1115.2L749 1117.3L750 1119.2L751 1120.9L752 1122.6L753 1124.2L754 1125.7L755 1127.2L756 1128.6L757 1129.9L758 1131.2L759 1132.3L760 1133.5L761 1134.5L762 1135.5L767 1139.8L772 1142.8L777 1145.2L782 1147.2L787 1148.9L792 1150.3L797 1151.7L802 1153L807 1154.4L812 1156L817 1157.9L822 1160.2L827 1163.1L832 1166.5L837 1170.2L842 1174L847 1177.7L852 1181.1L857 1183.9L862 1186.4L867 1188.7L872 1190.9L877 1192.9L882 1194.8L887 1196.6L892 1198.2L897 1199.8L902 1201.3L907 1202.7L912 1204L917 1205.3L922 1206.5L927 1207.7L932 1208.8L937 1209.9L942 1211L947 1212.2L952 1213.4L957 1214.7L962 1216L967 1217.2L972 1218.2L977 1218.9L982 1219.2L984 1219.2L984.8 1219.2L985.6 1219.2L986.4 1219.2L987.2 1219.1L988 1219.1L988.8 1219.1L989.6 1219L990.4 1218.2L991.2 1213.2L992 1206.8L992.8 1202.7L993.6 1204.4L994.4 1210.8L995.2 1217.8L996 1221L996.8 1220.5L997.6 1219.3L998.4 1217.8L999.2 1216.5L1000 1216L1000.8 1216L1001.6 1216L1002.4 1215.9L1003.2 1215.9L1004 1215.9L1004.8 1215.9L1005.6 1215.8L1006 1215.8L1014 1215.7L1022 1215.5L1030 1215.4L1038 1215.3L1046 1215.2L1054 1215.1L1062 1215.1L1070 1215L1078 1215L1086 1215L1094 1215L1102 1215L1110 1215L1118 1215L1126 1215L1134 1215L1142 1215L1150 1215L1158 1215L1166 1215L1174 1215L1182 1215L1190 1215L1198 1215L1206 1215L1214 1215L1222 1215L1230 1215L1238 1215L1246 1214.9L1254 1214.8L1262 1214.6L1270 1214.4L1278 1214.1L1286 1213.7L1290 1213.4L1291.5 1213.3L1293 1213.2L1294.5 1213.1L1296 1213L1297.5 1212.6L1299 1210.6L1300.5 1206L1302 1202.2L1303.5 1196.3L1305 1190L1306.5 1183.8L1308 1177.8L1309.5 1172.6L1311 1167.1L1312.5 1164.1L1314 1159.1L1315.5 1154.7L1317 1150.5L1318.5 1146.9L1320 1143L1321.5 1140.5L1323 1135.8L1324.5 1134.7L1326 1132.6L1327.5 1128.8L1329 1128.5L1330.5 1126.4L1332 1124.8L1333.5 1123.4L1335 1122.2L1336.5 1120.5L1338 1119L1339.5 1118.5L1341 1117.1L1342.5 1117L1344 1118.2L1345.5 1118.3L1347 1121.5L1348.5 1124.9L1350 1128.4L1351.5 1132.4L1353 1131.9L1354.5 1131.6L1356 1130.4L1357.5 1126.3L1359 1124.2L1360.5 1120.6L1362 1118.6L1363.5 1115.2L1365 1113.2L1366.5 1108.7L1368 1104.9L1369.5 1101.4L1371 1098.3L1372.5 1096.8L1374 1095.3L1375.5 1094.6L1377 1093.2L1378.5 1092.7L1380 1092L1381.5 1091.9L1383 1091.6L1384.5 1091.1L1386 1091.9L1387.5 1090.8L1389 1091L1390.5 1091.9L1392 1091L1393.5 1091.3L1395 1091L1396.5 1091.2L1398 1092.1L1399.5 1091.7L1401 1093L1402.5 1093.1L1404 1092.8L1405.5 1092.9L1407 1094L1408.5 1094.9L1410 1096.6L1411.5 1096.6L1413 1098.8L1414.5 1100.7L1416 1103.5L1417.5 1106.2L1419 1109L1420.5 1113L1422 1116L1423.5 1120.9L1425 1125.1L1426.5 1129.9L1428 1136L1429.5 1140.9L1431 1146.3L1432.5 1152.8L1434 1158.1L1435.5 1163.5L1437 1169.2L1438.5 1175.4L1440 1181L1441.5 1185.1L1443 1189.1L1444.5 1194L1446 1197.1L1447.5 1201.8L1449 1205.1L1450.5 1207L1452 1210.2L1453.5 1209.9L1455 1211L1456.5 1211.6L1458 1212.3L1459.5 1212.8L1461 1212.2L1462.5 1206.2L1464 1196.3L1465.5 1183.5L1467 1171.7L1468.5 1157.3L1470 1139.9L1471.5 1123.3L1473 1111.6L1474.5 1102.7L1476 1095.3L1477.5 1088.9L1479 1084.5L1480.5 1081.6L1482 1079.1L1483.5 1077.9L1485 1076L1486.5 1076.7L1488 1074.1L1489.5 1074.7L1491 1073.9L1492.5 1075L1494 1075.7L1495.5 1076.9L1497 1077.5L1498.5 1079.5L1500 1080.3L1501.5 1082L1503 1084.8L1504.5 1088.4L1506 1094.4L1507.5 1097.7L1509 1102.2L1510.5 1105.5L1512 1111.3L1513.5 1117.2L1515 1122L1516.5 1129.2L1518 1133.8L1519.5 1139.1L1521 1143L1522.5 1146.2L1524 1149.3L1525.5 1152.4L1527 1155.9L1528.5 1157.6L1530 1159.5L1531.5 1160.6L1533 1160.5L1534.5 1163L1536 1164.5L1537.5 1166.2L1539 1167.6L1540.5 1167.9L1542 1168.7L1543.5 1169.9L1545 1170.7L1546.5 1171.6L1548 1172.3L1549.5 1172.5L1551 1172L1552.5 1173.5L1554 1172.9L1555.5 1174.7L1557 1176.7L1558.5 1176.7L1560 1177L1561.5 1178.7L1563 1178.1L1564.5 1179.6L1566 1180.7L1567.5 1181.1L1569 1182.2L1570.5 1183.9L1572 1184.8L1573.5 1185.5L1575 1186.8L1576.5 1188.3L1578 1189.4L1579.5 1190.7L1581 1192.8L1582.5 1194.1L1584 1195.6L1585.5 1196L1587 1197.2L1588.5 1197.1L1590 1194.5L1591.5 1194.6L1593 1191.2L1594.5 1188.2L1596 1185.5L1597.5 1183.3L1599 1181.3L1600.5 1178.8L1602 1177.6L1603.5 1175.7L1605 1174.4L1606.5 1173.7L1608 1172.6L1609.5 1170.6L1611 1170.6L1612.5 1169.6L1614 1168.1L1615.5 1169.2L1617 1167.3L1618.5 1167.5L1620 1166.8L1621.5 1167.2L1623 1168L1624.5 1168.7L1626 1170L1627.5 1178.1L1629 1190.3L1630.5 1197.4L1632 1193.1L1633.5 1183.5L1635 1172L1636.5 1160.5L1638 1148.9L1639.5 1138.7L1641 1129.1L1642.5 1116L1644 1106.4L1645.5 1097.8L1647 1090.5L1648.5 1084.7L1650 1079.1L1651.5 1075.9L1653 1071.4L1654.5 1068.8L1656 1064.5L1657.5 1062.8L1659 1061.5L1660.5 1059.4L1662 1058L1663.5 1054.7L1665 1055.6L1666.5 1054.1L1668 1053.4L1669.5 1050.9L1671 1050.2L1672.5 1048.5L1674 1046.5L1675.5 1045.2L1677 1043.4L1678.5 1042L1680 1039.8L1681.5 1037.9L1683 1035.2L1684.5 1032L1686 1027.8L1687.5 1023.2L1689 1019.7L1690.5 1018.5L1692 1018.1L1693.5 1019.2L1695 1020.5L1696.5 1024L1698 1026.8L1699.5 1028.9L1701 1032.1L1702.5 1036.1L1704 1042.6L1705.5 1050.4L1707 1057.5L1708.5 1064.2L1710 1071.9L1711.5 1077.6L1713 1084L1714.5 1090.4L1716 1095.5L1717.5 1101L1719 1105.8L1720.5 1108.6L1722 1111.6L1723.5 1113.2L1725 1116L1726.5 1117.9L1728 1119.4L1729.5 1121.2L1731 1122.8L1732.5 1125.3L1734 1129.5L1735.5 1133.5L1737 1138.1L1738.5 1144L1740 1149.1L1741.5 1155.1L1743 1163.1L1744.5 1170.9L1746 1179.1L1747.5 1187.3L1749 1192.3L1750.5 1196L1752 1199.9L1753.5 1201.3L1755 1204L1756.5 1206L1758 1207.9L1759.5 1210.3L1761 1209.4L1762.5 1211.8L1764 1211.4L1765.5 1212L1767 1213.2L1768.5 1213.7L1770 1213.8L1771.5 1213.6L1773 1214.4L1774.5 1213.6L1776 1214.6L1777.5 1215.6L1779 1213.8L1780.5 1214.5L1782 1214.5L1783.5 1213.8L1785 1214.5L1786.5 1215L1788 1215L1789.5 1214.8L1791 1214.2L1792.5 1214.2L1794 1213.5L1795.5 1214L1797 1212.7L1798.5 1212.1L1800 1212L1802.5 1212.8L1805 1211.6L1807.5 1213.4L1810 1214.3L1812.5 1214.9L1815 1216.4L1817.5 1216.6L1820 1218.1L1822.5 1218.4L1825 1217.6L1827.5 1217.3L1830 1216.3L1832.5 1215.5L1835 1214.5L1837.5 1214L1840 1213.2L1842.5 1213.8L1845 1214.6L1847.5 1216L1850 1216.4L1852.5 1217.3L1855 1218.3L1857.5 1219.2L1860 1218.8L1862.5 1218.9L1865 1219.2L1867.5 1219L1870 1217.8L1872.5 1215.9L1875 1215.7L1877.5 1214.3L1880 1213L1882.5 1212.9L1885 1211.7L1887.5 1210.6L1890 1209.3L1892.5 1208.4L1895 1206.8L1897.5 1205.9L1900 1205L1902.5 1205.2L1905 1204.9L1907.5 1205.4L1910 1205.6L1912.5 1206.8L1915 1208.4L1917.5 1210L1920 1211.6L1922.5 1213.9L1925 1214.6L1927.5 1214.5L1930 1216.8L1932.5 1217.9L1935 1219.1L1936 1219.5"/>
<path d="M113 1213L114.4 1212.1L115.8 1210.5L117.2 1211.8L118.6 1210.1L120 1209.1L121.4 1208.2L122.8 1208.3L124.2 1207.2L125.6 1204.5L127 1204.9L128.4 1203L129.8 1198.6L131.2 1201.3L132.6 1212L134 1198.7L135.4 1202.2L136.8 1204L138.2 1201L139.6 1200.6L141 1197.4L142.4 1197.8L143.8 1197.3L145.2 1195.3L146.6 1198.2L148 1200.5L149.4 1201.2L150.8 1203.9L152.2 1199.6L153.6 1209.6L155 1198.2L156.4 1191.9L157.8 1190.1L159.2 1196.8L160.6 1199.1L162 1199.3L163.4 1195.1L164.8 1200.7L166.2 1194.5L167.6 1192.1L169 1192.9L170.4 1193.9L171.8 1200.7L173.2 1186.5L174.6 1187.1L176 1198.7L177.4 1190.2L178.8 1198.6L180.2 1195.5L181.6 1196L183 1198.6L184.4 1190.5L185.8 1195.3L187.2 1196.3L188.6 1197.7L190 1185.1L191.4 1190.8L192.8 1200.5L194.2 1195.6L195.6 1199.6L197 1200.8L198.4 1188L199.8 1191.7L201.2 1200.7L202.6 1195.5L204 1180.4L205.4 1199.4L206.8 1195.5L208.2 1190.5L209.6 1191.7L211 1199.3L212.4 1198.4L213.8 1180.3L215.2 1183.2L216.6 1193.6L218 1195.6L219.4 1195.3L220.8 1191.4L222.2 1197.7L223.6 1185.5L225 1191.7L226.4 1196.2L227.8 1196L229.2 1195.4L230.6 1197.7L232 1196.8L233.4 1194.3L234.8 1203.8L236.2 1195.2L237.6 1213.5L239 1187.1L240.4 1200L241.8 1188.9L243.2 1186.5L244.6 1183.1L246 1180L247.4 1192.2L248.8 1194.3L250.2 1189.4L251.6 1192.1L253 1196.8L254.4 1190.9L255.8 1206L257.2 1184.6L258.6 1203.8L260 1193.6L261.4 1186.4L262.8 1197.3L264.2 1194.6L265.6 1185L267 1203.5L268.4 1190.3L269.8 1195.6L271.2 1206.8L272.6 1188.4L274 1188L275.4 1197.2L276.8 1179.2L278.2 1196.3L279.6 1186.3L281 1197.1L282.4 1195.7L283.8 1184.4L285.2 1174.9L286.6 1194.5L288 1183.2L289.4 1188.3L290.8 1190L292.2 1191.6L293.6 1188.1L295 1179.7L296.4 1189.4L297.8 1186.6L299.2 1187.2L300.6 1177.7L302 1185.1L303.4 1179.6L304.8 1174.8L306.2 1175.3L307.6 1170.5L309 1162.6L310.4 1163L311.8 1162.4L313.2 1158.9L314.6 1155.3L316 1149.5L317.4 1145.1L318.8 1142.2L320.2 1138.9L321.6 1133.8L323 1130.4L324.4 1123.3L325.8 1118.4L327.2 1113.4L328.6 1108.6L330 1102.9L331.4 1097.7L332.8 1091.5L334.2 1086.6L335.6 1079.2L337 1072.8L338.4 1067.3L339.8 1060.8L341.2 1053.4L342.6 1046.5L344 1039.7L345.4 1032.3L346.8 1024.6L348.2 1016.8L349.6 1008.8L350 1006.6L354 982.8L358 958L362 932.3L366 906.7L370 881.1L374 855.5L378 830L382 804.6L386 777.9L390 750.3L394 725.4L398 702.1L402 681.3L406 663.4L410 647.7L414 634L418 621.6L422 611.2L426 603.3L430 596.8L434 592.6L438 589.9L442 588.2L446 588L450 588.5L454 591.2L458 595.1L462 599.8L466 606.6L470 614.4L474 622L478 629.7L482 637.6L486 646.2L490 655.4L494 665.8L498 677.1L502 689.1L506 701.5L510 714.3L514 727.9L518 741.8L522 756.1L526 771L530 786.4L534 801.9L538 816.8L542 830.9L546 844.5L550 857.8L554 870.7L558 883.1L562 895L566 906.6L570 918.4L574 930.7L578 943.2L582 955.7L586 967.9L590 979.9L594 991.8L598 1003.3L602 1013.9L606 1023.2L610 1031.8L614 1039.7L618 1046.5L622 1052.2L626 1057.4L630 1061.6L634 1064.4L638 1066.2L640 1066.9L641 1067.2L642 1067.5L643 1067.7L644 1067.8L645 1067.9L646 1068L647 1067.5L648 1066.3L649 1064.4L650 1062L651 1059.2L652 1056.1L653 1052.6L654 1049L655 1045.2L656 1041L657 1035.8L658 1029.9L659 1023.3L660 1016.1L661 1008.4L662 1000.2L663 990.8L664 979.5L665 967.1L666 954.3L667 941.8L668 930.2L669 919.4L670 908.6L671 898L672 887.7L673 877.8L674 868.6L675 860.2L676 852.4L677 844.9L678 837.7L679 831.2L680 825.3L681 820.2L682 815.4L683 810.6L684 806.4L685 803.4L686 802.2L687 803.4L688 806.4L689 810.6L690 815.2L691 821.3L692 829.7L693 839.6L694 850.2L695 860.7L696 870.2L697 879.1L698 888L699 896.9L700 905.6L701 914.1L702 922.4L703 930.2L704 938.1L705 946.1L706 953.8L707 961L708 967.2L709 972.2L710 976.5L711 980.7L712 984.3L713 986.7L714 987.7L715 986.9L716 984.8L717 981.8L718 978.4L719 975L720 972.1L721 969.2L722 966L723 962.7L724 959.8L725 957.8L726 957.1L727 959.8L728 966.6L729 975.6L730 985.1L731 995.7L732 1008.6L733 1022.2L734 1035L735 1047.8L736 1060.7L737 1071.3L738 1078L739 1083.6L740 1088.7L741 1093.4L742 1097.6L743 1101.5L744 1105L745 1108.2L746 1111.1L747 1113.7L748 1116L749 1118.1L750 1120L751 1121.7L752 1123.4L753 1125L754 1126.5L755 1128L756 1129.4L757 1130.7L758 1132L759 1133.1L760 1134.3L761 1135.3L762 1136.3L767 1140.6L772 1143.6L777 1146L782 1148L787 1149.7L792 1151.1L797 1152.5L802 1153.8L807 1155.2L812 1156.8L817 1158.7L822 1161L827 1163.9L832 1167.3L837 1171L842 1174.8L847 1178.5L852 1181.9L857 1184.7L862 1187.2L867 1189.5L872 1191.7L877 1193.7L882 1195.6L887 1197.4L892 1199L897 1200.6L902 1202.1L907 1203.5L912 1204.8L917 1206.1L922 1207.3L927 1208.5L932 1209.6L937 1210.7L942 1211.8L947 1213L952 1214.2L957 1215.5L962 1216.8L967 1218L972 1219L977 1219.7L982 1220L984 1220L984.8 1219.9L985.6 1219.9L986.4 1219.8L987.2 1219.6L988 1219.5L988.8 1219.3L989.6 1219.1L990.4 1218.1L991.2 1213.1L992 1206.7L992.8 1202.7L993.6 1204.4L994.4 1210.8L995.2 1217.8L996 1221L996.8 1220.5L997.6 1219.3L998.4 1217.8L999.2 1216.5L1000 1216L1000.8 1216L1001.6 1216L1002.4 1215.9L1003.2 1215.9L1004 1215.9L1004.8 1215.9L1005.6 1215.8L1006 1215.8L1014 1215.7L1022 1215.5L1030 1215.4L1038 1215.3L1046 1215.2L1054 1215.1L1062 1215.1L1070 1215L1078 1215L1086 1215L1094 1215L1102 1215L1110 1215L1118 1215L1126 1215L1134 1215L1142 1215L1150 1215L1158 1215L1166 1215L1174 1215L1182 1215L1190 1215L1198 1215L1206 1215L1214 1215L1222 1215L1230 1215L1238 1215L1246 1214.9L1254 1214.8L1262 1214.6L1270 1214.4L1278 1214.1L1286 1213.7L1290 1213.5L1291.5 1213.4L1293 1213.3L1294.5 1213.2L1296 1213.1L1297.5 1212.7L1299 1210.6L1300.5 1206.9L1302 1202.2L1303.5 1196.6L1305 1189.7L1306.5 1184.5L1308 1177.9L1309.5 1173.1L1311 1168.3L1312.5 1164L1314 1159.8L1315.5 1154.9L1317 1151.2L1318.5 1147.9L1320 1144.2L1321.5 1141.1L1323 1138L1324.5 1135.3L1326 1133.8L1327.5 1130.9L1329 1129.5L1330.5 1127.6L1332 1125.8L1333.5 1123.4L1335 1123.1L1336.5 1122.5L1338 1120.5L1339.5 1118.9L1341 1118.2L1342.5 1117.4L1344 1117.9L1345.5 1119.5L1347 1123.1L1348.5 1126L1350 1129.2L1351.5 1131.6L1353 1131.8L1354.5 1132.6L1356 1131.1L1357.5 1127.8L1359 1126.4L1360.5 1122.3L1362 1119.1L1363.5 1116.8L1365 1113.7L1366.5 1109.7L1368 1106.6L1369.5 1102.4L1371 1100.4L1372.5 1097.7L1374 1096.1L1375.5 1095.6L1377 1094L1378.5 1094.2L1380 1093.8L1381.5 1092.2L1383 1092.3L1384.5 1092L1386 1092L1387.5 1092.2L1389 1092.6L1390.5 1092L1392 1093.1L1393.5 1093.8L1395 1092.5L1396.5 1093.1L1398 1092.9L1399.5 1092.2L1401 1092.6L1402.5 1094.5L1404 1093.9L1405.5 1095.1L1407 1095.2L1408.5 1096.6L1410 1097.8L1411.5 1098.4L1413 1100.6L1414.5 1102.4L1416 1104L1417.5 1107L1419 1109.7L1420.5 1114.5L1422 1117.1L1423.5 1121.4L1425 1125.5L1426.5 1130.4L1428 1136.8L1429.5 1142.1L1431 1148.2L1432.5 1153.2L1434 1159.1L1435.5 1163.7L1437 1169.6L1438.5 1174L1440 1181.5L1441.5 1186.3L1443 1189.4L1444.5 1193.4L1446 1197.7L1447.5 1200.9L1449 1205.2L1450.5 1208.1L1452 1209.4L1453.5 1210.4L1455 1210.9L1456.5 1211.1L1458 1211.5L1459.5 1212.1L1461 1212L1462.5 1207.1L1464 1196.3L1465.5 1184.7L1467 1173.5L1468.5 1158.7L1470 1141.1L1471.5 1124.9L1473 1111.4L1474.5 1103.9L1476 1096.7L1477.5 1090.2L1479 1085.7L1480.5 1083L1482 1081.1L1483.5 1078.9L1485 1078L1486.5 1076.8L1488 1077L1489.5 1076.3L1491 1076.6L1492.5 1076.4L1494 1076.5L1495.5 1077.9L1497 1078.7L1498.5 1079.9L1500 1081.3L1501.5 1084.2L1503 1086.4L1504.5 1089.5L1506 1093.8L1507.5 1098.5L1509 1102.9L1510.5 1107.4L1512 1112.1L1513.5 1118.2L1515 1123.6L1516.5 1130.4L1518 1134.7L1519.5 1138.6L1521 1143.3L1522.5 1147.2L1524 1150.1L1525.5 1153.1L1527 1155.6L1528.5 1158.3L1530 1159.2L1531.5 1161.6L1533 1162.7L1534.5 1163.9L1536 1166L1537.5 1167.1L1539 1166.8L1540.5 1168.9L1542 1169.8L1543.5 1169.7L1545 1170.7L1546.5 1171.7L1548 1172.3L1549.5 1173.5L1551 1174.1L1552.5 1173.5L1554 1173.5L1555.5 1174.9L1557 1176L1558.5 1176.7L1560 1177.9L1561.5 1178.6L1563 1179.5L1564.5 1179.3L1566 1181.4L1567.5 1181.4L1569 1183.6L1570.5 1184.3L1572 1185.2L1573.5 1186.9L1575 1187.4L1576.5 1188.3L1578 1189.1L1579.5 1191.7L1581 1193.2L1582.5 1194.7L1584 1195.6L1585.5 1197.2L1587 1197.1L1588.5 1196.9L1590 1196.9L1591.5 1194.2L1593 1191L1594.5 1188.6L1596 1186.8L1597.5 1184.2L1599 1182.4L1600.5 1180.9L1602 1179.8L1603.5 1179L1605 1177.4L1606.5 1177.1L1608 1176.3L1609.5 1175.3L1611 1174.8L1612.5 1174.3L1614 1174.3L1615.5 1174.5L1617 1174.3L1618.5 1172.7L1620 1173.1L1621.5 1173.6L1623 1173.7L1624.5 1174.1L1626 1175.7L1627.5 1181.5L1629 1190.4L1630.5 1196.7L1632 1193.2L1633.5 1184.3L1635 1173.9L1636.5 1160.7L1638 1150.8L1639.5 1139.9L1641 1129.5L1642.5 1118.5L1644 1108.2L1645.5 1098.5L1647 1090.8L1648.5 1085.4L1650 1081.7L1651.5 1077.8L1653 1074.3L1654.5 1070.2L1656 1068.8L1657.5 1065.9L1659 1063.2L1660.5 1061.7L1662 1060.1L1663.5 1058.8L1665 1056.5L1666.5 1055.4L1668 1055.1L1669.5 1053.7L1671 1051.6L1672.5 1050.5L1674 1049.3L1675.5 1047.3L1677 1045.4L1678.5 1043L1680 1041.4L1681.5 1040L1683 1037.5L1684.5 1034.3L1686 1029.1L1687.5 1023.9L1689 1021.1L1690.5 1019.8L1692 1020.2L1693.5 1022.1L1695 1024.6L1696.5 1025.5L1698 1027.8L1699.5 1030.7L1701 1033.4L1702.5 1038.6L1704 1043.5L1705.5 1051.7L1707 1059L1708.5 1066.1L1710 1072.3L1711.5 1079L1713 1084.4L1714.5 1090.3L1716 1096.5L1717.5 1101.8L1719 1106.4L1720.5 1109.6L1722 1112.7L1723.5 1115.7L1725 1116.8L1726.5 1118L1728 1119.7L1729.5 1121.6L1731 1124.6L1732.5 1126.7L1734 1130.4L1735.5 1134.2L1737 1139.7L1738.5 1143.6L1740 1149.4L1741.5 1156.2L1743 1163.6L1744.5 1170.8L1746 1179.1L1747.5 1186.3L1749 1192.6L1750.5 1195.7L1752 1198.6L1753.5 1201.5L1755 1203.8L1756.5 1206.3L1758 1207.9L1759.5 1209.6L1761 1210L1762.5 1211L1764 1211.6L1765.5 1213.6L1767 1212.8L1768.5 1213.9L1770 1214.2L1771.5 1213.6L1773 1214.6L1774.5 1214.5L1776 1214.1L1777.5 1213.9L1779 1214.5L1780.5 1214.5L1782 1214.3L1783.5 1214.5L1785 1215.1L1786.5 1214.6L1788 1214.5L1789.5 1215L1791 1215.5L1792.5 1214.2L1794 1213.8L1795.5 1214.6L1797 1212.6L1798.5 1212.9L1800 1214.1L1802.5 1212.4L1805 1212.5L1807.5 1213.5L1810 1214.7L1812.5 1215.3L1815 1216.7L1817.5 1217.5L1820 1218.6L1822.5 1218.8L1825 1218.1L1827.5 1217.5L1830 1216.8L1832.5 1216.2L1835 1214.7L1837.5 1213.6L1840 1213.7L1842.5 1214.9L1845 1215.3L1847.5 1216.3L1850 1216.2L1852.5 1218.9L1855 1219.2L1857.5 1219.9L1860 1220L1862.5 1220.4L1865 1218.4L1867.5 1219L1870 1217L1872.5 1217.4L1875 1215.7L1877.5 1214.3L1880 1213.2L1882.5 1212.7L1885 1212.6L1887.5 1210.9L1890 1209.9L1892.5 1208.5L1895 1208.7L1897.5 1207L1900 1206.2L1902.5 1206.3L1905 1205.7L1907.5 1206.1L1910 1206.2L1912.5 1207.3L1915 1209.6L1917.5 1210.4L1920 1212.5L1922.5 1214.2L1925 1215.3L1927.5 1216.4L1930 1217.3L1932.5 1218.4L1935 1219.5L1936 1220"/>
<path d="M113 1214.1L114.4 1214.2L115.8 1211.8L117.2 1212.3L118.6 1210.1L120 1208.1L121.4 1204.2L122.8 1211.5L124.2 1207.5L125.6 1207.3L127 1203.7L128.4 1209.6L129.8 1202.4L131.2 1200.9L132.6 1201.2L134 1202.3L135.4 1205.7L136.8 1203.9L138.2 1203.5L139.6 1199.7L141 1203.7L142.4 1200.6L143.8 1203.6L145.2 1193.2L146.6 1197.3L148 1196L149.4 1196.3L150.8 1195.2L152.2 1199.9L153.6 1195.9L155 1191.1L156.4 1195.1L157.8 1193.7L159.2 1189L160.6 1196.6L162 1196.2L163.4 1195.1L164.8 1201.8L166.2 1187.4L167.6 1197.4L169 1195.3L170.4 1188.8L171.8 1200.1L173.2 1187L174.6 1193.9L176 1196L177.4 1190.6L178.8 1188.5L180.2 1197.3L181.6 1198.7L183 1188.8L184.4 1199.5L185.8 1193.6L187.2 1184.2L188.6 1196.4L190 1190.7L191.4 1188.6L192.8 1193.8L194.2 1196.4L195.6 1186.8L197 1188.3L198.4 1195.8L199.8 1196.6L201.2 1202.9L202.6 1192.4L204 1194.8L205.4 1188.7L206.8 1205.1L208.2 1195.4L209.6 1196.9L211 1201.9L212.4 1199.1L213.8 1191L215.2 1193.8L216.6 1202.1L218 1197.8L219.4 1193.6L220.8 1193.3L222.2 1202.2L223.6 1190.4L225 1195.9L226.4 1202.4L227.8 1201.9L229.2 1191.4L230.6 1196L232 1200.7L233.4 1197.8L234.8 1195.3L236.2 1193.5L237.6 1194.9L239 1197L240.4 1196.3L241.8 1204.6L243.2 1197.9L244.6 1199.7L246 1198.9L247.4 1194L248.8 1200L250.2 1192.4L251.6 1200.8L253 1198.6L254.4 1192.4L255.8 1205.3L257.2 1192.5L258.6 1198.9L260 1189.1L261.4 1195.5L262.8 1201.3L264.2 1191.1L265.6 1183.3L267 1189.4L268.4 1196.1L269.8 1192.7L271.2 1184.4L272.6 1189.8L274 1189.9L275.4 1181.9L276.8 1186.1L278.2 1190.7L279.6 1188.9L281 1188.5L282.4 1196.5L283.8 1183.6L285.2 1187.3L286.6 1194.4L288 1189.8L289.4 1182.9L290.8 1190.4L292.2 1178.5L293.6 1186.6L295 1190.8L296.4 1183.3L297.8 1190.3L299.2 1187L300.6 1185.2L302 1192.7L303.4 1184.6L304.8 1180.7L306.2 1173.4L307.6 1171.9L309 1172.9L310.4 1171.5L311.8 1170.1L313.2 1163.1L314.6 1161.2L316 1160L317.4 1152.5L318.8 1151.3L320.2 1149.7L321.6 1143.2L323 1139.8L324.4 1135L325.8 1130.7L327.2 1125.7L328.6 1120L330 1114.7L331.4 1109.6L332.8 1104.8L334.2 1098.2L335.6 1093.6L337 1085.6L338.4 1080.9L339.8 1074.9L341.2 1068L342.6 1061.5L344 1054.7L345.4 1047.7L346.8 1040L348.2 1032.2L349.6 1024.3L350 1022L354 998.6L358 973.9L362 948.2L366 921.9L370 895.8L374 869.7L378 843.6L382 817.6L386 791.3L390 763L394 736.4L398 712.1L402 689.9L406 670.8L410 654.1L414 639.6L418 626.7L422 615.6L426 607.1L430 600.1L434 595.4L438 592.6L442 590.8L446 590.5L450 591L454 593.8L458 597.9L462 602.8L466 609.9L470 618L474 626.1L478 634L482 642.3L486 651.2L490 660.9L494 671.6L498 683.4L502 695.8L506 708.6L510 721.9L514 735.8L518 750.2L522 764.9L526 780.1L530 796L534 811.8L538 827L542 841.3L546 855.2L550 868.7L554 881.7L558 894.2L562 906.1L566 917.8L570 929.5L574 941.7L578 954.1L582 966.4L586 978.4L590 990.1L594 1001.7L598 1012.8L602 1023L606 1031.9L610 1040L614 1047.4L618 1053.7L622 1059L626 1063.7L630 1067.5L634 1069.9L638 1071.5L640 1072.1L641 1072.3L642 1072.5L643 1072.7L644 1072.8L645 1072.9L646 1073L647 1072.5L648 1070.7L649 1068.3L650 1065.4L651 1062.2L652 1058.6L653 1054.8L654 1050.7L655 1046.4L656 1041.8L657 1036.5L658 1030.6L659 1024.2L660 1017.1L661 1009.5L662 1001.4L663 992L664 980.7L665 968.3L666 955.5L667 943L668 931.4L669 920.6L670 909.8L671 899.2L672 888.9L673 879L674 869.8L675 861.4L676 853.6L677 846.1L678 838.9L679 832.4L680 826.5L681 821.4L682 816.6L683 811.8L684 807.6L685 804.6L686 803.4L687 804.6L688 807.6L689 811.8L690 816.4L691 822.5L692 830.9L693 840.8L694 851.4L695 861.9L696 871.4L697 880.3L698 889.3L699 898.1L700 906.9L701 915.4L702 923.6L703 931.5L704 939.3L705 947.3L706 955L707 962.1L708 968.3L709 973.2L710 977.5L711 981.6L712 985.1L713 987.6L714 988.5L715 987.7L716 985.6L717 982.6L718 979.1L719 975.7L720 972.7L721 969.8L722 966.5L723 963.2L724 960.3L725 958.3L726 957.5L727 960.2L728 966.9L729 975.9L730 985.3L731 995.9L732 1008.7L733 1022.3L734 1035.1L735 1048.1L736 1061.2L737 1072L738 1078.8L739 1084.4L740 1089.5L741 1094.2L742 1098.5L743 1102.4L744 1105.9L745 1109.1L746 1111.9L747 1114.5L748 1116.8L749 1118.9L750 1120.8L751 1122.5L752 1124.2L753 1125.8L754 1127.3L755 1128.8L756 1130.2L757 1131.5L758 1132.8L759 1133.9L760 1135.1L761 1136.1L762 1137.1L767 1141.4L772 1144.4L777 1146.8L782 1148.8L787 1150.5L792 1151.9L797 1153.3L802 1154.6L807 1156L812 1157.6L817 1159.5L822 1161.8L827 1164.7L832 1168.1L837 1171.8L842 1175.6L847 1179.3L852 1182.7L857 1185.5L862 1188L867 1190.3L872 1192.5L877 1194.5L882 1196.4L887 1198.2L892 1199.8L897 1201.4L902 1202.9L907 1204.3L912 1205.6L917 1206.9L922 1208.1L927 1209.3L932 1210.4L937 1211.5L942 1212.6L947 1213.8L952 1215L957 1216.3L962 1217.6L967 1218.8L972 1219.8L977 1220.5L982 1220.8L984 1220.7L984.8 1220.7L985.6 1220.5L986.4 1220.4L987.2 1220.1L988 1219.9L988.8 1219.6L989.6 1219.2L990.4 1218L991.2 1213L992 1206.7L992.8 1202.7L993.6 1204.4L994.4 1210.8L995.2 1217.8L996 1221L996.8 1220.5L997.6 1219.3L998.4 1217.8L999.2 1216.5L1000 1216L1000.8 1216L1001.6 1216L1002.4 1215.9L1003.2 1215.9L1004 1215.9L1004.8 1215.9L1005.6 1215.8L1006 1215.8L1014 1215.7L1022 1215.5L1030 1215.4L1038 1215.3L1046 1215.2L1054 1215.1L1062 1215.1L1070 1215L1078 1215L1086 1215L1094 1215L1102 1215L1110 1215L1118 1215L1126 1215L1134 1215L1142 1215L1150 1215L1158 1215L1166 1215L1174 1215L1182 1215L1190 1215L1198 1215L1206 1215L1214 1215L1222 1215L1230 1215L1238 1215L1246 1214.9L1254 1214.8L1262 1214.6L1270 1214.4L1278 1214.1L1286 1213.7L1290 1213.5L1291.5 1213.4L1293 1213.3L1294.5 1213.2L1296 1213.1L1297.5 1212.7L1299 1210.6L1300.5 1207.3L1302 1202.2L1303.5 1196.8L1305 1189.9L1306.5 1184.1L1308 1178.9L1309.5 1173.6L1311 1169.5L1312.5 1165L1314 1160.1L1315.5 1156.1L1317 1151.5L1318.5 1148.1L1320 1143.9L1321.5 1141.2L1323 1138.4L1324.5 1136.5L1326 1133.3L1327.5 1131.7L1329 1129.3L1330.5 1128.6L1332 1126.5L1333.5 1124.9L1335 1123.3L1336.5 1122.2L1338 1121.1L1339.5 1119.8L1341 1119.6L1342.5 1118.4L1344 1118.9L1345.5 1119.9L1347 1123.4L1348.5 1127.9L1350 1130.9L1351.5 1131.4L1353 1134L1354.5 1132.6L1356 1130.6L1357.5 1129.2L1359 1126.5L1360.5 1123.5L1362 1120.5L1363.5 1118.3L1365 1114.4L1366.5 1111.3L1368 1108.6L1369.5 1104.1L1371 1100.5L1372.5 1099.8L1374 1098L1375.5 1096.3L1377 1096.6L1378.5 1095.4L1380 1094.2L1381.5 1094L1383 1092.9L1384.5 1093.8L1386 1092.8L1387.5 1093.2L1389 1094.5L1390.5 1094L1392 1093.1L1393.5 1093.7L1395 1094.5L1396.5 1094.1L1398 1094.4L1399.5 1094.4L1401 1094.1L1402.5 1095.4L1404 1094.3L1405.5 1095.4L1407 1094.8L1408.5 1097.2L1410 1098.4L1411.5 1099.6L1413 1101.2L1414.5 1103.2L1416 1104.3L1417.5 1108L1419 1111.8L1420.5 1115.5L1422 1118.8L1423.5 1121.6L1425 1126.3L1426.5 1132L1428 1138.3L1429.5 1142.5L1431 1148.2L1432.5 1154.2L1434 1159.6L1435.5 1164.5L1437 1169.9L1438.5 1175.2L1440 1180.9L1441.5 1185.3L1443 1189.9L1444.5 1194.6L1446 1198L1447.5 1201.2L1449 1205.1L1450.5 1206.7L1452 1209.5L1453.5 1210L1455 1211.2L1456.5 1212.2L1458 1211.6L1459.5 1212.7L1461 1212L1462.5 1206.5L1464 1196L1465.5 1184.8L1467 1173L1468.5 1158.4L1470 1141.3L1471.5 1124.8L1473 1114.2L1474.5 1105.1L1476 1098.2L1477.5 1091.2L1479 1086.2L1480.5 1084.4L1482 1083.4L1483.5 1080.5L1485 1079.6L1486.5 1078.7L1488 1077.2L1489.5 1077.2L1491 1076.5L1492.5 1078.1L1494 1077.5L1495.5 1079.2L1497 1079.9L1498.5 1081.8L1500 1083.2L1501.5 1084.8L1503 1088L1504.5 1091L1506 1095.6L1507.5 1099.7L1509 1103.6L1510.5 1108.4L1512 1113.3L1513.5 1119.2L1515 1125.9L1516.5 1130.3L1518 1136L1519.5 1140.6L1521 1144.5L1522.5 1147.1L1524 1150.3L1525.5 1153.7L1527 1156.4L1528.5 1158.2L1530 1159.8L1531.5 1161.8L1533 1162.8L1534.5 1165.2L1536 1165.1L1537.5 1167L1539 1168.5L1540.5 1168.8L1542 1169.4L1543.5 1170.5L1545 1171.6L1546.5 1172.7L1548 1172.8L1549.5 1173.6L1551 1174.3L1552.5 1174.6L1554 1175.3L1555.5 1175.9L1557 1176.5L1558.5 1176.5L1560 1177.3L1561.5 1178.1L1563 1180.1L1564.5 1180.1L1566 1180.9L1567.5 1182.6L1569 1183.6L1570.5 1184L1572 1185.7L1573.5 1185.9L1575 1186.2L1576.5 1188.2L1578 1190.5L1579.5 1191.5L1581 1193.6L1582.5 1194.1L1584 1195.1L1585.5 1197L1587 1197.4L1588.5 1196.7L1590 1196.6L1591.5 1195.5L1593 1192.2L1594.5 1188.8L1596 1186.8L1597.5 1185L1599 1183.5L1600.5 1183.1L1602 1182.4L1603.5 1182L1605 1181.4L1606.5 1181.2L1608 1181L1609.5 1180.6L1611 1180.2L1612.5 1179.6L1614 1179.9L1615.5 1179.8L1617 1181L1618.5 1179.3L1620 1179.5L1621.5 1179.9L1623 1180.4L1624.5 1180L1626 1181.9L1627.5 1185.7L1629 1193.7L1630.5 1196.2L1632 1192.7L1633.5 1184.6L1635 1174.4L1636.5 1161.8L1638 1151.1L1639.5 1140.6L1641 1130.5L1642.5 1119.2L1644 1109.4L1645.5 1100.8L1647 1093.4L1648.5 1087.6L1650 1082.9L1651.5 1079.3L1653 1075.5L1654.5 1072.6L1656 1070.5L1657.5 1068.6L1659 1066.9L1660.5 1065.3L1662 1062.9L1663.5 1061.8L1665 1059.3L1666.5 1059.1L1668 1058.6L1669.5 1056.5L1671 1055.4L1672.5 1053.6L1674 1051.9L1675.5 1051L1677 1047.5L1678.5 1045.9L1680 1044.7L1681.5 1041.6L1683 1040.1L1684.5 1035.7L1686 1031.4L1687.5 1026.6L1689 1023.8L1690.5 1022.1L1692 1021.4L1693.5 1022.9L1695 1024.6L1696.5 1027.4L1698 1029.9L1699.5 1031.6L1701 1035.6L1702.5 1040.4L1704 1046L1705.5 1053.3L1707 1062L1708.5 1067.7L1710 1074.2L1711.5 1080.5L1713 1086.2L1714.5 1091.6L1716 1097.7L1717.5 1102.5L1719 1108.2L1720.5 1110.5L1722 1114.6L1723.5 1115.6L1725 1117.2L1726.5 1119.3L1728 1121.8L1729.5 1122.9L1731 1125.6L1732.5 1127.8L1734 1130.8L1735.5 1134.5L1737 1140.1L1738.5 1145.2L1740 1150.5L1741.5 1156.7L1743 1164.2L1744.5 1171.9L1746 1180.2L1747.5 1187.8L1749 1192.8L1750.5 1196.6L1752 1199.6L1753.5 1202.2L1755 1204.2L1756.5 1206L1758 1207.8L1759.5 1208.9L1761 1210.7L1762.5 1210.6L1764 1211.9L1765.5 1212.2L1767 1212.8L1768.5 1213.9L1770 1214L1771.5 1214.6L1773 1213.9L1774.5 1214.3L1776 1214.7L1777.5 1215.2L1779 1215.2L1780.5 1215.7L1782 1214.7L1783.5 1215.2L1785 1215.1L1786.5 1216.2L1788 1214.8L1789.5 1215.1L1791 1215.9L1792.5 1214.8L1794 1214.1L1795.5 1215.1L1797 1214.4L1798.5 1213.3L1800 1212.8L1802.5 1212.9L1805 1212.9L1807.5 1213.7L1810 1215.3L1812.5 1215.7L1815 1217.1L1817.5 1217.9L1820 1219.3L1822.5 1219.1L1825 1219.4L1827.5 1217.6L1830 1216.9L1832.5 1216L1835 1215.2L1837.5 1214.3L1840 1215.1L1842.5 1214.2L1845 1215L1847.5 1215.6L1850 1217.1L1852.5 1219.5L1855 1219.6L1857.5 1219.8L1860 1220.9L1862.5 1220.1L1865 1220L1867.5 1218.5L1870 1217.8L1872.5 1218.6L1875 1216L1877.5 1215.1L1880 1214.4L1882.5 1213.8L1885 1212.3L1887.5 1211.2L1890 1210.7L1892.5 1210.3L1895 1208.9L1897.5 1208.9L1900 1207.1L1902.5 1207.2L1905 1206.9L1907.5 1206.7L1910 1209.9L1912.5 1209.1L1915 1211.3L1917.5 1211.9L1920 1212.5L1922.5 1214.9L1925 1215.8L1927.5 1217.5L1930 1217.7L1932.5 1218.9L1935 1220L1936 1220.5"/>
<path d="M113 1215.6L114.4 1214.1L115.8 1214.1L117.2 1214.4L118.6 1212.1L120 1212.5L121.4 1209.5L122.8 1210.3L124.2 1204.9L125.6 1208.1L127 1206.1L128.4 1203.6L129.8 1209.5L131.2 1205.9L132.6 1206.3L134 1201.2L135.4 1204.8L136.8 1209.2L138.2 1204.8L139.6 1198.9L141 1204.1L142.4 1202.1L143.8 1199.1L145.2 1198.1L146.6 1200.9L148 1192.6L149.4 1208.2L150.8 1205.3L152.2 1200.9L153.6 1201.4L155 1203.1L156.4 1192.2L157.8 1199.1L159.2 1199.6L160.6 1200L162 1192L163.4 1196L164.8 1199.2L166.2 1198.5L167.6 1203.9L169 1186.6L170.4 1195.1L171.8 1193.3L173.2 1195.7L174.6 1194.4L176 1190.4L177.4 1195L178.8 1186.3L180.2 1187.3L181.6 1187.1L183 1194L184.4 1197.2L185.8 1199.8L187.2 1184.4L188.6 1190.8L190 1199.4L191.4 1192.5L192.8 1200.8L194.2 1201.4L195.6 1189.4L197 1189.9L198.4 1193.4L199.8 1188.7L201.2 1193.1L202.6 1191.9L204 1204.3L205.4 1194.2L206.8 1191L208.2 1194.8L209.6 1196.4L211 1183.6L212.4 1189.6L213.8 1188.3L215.2 1195.2L216.6 1199.1L218 1192L219.4 1188.5L220.8 1200.7L222.2 1194.9L223.6 1196.9L225 1200L226.4 1202.1L227.8 1194.8L229.2 1192.4L230.6 1191.4L232 1192.6L233.4 1197.8L234.8 1210.4L236.2 1199.4L237.6 1194L239 1194.5L240.4 1194.9L241.8 1178.9L243.2 1196.5L244.6 1198.3L246 1197.2L247.4 1186.3L248.8 1196.1L250.2 1192.5L251.6 1194.2L253 1186.5L254.4 1199.4L255.8 1193.9L257.2 1181.7L258.6 1194L260 1198.5L261.4 1210.6L262.8 1190.1L264.2 1213.9L265.6 1189.4L267 1199.6L268.4 1198L269.8 1192.8L271.2 1187.8L272.6 1188.1L274 1198.7L275.4 1200.4L276.8 1191.4L278.2 1191.3L279.6 1188.8L281 1192.1L282.4 1189L283.8 1195.8L285.2 1194.6L286.6 1192.4L288 1185.8L289.4 1183.6L290.8 1187.3L292.2 1194.9L293.6 1192.5L295 1188.9L296.4 1192.9L297.8 1191.7L299.2 1186.2L300.6 1194.3L302 1191.8L303.4 1182.9L304.8 1184.2L306.2 1186.1L307.6 1186.6L309 1183.7L310.4 1175.6L311.8 1172.7L313.2 1176.3L314.6 1166.6L316 1168.1L317.4 1163.7L318.8 1162.2L320.2 1155.3L321.6 1152.1L323 1148.9L324.4 1149.1L325.8 1144.5L327.2 1139.6L328.6 1131.3L330 1127.1L331.4 1123.7L332.8 1117.7L334.2 1112.1L335.6 1107.7L337 1101.4L338.4 1097.1L339.8 1090.2L341.2 1083.9L342.6 1077.6L344 1071.4L345.4 1064.7L346.8 1057.3L348.2 1049.6L349.6 1041.8L350 1039.5L354 1016.3L358 991.9L362 966.2L366 939.5L370 912.7L374 885.9L378 859.2L382 832.4L386 805.8L390 777.7L394 749.1L398 723.6L402 699.8L406 679.2L410 661.4L414 645.9L418 632.3L422 620.3L426 611.1L430 603.7L434 598.4L438 595.4L442 593.4L446 593L450 593.5L454 596.5L458 600.8L462 606.1L466 613.5L470 622.2L474 630.7L478 639.1L482 647.8L486 657.2L490 667.3L494 678.6L498 691L502 704L506 717.3L510 731.2L514 745.7L518 760.7L522 775.9L526 791.6L530 807.9L534 824.1L538 839.7L542 854.4L546 868.5L550 882.1L554 895.3L558 907.9L562 919.8L566 931.4L570 943.1L574 955.1L578 967.2L582 979.3L586 991L590 1002.2L594 1013.3L598 1023.8L602 1033.4L606 1041.7L610 1049.2L614 1055.9L618 1061.6L622 1066.3L626 1070.3L630 1073.5L634 1075.6L638 1076.8L640 1077.3L641 1077.5L642 1077.6L643 1077.8L644 1077.9L645 1077.9L646 1078L647 1078L648 1075.4L649 1072.4L650 1069L651 1065.2L652 1061.2L653 1056.9L654 1052.4L655 1047.6L656 1042.6L657 1037.2L658 1031.4L659 1025L660 1018.1L661 1010.7L662 1002.6L663 993.2L664 981.9L665 969.5L666 956.7L667 944.2L668 932.6L669 921.8L670 911L671 900.4L672 890.1L673 880.2L674 871L675 862.6L676 854.8L677 847.3L678 840.1L679 833.6L680 827.7L681 822.6L682 817.8L683 813L684 808.8L685 805.8L686 804.6L687 805.8L688 808.8L689 813L690 817.6L691 823.7L692 832.1L693 842L694 852.6L695 863L696 872.6L697 881.6L698 890.5L699 899.4L700 908.1L701 916.6L702 924.9L703 932.7L704 940.5L705 948.4L706 956.1L707 963.2L708 969.4L709 974.3L710 978.5L711 982.6L712 986L713 988.4L714 989.4L715 988.5L716 986.4L717 983.3L718 979.8L719 976.4L720 973.4L721 970.4L722 967L723 963.7L724 960.7L725 958.7L726 957.9L727 960.5L728 967.3L729 976.2L730 985.6L731 996.1L732 1008.8L733 1022.3L734 1035.2L735 1048.4L736 1061.8L737 1072.8L738 1079.6L739 1085.2L740 1090.4L741 1095.1L742 1099.3L743 1103.2L744 1106.7L745 1109.9L746 1112.8L747 1115.3L748 1117.6L749 1119.7L750 1121.6L751 1123.3L752 1125L753 1126.6L754 1128.1L755 1129.6L756 1131L757 1132.3L758 1133.6L759 1134.7L760 1135.9L761 1136.9L762 1137.9L767 1142.2L772 1145.2L777 1147.6L782 1149.6L787 1151.3L792 1152.7L797 1154.1L802 1155.4L807 1156.8L812 1158.4L817 1160.3L822 1162.6L827 1165.5L832 1168.9L837 1172.6L842 1176.4L847 1180.1L852 1183.5L857 1186.3L862 1188.8L867 1191.1L872 1193.3L877 1195.3L882 1197.2L887 1199L892 1200.6L897 1202.2L902 1203.7L907 1205.1L912 1206.4L917 1207.7L922 1208.9L927 1210.1L932 1211.2L937 1212.3L942 1213.4L947 1214.6L952 1215.8L957 1217.1L962 1218.4L967 1219.6L972 1220.6L977 1221.3L982 1221.6L984 1221.5L984.8 1221.4L985.6 1221.2L986.4 1220.9L987.2 1220.6L988 1220.3L988.8 1219.8L989.6 1219.3L990.4 1218L991.2 1212.9L992 1206.6L992.8 1202.7L993.6 1204.4L994.4 1210.8L995.2 1217.8L996 1221L996.8 1220.5L997.6 1219.3L998.4 1217.8L999.2 1216.5L1000 1216L1000.8 1216L1001.6 1216L1002.4 1215.9L1003.2 1215.9L1004 1215.9L1004.8 1215.9L1005.6 1215.8L1006 1215.8L1014 1215.7L1022 1215.5L1030 1215.4L1038 1215.3L1046 1215.2L1054 1215.1L1062 1215.1L1070 1215L1078 1215L1086 1215L1094 1215L1102 1215L1110 1215L1118 1215L1126 1215L1134 1215L1142 1215L1150 1215L1158 1215L1166 1215L1174 1215L1182 1215L1190 1215L1198 1215L1206 1215L1214 1215L1222 1215L1230 1215L1238 1215L1246 1214.9L1254 1214.8L1262 1214.6L1270 1214.4L1278 1214.1L1286 1213.7L1290 1213.5L1291.5 1213.4L1293 1213.3L1294.5 1213.2L1296 1213.1L1297.5 1212.7L1299 1210.7L1300.5 1206.9L1302 1202.7L1303.5 1197.6L1305 1191.3L1306.5 1185.8L1308 1179.4L1309.5 1174.2L1311 1168.3L1312.5 1165L1314 1161.3L1315.5 1156.1L1317 1152.4L1318.5 1148.9L1320 1145.4L1321.5 1141.8L1323 1139L1324.5 1136.9L1326 1133.6L1327.5 1132.7L1329 1130.4L1330.5 1128.9L1332 1126.9L1333.5 1125.2L1335 1124.6L1336.5 1123.7L1338 1122.3L1339.5 1120.3L1341 1119.6L1342.5 1119L1344 1120L1345.5 1122.1L1347 1124.8L1348.5 1128.1L1350 1131.7L1351.5 1133.2L1353 1134.1L1354.5 1134L1356 1131.4L1357.5 1129.2L1359 1127L1360.5 1124.9L1362 1120.8L1363.5 1118.6L1365 1115.2L1366.5 1112.4L1368 1108.7L1369.5 1105.2L1371 1102.1L1372.5 1099.9L1374 1098.3L1375.5 1097.5L1377 1097.2L1378.5 1095L1380 1096.2L1381.5 1094.6L1383 1095.1L1384.5 1095.6L1386 1093.7L1387.5 1094.3L1389 1094.6L1390.5 1095.1L1392 1095.7L1393.5 1096.1L1395 1094.9L1396.5 1096.1L1398 1095.5L1399.5 1095.6L1401 1096.3L1402.5 1095.7L1404 1095.7L1405.5 1097.3L1407 1097.7L1408.5 1098.5L1410 1099.8L1411.5 1100L1413 1102.6L1414.5 1104.9L1416 1106.3L1417.5 1109.4L1419 1112.4L1420.5 1116.3L1422 1119.7L1423.5 1122.2L1425 1127.9L1426.5 1133L1428 1137L1429.5 1143.3L1431 1149.5L1432.5 1155.1L1434 1159.4L1435.5 1166.4L1437 1171L1438.5 1176.4L1440 1181.8L1441.5 1186.6L1443 1190.9L1444.5 1193.9L1446 1198.4L1447.5 1201.9L1449 1206.2L1450.5 1207.7L1452 1209.3L1453.5 1210.1L1455 1211.2L1456.5 1211.7L1458 1211.6L1459.5 1211.9L1461 1212L1462.5 1206.6L1464 1197.7L1465.5 1185.6L1467 1173.5L1468.5 1159.4L1470 1142L1471.5 1125.8L1473 1113.8L1474.5 1106.4L1476 1099.1L1477.5 1093.1L1479 1086.8L1480.5 1084.7L1482 1083.5L1483.5 1082L1485 1079.9L1486.5 1079.9L1488 1079.1L1489.5 1079.3L1491 1078.3L1492.5 1079.8L1494 1079.3L1495.5 1081.5L1497 1081.8L1498.5 1083.6L1500 1084.5L1501.5 1085.9L1503 1089.6L1504.5 1092.3L1506 1097L1507.5 1099.8L1509 1104.8L1510.5 1109.6L1512 1115L1513.5 1119.6L1515 1126.6L1516.5 1131.4L1518 1137.4L1519.5 1140.8L1521 1144.9L1522.5 1148.7L1524 1151.9L1525.5 1153.9L1527 1157.5L1528.5 1158.2L1530 1160.7L1531.5 1163.8L1533 1164.1L1534.5 1165.2L1536 1166.8L1537.5 1167.1L1539 1168.9L1540.5 1168.8L1542 1169.9L1543.5 1171.7L1545 1172.4L1546.5 1172.6L1548 1172.8L1549.5 1173.8L1551 1174.1L1552.5 1175.7L1554 1176.6L1555.5 1175.7L1557 1176.9L1558.5 1177.5L1560 1178.3L1561.5 1179L1563 1180.1L1564.5 1179.5L1566 1181.3L1567.5 1182.2L1569 1183.3L1570.5 1183.9L1572 1185.3L1573.5 1186.4L1575 1187.9L1576.5 1189L1578 1189.7L1579.5 1191.2L1581 1192.6L1582.5 1194.5L1584 1195.8L1585.5 1196.9L1587 1198.6L1588.5 1197.9L1590 1197.1L1591.5 1195L1593 1192.7L1594.5 1190.5L1596 1188.6L1597.5 1188.1L1599 1186.7L1600.5 1186.4L1602 1185.7L1603.5 1186.8L1605 1187.1L1606.5 1186.3L1608 1186L1609.5 1185.8L1611 1186.2L1612.5 1185.1L1614 1186.7L1615.5 1186.1L1617 1186.8L1618.5 1187.6L1620 1186.2L1621.5 1187.1L1623 1187.3L1624.5 1187.9L1626 1189.6L1627.5 1192.1L1629 1195.7L1630.5 1197.5L1632 1193.8L1633.5 1185.6L1635 1174.4L1636.5 1162.9L1638 1150.9L1639.5 1141.8L1641 1130.9L1642.5 1120.1L1644 1111.6L1645.5 1101.8L1647 1094.5L1648.5 1089.1L1650 1085.4L1651.5 1081.5L1653 1078.9L1654.5 1076.5L1656 1073.2L1657.5 1070.8L1659 1069.2L1660.5 1067.5L1662 1065.4L1663.5 1063.7L1665 1063.1L1666.5 1061.7L1668 1060.3L1669.5 1058.7L1671 1057.5L1672.5 1055.8L1674 1053.7L1675.5 1052.4L1677 1050.2L1678.5 1048.6L1680 1046.3L1681.5 1044.3L1683 1040.8L1684.5 1038L1686 1032.7L1687.5 1029.6L1689 1025.3L1690.5 1024.1L1692 1024.2L1693.5 1025.5L1695 1027.1L1696.5 1029L1698 1030.9L1699.5 1033.9L1701 1037.3L1702.5 1042L1704 1047.5L1705.5 1054.3L1707 1062L1708.5 1069L1710 1076.1L1711.5 1080.7L1713 1087L1714.5 1094.3L1716 1099.1L1717.5 1105.2L1719 1108.1L1720.5 1112.7L1722 1114.9L1723.5 1117.7L1725 1119.5L1726.5 1120L1728 1121.7L1729.5 1123.6L1731 1126.9L1732.5 1128.6L1734 1131L1735.5 1134.9L1737 1140.7L1738.5 1146L1740 1151.2L1741.5 1157.5L1743 1163.7L1744.5 1172.3L1746 1180.2L1747.5 1187.3L1749 1192.4L1750.5 1196.6L1752 1199.2L1753.5 1201L1755 1203.3L1756.5 1206.8L1758 1207L1759.5 1209.7L1761 1210L1762.5 1211.5L1764 1212.6L1765.5 1214.2L1767 1213.1L1768.5 1214.4L1770 1214.1L1771.5 1212.8L1773 1213.3L1774.5 1214.9L1776 1215.5L1777.5 1215L1779 1215.3L1780.5 1215.1L1782 1215.3L1783.5 1216.3L1785 1215.8L1786.5 1215.6L1788 1216.2L1789.5 1215.7L1791 1216.1L1792.5 1215.5L1794 1215.6L1795.5 1214.9L1797 1213.7L1798.5 1214.6L1800 1214.1L1802.5 1213.5L1805 1213.5L1807.5 1215L1810 1215.1L1812.5 1216.8L1815 1218L1817.5 1219L1820 1219.4L1822.5 1219.5L1825 1220.3L1827.5 1218.3L1830 1216.9L1832.5 1216L1835 1215.7L1837.5 1214.6L1840 1215L1842.5 1215.5L1845 1214.9L1847.5 1215.9L1850 1217.7L1852.5 1219.1L1855 1219.4L1857.5 1220.5L1860 1220.1L1862.5 1221.1L1865 1220.9L1867.5 1219.6L1870 1218.7L1872.5 1217.8L1875 1217L1877.5 1216L1880 1215L1882.5 1214.4L1885 1212.6L1887.5 1212.7L1890 1211.3L1892.5 1211.1L1895 1210.3L1897.5 1209.7L1900 1209.5L1902.5 1209L1905 1208.7L1907.5 1209.9L1910 1209.6L1912.5 1210.6L1915 1211.3L1917.5 1212.3L1920 1213L1922.5 1215L1925 1216L1927.5 1217.4L1930 1218.2L1932.5 1219.3L1935 1220.5L1936 1221"/>
<path d="M113 1215.3L114.4 1214.2L115.8 1213.1L117.2 1214.2L118.6 1212.7L120 1213.6L121.4 1206.5L122.8 1206.7L124.2 1209.4L125.6 1209.1L127 1210.9L128.4 1207.1L129.8 1208.2L131.2 1209.3L132.6 1200.1L134 1205.1L135.4 1203.5L136.8 1201.4L138.2 1202.3L139.6 1202.7L141 1208.9L142.4 1199.4L143.8 1200.6L145.2 1204.8L146.6 1209.3L148 1196.1L149.4 1202.4L150.8 1197.5L152.2 1205.4L153.6 1202.2L155 1200.4L156.4 1203.2L157.8 1199.2L159.2 1197.8L160.6 1199.7L162 1190.5L163.4 1196.9L164.8 1201.6L166.2 1183.9L167.6 1187.8L169 1202.9L170.4 1198.6L171.8 1195.5L173.2 1198.2L174.6 1193.8L176 1201.7L177.4 1188.5L178.8 1202.8L180.2 1193.4L181.6 1189.4L183 1197.8L184.4 1191.2L185.8 1204.1L187.2 1190.7L188.6 1185.6L190 1180.5L191.4 1194.5L192.8 1206.9L194.2 1198L195.6 1193.2L197 1172.1L198.4 1185.4L199.8 1196.5L201.2 1186.2L202.6 1194.2L204 1194.5L205.4 1198.3L206.8 1191.7L208.2 1199.2L209.6 1202.2L211 1195.5L212.4 1199.8L213.8 1195.9L215.2 1194.2L216.6 1198.5L218 1196L219.4 1193.7L220.8 1195.4L222.2 1196.7L223.6 1202.9L225 1204.6L226.4 1189.7L227.8 1188.8L229.2 1188.7L230.6 1203.6L232 1191.9L233.4 1192.2L234.8 1188.2L236.2 1193.7L237.6 1196.3L239 1202.7L240.4 1207L241.8 1197.8L243.2 1199.7L244.6 1200.3L246 1198L247.4 1199.5L248.8 1188.4L250.2 1200L251.6 1200.9L253 1188.5L254.4 1191.4L255.8 1197.7L257.2 1198.4L258.6 1199.2L260 1215L261.4 1199.7L262.8 1214.8L264.2 1193.6L265.6 1190.4L267 1187.7L268.4 1199.2L269.8 1202.1L271.2 1190.4L272.6 1194.3L274 1187.2L275.4 1201.9L276.8 1194.5L278.2 1197.9L279.6 1188.5L281 1193.8L282.4 1197.9L283.8 1193.1L285.2 1184.5L286.6 1187.6L288 1189.4L289.4 1192.8L290.8 1191.8L292.2 1194.3L293.6 1190L295 1185.4L296.4 1194.4L297.8 1191.9L299.2 1184.6L300.6 1189.9L302 1186.1L303.4 1197.5L304.8 1187.9L306.2 1187.4L307.6 1188.7L309 1180.6L310.4 1184.4L311.8 1180.5L313.2 1179.9L314.6 1173.4L316 1175.3L317.4 1168.4L318.8 1168.8L320.2 1166.3L321.6 1163.4L323 1160.6L324.4 1153.5L325.8 1154.4L327.2 1148L328.6 1144.2L330 1140.7L331.4 1136.7L332.8 1130.1L334.2 1125.9L335.6 1121.3L337 1116.9L338.4 1111.3L339.8 1106.5L341.2 1100.4L342.6 1094.5L344 1088.7L345.4 1082.6L346.8 1075.8L348.2 1068.7L349.6 1061.4L350 1059.3L354 1037.5L358 1014.7L362 990.5L366 965.3L370 939.5L374 913.8L378 888.2L382 862.5L386 837L390 810.8L394 782.9L398 757.7L402 734.3L406 713.7L410 696.1L414 680.7L418 667.4L422 655.5L426 646.3L430 639L434 633.6L438 630.5L442 628.5L446 628L450 628.6L454 632L458 636.8L462 642.7L466 651.1L470 660.8L474 670.3L478 679.6L482 689.3L486 699.6L490 710.8L494 723.1L498 736.5L502 750.6L506 764.9L510 779.7L514 795.1L518 810.8L522 826.7L526 842.9L530 859.6L534 876L538 891.6L542 906.1L546 920L550 933.2L554 945.7L558 957.6L562 968.7L566 979.4L570 989.9L574 1000.6L578 1011.2L582 1021.5L586 1031.4L590 1040.6L594 1049.4L598 1057.7L602 1064.9L606 1070.9L610 1076.2L614 1080.6L618 1084.3L622 1087.1L626 1089.4L630 1091.1L634 1092.1L638 1092.6L640 1092.8L641 1092.8L642 1092.9L643 1092.9L644 1093L645 1093L646 1093L647 1093L648 1089.5L649 1084.5L650 1079.2L651 1073.9L652 1068.4L653 1062.8L654 1057.1L655 1051.2L656 1045.4L657 1039.7L658 1033.9L659 1027.8L660 1021.3L661 1014.1L662 1006.2L663 996.8L664 985.5L665 973.1L666 960.3L667 947.8L668 936.2L669 925.4L670 914.6L671 904L672 893.7L673 883.8L674 874.6L675 866.2L676 858.4L677 850.9L678 843.7L679 837.2L680 831.3L681 826.2L682 821.4L683 816.6L684 812.4L685 809.4L686 808.2L687 809.4L688 812.4L689 816.6L690 821.2L691 827.3L692 835.7L693 845.6L694 856.2L695 866.6L696 876.2L697 885.2L698 894.2L699 903.1L700 911.9L701 920.4L702 928.7L703 936.5L704 944.2L705 952L706 959.6L707 966.5L708 972.6L709 977.3L710 981.4L711 985.3L712 988.7L713 991L714 991.9L715 991L716 988.8L717 985.6L718 982L719 978.4L720 975.2L721 972.1L722 968.6L723 965.1L724 962.1L725 959.9L726 959.1L727 961.7L728 968.3L729 977.1L730 986.3L731 996.7L732 1009.3L733 1022.7L734 1035.6L735 1048.8L736 1062.4L737 1073.6L738 1080.4L739 1086.1L740 1091.2L741 1095.9L742 1100.2L743 1104.1L744 1107.6L745 1110.7L746 1113.6L747 1116.1L748 1118.4L749 1120.5L750 1122.4L751 1124.1L752 1125.8L753 1127.4L754 1128.9L755 1130.4L756 1131.8L757 1133.1L758 1134.4L759 1135.5L760 1136.7L761 1137.7L762 1138.7L767 1143L772 1146L777 1148.4L782 1150.4L787 1152.1L792 1153.5L797 1154.9L802 1156.2L807 1157.6L812 1159.2L817 1161.1L822 1163.4L827 1166.3L832 1169.7L837 1173.4L842 1177.2L847 1180.9L852 1184.3L857 1187.1L862 1189.6L867 1191.9L872 1194.1L877 1196.1L882 1198L887 1199.8L892 1201.4L897 1203L902 1204.5L907 1205.9L912 1207.2L917 1208.5L922 1209.7L927 1210.9L932 1212L937 1213.1L942 1214.2L947 1215.4L952 1216.6L957 1217.9L962 1219.2L967 1220.4L972 1221.4L977 1222.1L982 1222.4L984 1222.3L984.8 1222.1L985.6 1221.9L986.4 1221.5L987.2 1221.1L988 1220.6L988.8 1220L989.6 1219.4L990.4 1217.9L991.2 1212.8L992 1206.6L992.8 1202.7L993.6 1204.4L994.4 1210.8L995.2 1217.8L996 1221L996.8 1220.5L997.6 1219.3L998.4 1217.8L999.2 1216.5L1000 1216L1000.8 1216L1001.6 1216L1002.4 1215.9L1003.2 1215.9L1004 1215.9L1004.8 1215.9L1005.6 1215.8L1006 1215.8L1014 1215.7L1022 1215.5L1030 1215.4L1038 1215.3L1046 1215.2L1054 1215.1L1062 1215.1L1070 1215L1078 1215L1086 1215L1094 1215L1102 1215L1110 1215L1118 1215L1126 1215L1134 1215L1142 1215L1150 1215L1158 1215L1166 1215L1174 1215L1182 1215L1190 1215L1198 1215L1206 1215L1214 1215L1222 1215L1230 1215L1238 1215L1246 1214.9L1254 1214.8L1262 1214.7L1270 1214.4L1278 1214.1L1286 1213.7L1290 1213.5L1291.5 1213.4L1293 1213.3L1294.5 1213.2L1296 1213.1L1297.5 1212.7L1299 1210.7L1300.5 1207L1302 1201.8L1303.5 1197.3L1305 1191.4L1306.5 1185.3L1308 1179.3L1309.5 1173.8L1311 1169.7L1312.5 1165L1314 1162.2L1315.5 1156.9L1317 1153.7L1318.5 1149.2L1320 1146.3L1321.5 1142.2L1323 1139.1L1324.5 1137.2L1326 1135.4L1327.5 1133L1329 1131L1330.5 1130.6L1332 1129L1333.5 1126.7L1335 1126.1L1336.5 1123.4L1338 1123.2L1339.5 1122.8L1341 1121.8L1342.5 1120.8L1344 1122.1L1345.5 1122.8L1347 1126.2L1348.5 1128.6L1350 1130.8L1351.5 1134.6L1353 1135L1354.5 1134.4L1356 1133.2L1357.5 1131L1359 1127.4L1360.5 1125.1L1362 1121.9L1363.5 1119.4L1365 1117L1366.5 1113.1L1368 1109L1369.5 1106.4L1371 1103.5L1372.5 1101.5L1374 1100.7L1375.5 1099.2L1377 1098L1378.5 1097.3L1380 1096.3L1381.5 1097L1383 1096.5L1384.5 1095.4L1386 1096.2L1387.5 1096.8L1389 1095.6L1390.5 1096.2L1392 1097.2L1393.5 1096.7L1395 1097L1396.5 1096.3L1398 1097.5L1399.5 1097.2L1401 1097.7L1402.5 1096.9L1404 1097.3L1405.5 1097.6L1407 1098.9L1408.5 1099.3L1410 1100.9L1411.5 1102.8L1413 1103.8L1414.5 1104.9L1416 1107.7L1417.5 1109.8L1419 1113.7L1420.5 1116.3L1422 1120.7L1423.5 1124.6L1425 1127.9L1426.5 1133.8L1428 1139.3L1429.5 1144.9L1431 1150.4L1432.5 1155.4L1434 1160.6L1435.5 1165.5L1437 1172.1L1438.5 1176.8L1440 1182.4L1441.5 1187L1443 1190.8L1444.5 1194.1L1446 1198.6L1447.5 1201.9L1449 1204.6L1450.5 1208.3L1452 1209.6L1453.5 1210.3L1455 1211L1456.5 1212.4L1458 1212.1L1459.5 1212.4L1461 1211.4L1462.5 1206.8L1464 1196.9L1465.5 1185.9L1467 1174.5L1468.5 1160.1L1470 1142.3L1471.5 1127.3L1473 1116.3L1474.5 1107.4L1476 1100.1L1477.5 1093.9L1479 1088.7L1480.5 1086.4L1482 1084.9L1483.5 1083.6L1485 1082.4L1486.5 1081.4L1488 1080.5L1489.5 1081.2L1491 1080.8L1492.5 1080.9L1494 1081.3L1495.5 1082.8L1497 1082.9L1498.5 1085L1500 1086.4L1501.5 1087.8L1503 1089.7L1504.5 1093.1L1506 1099.2L1507.5 1101L1509 1106.8L1510.5 1110.7L1512 1115.3L1513.5 1121L1515 1128.1L1516.5 1132.6L1518 1138.2L1519.5 1141.8L1521 1145.6L1522.5 1149.6L1524 1152L1525.5 1154.6L1527 1155.7L1528.5 1159.1L1530 1160.9L1531.5 1163L1533 1164.2L1534.5 1164.8L1536 1166L1537.5 1168.4L1539 1168.4L1540.5 1169.3L1542 1170.3L1543.5 1171.4L1545 1172.6L1546.5 1173.1L1548 1173.4L1549.5 1174.1L1551 1174.5L1552.5 1175.3L1554 1175.6L1555.5 1176.5L1557 1176.6L1558.5 1177.5L1560 1178.5L1561.5 1178.8L1563 1179.8L1564.5 1181.1L1566 1181.7L1567.5 1182.7L1569 1183.7L1570.5 1184.9L1572 1184.7L1573.5 1187.1L1575 1187.9L1576.5 1189.9L1578 1189.8L1579.5 1192.5L1581 1193.4L1582.5 1194.9L1584 1196.4L1585.5 1197.3L1587 1197.3L1588.5 1198.1L1590 1197.2L1591.5 1194.7L1593 1193.3L1594.5 1190.9L1596 1189.3L1597.5 1188.3L1599 1188.1L1600.5 1188.9L1602 1188.4L1603.5 1188L1605 1189.3L1606.5 1188.5L1608 1189.6L1609.5 1189.8L1611 1189.2L1612.5 1189.7L1614 1191.7L1615.5 1190.7L1617 1190.3L1618.5 1191.2L1620 1191.8L1621.5 1192.8L1623 1192.1L1624.5 1193.3L1626 1193.9L1627.5 1194.9L1629 1197.2L1630.5 1197.4L1632 1193.2L1633.5 1185.7L1635 1174.1L1636.5 1162.3L1638 1152.1L1639.5 1141.3L1641 1132L1642.5 1121.8L1644 1111.3L1645.5 1102.1L1647 1096.4L1648.5 1091.3L1650 1086.3L1651.5 1083.3L1653 1080.2L1654.5 1077.9L1656 1075.1L1657.5 1073.7L1659 1071.5L1660.5 1070.1L1662 1068.1L1663.5 1067.4L1665 1064.8L1666.5 1064.3L1668 1062.9L1669.5 1061.2L1671 1060L1672.5 1058L1674 1055.8L1675.5 1054.4L1677 1053L1678.5 1049.6L1680 1049.1L1681.5 1045.4L1683 1043.7L1684.5 1039.4L1686 1035.6L1687.5 1030.4L1689 1027.3L1690.5 1025.9L1692 1026.2L1693.5 1027.5L1695 1028.9L1696.5 1030.8L1698 1034L1699.5 1035.9L1701 1039L1702.5 1043.7L1704 1049L1705.5 1056.1L1707 1063.6L1708.5 1070.8L1710 1077.2L1711.5 1082.8L1713 1088.9L1714.5 1094.9L1716 1099.5L1717.5 1104.9L1719 1109.6L1720.5 1113.2L1722 1116.1L1723.5 1118.1L1725 1119.5L1726.5 1120.9L1728 1123.1L1729.5 1124.4L1731 1126.3L1732.5 1129.5L1734 1132L1735.5 1136.2L1737 1141.3L1738.5 1145.5L1740 1153.2L1741.5 1158.5L1743 1165.8L1744.5 1172.5L1746 1180.4L1747.5 1187.7L1749 1193L1750.5 1196.8L1752 1199.4L1753.5 1201.8L1755 1205.1L1756.5 1206.7L1758 1208.2L1759.5 1209.2L1761 1211.4L1762.5 1211.1L1764 1211.1L1765.5 1212.8L1767 1212.1L1768.5 1214.1L1770 1213.6L1771.5 1214.2L1773 1214.5L1774.5 1214.7L1776 1214.5L1777.5 1215.5L1779 1215.7L1780.5 1215.4L1782 1216.3L1783.5 1216.8L1785 1215.8L1786.5 1216.4L1788 1215.7L1789.5 1215.3L1791 1216.8L1792.5 1216.2L1794 1216.4L1795.5 1215.5L1797 1215.2L1798.5 1214.8L1800 1214.5L1802.5 1214.3L1805 1213.8L1807.5 1215.2L1810 1215L1812.5 1217.2L1815 1219.2L1817.5 1220.1L1820 1220.6L1822.5 1219.9L1825 1220.2L1827.5 1218.8L1830 1218.7L1832.5 1217.1L1835 1215.9L1837.5 1215.6L1840 1215.7L1842.5 1214.8L1845 1215.9L1847.5 1217.3L1850 1218.5L1852.5 1219.1L1855 1220.5L1857.5 1220.5L1860 1221.9L1862.5 1221.5L1865 1221.4L1867.5 1219.6L1870 1218.6L1872.5 1218L1875 1217.4L1877.5 1216.1L1880 1215.1L1882.5 1213.8L1885 1213.7L1887.5 1213.3L1890 1213L1892.5 1211.3L1895 1211.6L1897.5 1211.1L1900 1211.5L1902.5 1210.8L1905 1209.5L1907.5 1210.1L1910 1210.7L1912.5 1211.2L1915 1212.2L1917.5 1212.8L1920 1214.2L1922.5 1215.1L1925 1216.4L1927.5 1217.3L1930 1218.6L1932.5 1219.8L1935 1221L1936 1221.5"/>
</g></defs>
<path class="bl" d="M113 1633L117 1633.1L121 1633.3L125 1633.4L129 1633.5L133 1633.6L137 1633.8L141 1633.8L145 1633.9L149 1634L153 1634.1L157 1634.2L161 1634.2L165 1634.3L169 1634.4L173 1634.4L177 1634.4L181 1634.5L185 1634.5L189 1634.6L193 1634.6L197 1634.6L201 1634.6L205 1634.6L209 1634.7L213 1634.7L217 1634.7L221 1634.7L225 1634.7L229 1634.7L233 1634.7L237 1634.7L241 1634.7L245 1634.7L249 1634.7L253 1632.4L257 1628.4L261 1627.1L265 1629.3L269 1632.1L273 1633L277 1633L281 1633L285 1632.4L289 1629L293 1627.9L297 1625.6L301 1621.3L305 1616.2L309 1609.1L313 1600.7L317 1591.2L321 1579.8L325 1567L329 1553.5L333 1538.4L337 1522.2L341 1505L345 1486.6L349 1466.7L350 1461.6L354 1440.4L358 1418.3L362 1395.4L366 1372.5L370 1349.7L374 1326.9L378 1304.1L382 1281.4L386 1258L390 1233.2L394 1210.3L398 1189.2L402 1169.8L406 1153.2L410 1138.5L414 1125.6L418 1114.2L422 1104L426 1096.1L430 1089.7L434 1084.8L438 1081.9L442 1079.9L446 1079L450 1079.3L454 1081.2L458 1083.8L462 1087L466 1091.6L470 1097.1L474 1102.5L478 1107.8L482 1113.4L486 1119.3L490 1125.8L494 1133.1L498 1141.1L502 1149.7L506 1158.6L510 1168L514 1177.9L518 1188.2L522 1199L526 1210.1L530 1221.9L534 1234.1L538 1246.1L542 1257.6L546 1268.9L550 1280L554 1291L558 1301.7L562 1312.2L566 1322.4L570 1332.8L574 1343.6L578 1355.1L582 1366.9L586 1378.9L590 1390.9L594 1403.1L598 1415.7L602 1428L606 1439.6L610 1450.4L614 1460.9L618 1470.9L622 1480.1L626 1488.5L630 1496.8L634 1504L638 1509.2L640 1511.3L641 1512.4L642 1513.4L643 1514.3L644 1515.3L645 1516.1L646 1516.9L647 1517.6L648 1518.2L649 1518.7L650 1519L651 1518.2L652 1516.2L653 1513.3L654 1509.7L655 1505.4L656 1500.8L657 1496L658 1490.3L659 1483L660 1474.3L661 1464.5L662 1453.7L663 1442.1L664 1430L665 1416.1L666 1399.6L667 1381.2L668 1361.6L669 1341.5L670 1321.5L671 1302.5L672 1285L673 1268.3L674 1251.2L675 1234.3L676 1217.8L677 1202.2L678 1187.9L679 1175.4L680 1165L681 1155.6L682 1146.3L683 1137.5L684 1129.7L685 1123.6L686 1119.5L687 1118L688 1119.7L689 1124.2L690 1130.9L691 1139.3L692 1148.5L693 1158L694 1169.5L695 1184.7L696 1202.5L697 1221.9L698 1241.8L699 1261.3L700 1279.4L701 1295L702 1309.2L703 1323.4L704 1337.3L705 1350.6L706 1362.9L707 1373.8L708 1382.9L709 1390L710 1395.9L711 1401.6L712 1406.8L713 1411.3L714 1414.9L715 1417.2L716 1418L717 1417.4L718 1415.6L719 1413.2L720 1410.4L721 1407.5L722 1405L723 1402.3L724 1399.1L725 1396.1L726 1393.9L727 1393L728 1395.1L729 1400.3L730 1407.4L731 1415L732 1424.2L733 1435.9L734 1448.4L735 1460L736 1470.8L737 1481.3L738 1490.9L739 1498.8L740 1506.2L741 1512.7L742 1518L743 1521.8L744 1525.1L745 1528.4L746 1531.4L747 1534.3L748 1537.1L749 1539.6L750 1542.1L751 1544.3L752 1546.4L753 1548.3L754 1550.1L755 1551.7L756 1553.2L757 1554.5L758 1555.7L759 1556.7L760 1557.5L761 1558.3L762 1559L767 1562.1L772 1564.5L777 1566.4L782 1568L787 1569.6L792 1571.3L797 1573.3L802 1575.3L807 1577.2L812 1579.1L817 1581L822 1583L827 1585.1L832 1587.3L837 1589.7L842 1592.4L847 1595.3L852 1598.3L857 1601.1L862 1603.8L867 1606.2L872 1608.3L877 1610.1L882 1611.8L887 1613.5L892 1615L897 1616.5L902 1617.9L907 1619.3L912 1620.5L917 1621.8L922 1623L927 1624.1L932 1625.3L937 1626.4L942 1627.4L947 1628.4L952 1629.4L957 1630.3L962 1631.2L967 1632L972 1632.8L977 1633.8L982 1634.6L984 1634.8L984.8 1634.9L985.6 1634.9L986.4 1635L987.2 1635L988 1635L988.8 1634.1L989.6 1631.8L990.4 1629.2L991.2 1626.9L992 1626L992.8 1628.3L993.6 1633.7L994.4 1640.3L995.2 1645.7L996 1648L996.8 1647.2L997.6 1645.1L998.4 1642.4L999.2 1639.5L1000 1637.2L1000.8 1636.1L1001.6 1636L1002.4 1636L1003.2 1636L1004 1636L1004.8 1636L1005.6 1636L1006 1636L1014 1636.1L1022 1636.2L1030 1636.3L1038 1636.5L1046 1636.6L1054 1636.8L1062 1637L1070 1637.2L1078 1637.3L1086 1637.4L1094 1637.5L1102 1637.5L1110 1637.5L1118 1637.4L1126 1637.3L1134 1637.2L1142 1637.1L1150 1637L1158 1636.9L1166 1636.7L1174 1636.6L1182 1636.4L1190 1636.3L1198 1636.2L1206 1636.1L1214 1636L1222 1636L1230 1636L1238 1636.1L1246 1636.2L1254 1636.4L1262 1636.6L1270 1636.8L1278 1636.9L1286 1637L1290 1637L1291.5 1636.9L1293 1636.6L1294.5 1636.1L1296 1635.4L1297.5 1634.7L1299 1633.8L1300.5 1632.9L1302 1631.3L1303.5 1631.2L1305 1628.7L1306.5 1629.1L1308 1627.5L1309.5 1626L1311 1625.3L1312.5 1623.6L1314 1622L1315.5 1621.2L1317 1619.3L1318.5 1618L1320 1616.6L1321.5 1614L1323 1612.7L1324.5 1610L1326 1608.5L1327.5 1606.1L1329 1602.9L1330.5 1599.2L1332 1595.9L1333.5 1592.4L1335 1589.5L1336.5 1585.3L1338 1580.7L1339.5 1576.8L1341 1573.5L1342.5 1571.9L1344 1569.3L1345.5 1568.8L1347 1567.9L1348.5 1565.2L1350 1565.5L1351.5 1562.9L1353 1562.7L1354.5 1561.7L1356 1559L1357.5 1558.1L1359 1556.8L1360.5 1556.1L1362 1554.3L1363.5 1553.6L1365 1551.7L1366.5 1550.7L1368 1550.4L1369.5 1549.2L1371 1548.1L1372.5 1547L1374 1546.7L1375.5 1546.3L1377 1544.9L1378.5 1544.6L1380 1543.5L1381.5 1546L1383 1544.5L1384.5 1544.2L1386 1545.2L1387.5 1545.6L1389 1544.3L1390.5 1544.9L1392 1544.2L1393.5 1544.6L1395 1545.9L1396.5 1545.1L1398 1544.8L1399.5 1545L1401 1545.2L1402.5 1544.9L1404 1544.4L1405.5 1544.9L1407 1547.6L1408.5 1547.2L1410 1549.7L1411.5 1550.1L1413 1553L1414.5 1554.3L1416 1555.5L1417.5 1558.8L1419 1559.4L1420.5 1562.4L1422 1564.9L1423.5 1567.8L1425 1570.9L1426.5 1573.4L1428 1576.8L1429.5 1581.2L1431 1582.5L1432.5 1585.9L1434 1588.9L1435.5 1591.7L1437 1594.7L1438.5 1597.1L1440 1598.1L1441.5 1599.6L1443 1602.5L1444.5 1602.1L1446 1603.8L1447.5 1606.3L1449 1608.6L1450.5 1611.1L1452 1613.8L1453.5 1616.7L1455 1620.5L1456.5 1623.2L1458 1625.8L1459.5 1627.3L1461 1629.7L1462.5 1628.5L1464 1624.2L1465.5 1614.5L1467 1604.8L1468.5 1594.2L1470 1579.7L1471.5 1562.5L1473 1546.8L1474.5 1534.7L1476 1526.6L1477.5 1519.2L1479 1511.2L1480.5 1507.8L1482 1505.2L1483.5 1502.8L1485 1499.5L1486.5 1497.8L1488 1497.1L1489.5 1495.9L1491 1494.8L1492.5 1495.1L1494 1496.9L1495.5 1497.6L1497 1498.6L1498.5 1500.5L1500 1502.6L1501.5 1504.1L1503 1505.9L1504.5 1507.7L1506 1509.1L1507.5 1513.4L1509 1515.6L1510.5 1518.5L1512 1520.3L1513.5 1523.3L1515 1526.4L1516.5 1529.4L1518 1531.1L1519.5 1535.7L1521 1538.4L1522.5 1542.5L1524 1545.5L1525.5 1551.3L1527 1552.5L1528.5 1554.8L1530 1558.1L1531.5 1559.6L1533 1561.5L1534.5 1563.9L1536 1565.8L1537.5 1568.1L1539 1570.5L1540.5 1571.9L1542 1573.9L1543.5 1576.4L1545 1577.9L1546.5 1580.1L1548 1581.4L1549.5 1582.3L1551 1584.1L1552.5 1585.5L1554 1588.8L1555.5 1589.9L1557 1591L1558.5 1592.2L1560 1594.5L1561.5 1595.6L1563 1597.5L1564.5 1598.3L1566 1599.7L1567.5 1602.7L1569 1602.8L1570.5 1605L1572 1608.6L1573.5 1607.7L1575 1611.4L1576.5 1613.3L1578 1615.4L1579.5 1617.9L1581 1618.1L1582.5 1620.3L1584 1624.2L1585.5 1624.1L1587 1625.4L1588.5 1625.6L1590 1624.3L1591.5 1622.9L1593 1620.9L1594.5 1618.9L1596 1615.7L1597.5 1613.6L1599 1610.4L1600.5 1608.6L1602 1607.8L1603.5 1607.8L1605 1608.2L1606.5 1609.7L1608 1610.1L1609.5 1610.8L1611 1613.2L1612.5 1613.6L1614 1615L1615.5 1616.2L1617 1616.8L1618.5 1617.1L1620 1618.6L1621.5 1619L1623 1619.4L1624.5 1620.6L1626 1621L1627.5 1621.3L1629 1620.9L1630.5 1621.9L1632 1621L1633.5 1615L1635 1607.2L1636.5 1597.4L1638 1588.6L1639.5 1575.8L1641 1560.5L1642.5 1544.5L1644 1528L1645.5 1517L1647 1508.5L1648.5 1501.6L1650 1493.4L1651.5 1488.2L1653 1482.6L1654.5 1478.4L1656 1473.4L1657.5 1471L1659 1469.1L1660.5 1465.8L1662 1462.8L1663.5 1461.3L1665 1457.3L1666.5 1453.3L1668 1450.9L1669.5 1448L1671 1446.1L1672.5 1441.7L1674 1439.7L1675.5 1437.2L1677 1433.4L1678.5 1431.1L1680 1427.1L1681.5 1425.5L1683 1421.3L1684.5 1419.6L1686 1418.1L1687.5 1414.8L1689 1412.2L1690.5 1410.1L1692 1409L1693.5 1407.5L1695 1410.6L1696.5 1415.1L1698 1422.2L1699.5 1429.9L1701 1438.5L1702.5 1445.5L1704 1452.7L1705.5 1458.9L1707 1464.9L1708.5 1471.1L1710 1475.7L1711.5 1483.6L1713 1489.8L1714.5 1495.2L1716 1497.7L1717.5 1502.2L1719 1507.5L1720.5 1509.6L1722 1514.3L1723.5 1517.4L1725 1521.3L1726.5 1523.3L1728 1527.7L1729.5 1532.3L1731 1535.6L1732.5 1538.9L1734 1543.4L1735.5 1547.2L1737 1550.4L1738.5 1555.2L1740 1559.1L1741.5 1562.6L1743 1567.3L1744.5 1570.3L1746 1575.6L1747.5 1579.2L1749 1582.8L1750.5 1586.9L1752 1591.5L1753.5 1593.3L1755 1597L1756.5 1599.9L1758 1602.9L1759.5 1606.7L1761 1610.1L1762.5 1612L1764 1613.6L1765.5 1615.4L1767 1616.3L1768.5 1617.5L1770 1618.3L1771.5 1620.9L1773 1620.9L1774.5 1621L1776 1622.5L1777.5 1623.8L1779 1623.8L1780.5 1625.3L1782 1626.1L1783.5 1627.5L1785 1626.7L1786.5 1628.2L1788 1628.2L1789.5 1628.9L1791 1630.6L1792.5 1630.5L1794 1630.4L1795.5 1631.3L1797 1631.5L1798.5 1632.6L1800 1632.1L1802.5 1633.4L1805 1633.6L1807.5 1634.3L1810 1634.6L1812.5 1634.6L1815 1635.1L1817.5 1635.4L1820 1634.1L1822.5 1633.7L1825 1633.5L1827.5 1632.1L1830 1632.3L1832.5 1632.1L1835 1629.2L1837.5 1629.8L1840 1629.4L1842.5 1630.7L1845 1631.3L1847.5 1630.9L1850 1632L1852.5 1633.2L1855 1633.6L1857.5 1634.4L1860 1633.8L1862.5 1631.8L1865 1630.5L1867.5 1627.1L1870 1624.7L1872.5 1623.8L1875 1623.9L1877.5 1625.7L1880 1626.8L1882.5 1627.9L1885 1627.8L1887.5 1628.2L1890 1628.8L1892.5 1630.7L1895 1629.4L1897.5 1629.5L1900 1629.1L1902.5 1630L1905 1630.3L1907.5 1629.6L1910 1631.4L1912.5 1630.1L1915 1631.5L1917.5 1631.3L1920 1632L1922.5 1632L1925 1632.8L1927.5 1634.2L1930 1634.5L1932.5 1635.2L1935 1636"/>
<use href="#bc" stroke="#a9d0fb" stroke-width="6.2" stroke-opacity=".75"/>
<use href="#bc" stroke="#437fde" stroke-width="3"/>
<path class="k" d="M113.9 706.1L115.9 706.9L117.9 707.5L119.9 708.1L121.9 708.4L123.9 709L125.9 709.8L127.9 710.5L129.9 711.4L131.9 712.5L133.9 712.8L135.9 712.6L137.9 711.9L139.9 712.8L141.9 714.6L143.9 714.2L145.9 717L147.9 715.7L149.9 716.4L151.9 717.4L153.9 717.1L155.9 717.9L157.9 719.7L159.9 720L161.9 721L163.9 721.2L165.9 721.5L167.9 719.4L169.9 721.2L171.9 721.1L173.9 722.1L175.9 722.9L177.9 723.6L179.9 724.1L181.9 725L183.9 725.1L185.9 726L187.9 724.2L189.9 724.9L191.9 726.3L193.9 727.1L195.9 725.6L197.9 725.6L199.9 728.4L201.9 727.8L203.9 728.9L205.9 729.4L207.9 729.4L209.9 728.6L211.9 730.4L213.9 729.6L215.9 730.8L217.9 729.1L219.9 731L221.9 730.7L223.9 730.6L225.9 731.6L227.9 731.5L229.9 731.4L231.9 731.8L233.9 730.9L235.9 732L237.9 730.9L239.9 731L241.9 732.2L243.9 732.4L245.9 731.6L247.9 731.5L249.9 731.4L251.9 732.1L253.9 732L255.9 734.1L257.9 731.5L259.9 732.5L261.9 733.6L263.9 732.7L265.9 732.2L267.9 733L269.9 732.1L271.9 731.4L273.9 729L275.9 729L277.9 727.8L279.9 725.5L281.9 725.6L283.9 723.7L285.9 721.7L287.9 720.9L289.9 719.6L291.9 717.7L293.9 715.5L295.9 711.6L297.9 710.5L299.9 708L301.9 703.6L303.9 702.9L305.9 699.5L307.9 697.2L309.9 694.3L311.9 691.5L313.9 688.4L315.9 686.6L317.9 683.9L319.9 681.7L321.9 679.3L323.9 677L325.9 674.7L327.9 672.3L329.9 669.8L331.9 667.3L333.9 665L335.9 662.6L337.9 660.2L339.9 657.8L341.9 655.4L343.9 653L345.9 650.6L347.9 648.1L349.9 645.7L351.9 643.3L353.9 640.9L355.9 638.4L357.9 635.9L359.9 633.5L361.9 631L363.9 628.5L365.9 626.1L367.9 623.6L369.9 621.2L371.9 618.8L373.9 616.4L375.9 614L377.9 611.7L379.9 609.4L381.9 607.1L383.9 604.8L385.9 602.5L387.9 600.2L389.9 597.9L391.9 595.6L393.9 593.4L395.9 591.2L397.9 589.1L399.9 587L401.9 585L403.9 583L405.9 581.1L407.9 579.2L409.9 577.3L411.9 575.4L413.9 573.5L415.9 571.6L417.9 569.9L419.9 568.3L421.9 566.9L423.9 565.6L425.9 564.5L427.9 563.6L429.9 562.7L431.9 561.8L433.9 561L435.9 560.3L437.9 559.6L439.9 559.1L441.9 558.7L443.9 558.5L445.9 558.5L447.9 558.6L449.9 558.8L451.9 559.1L453.9 559.5L455.9 560L457.9 560.4L459.9 560.9L461.9 561.5L463.9 562L465.9 562.5L467.9 563L469.9 563.5L471.9 564.2L473.9 564.8L475.9 565.5L477.9 566.2L479.9 567L481.9 567.7L483.9 568.6L485.9 569.4L487.9 570.3L489.9 571.2L491.9 572.1L493.9 573.1L495.9 574.1L497.9 575.1L499.9 576.2L501.9 577.2L503.9 578.3L505.9 579.5L507.9 580.6L509.9 581.8L511.9 583L513.9 584.2L515.9 585.4L517.9 586.7L519.9 588L521.9 589.4L523.9 590.8L525.9 592.2L527.9 593.7L529.9 595.3L531.9 596.9L533.9 598.5L535.9 600.2L537.9 601.9L539.9 603.6L541.9 605.3L543.9 607L545.9 608.7L547.9 610.5L549.9 612.2L551.9 614L553.9 615.7L555.9 617.4L557.9 619.1L559.9 620.8L561.9 622.4L563.9 624.2L565.9 625.9L567.9 627.6L569.9 629.4L571.9 631.2L573.9 632.9L575.9 634.7L577.9 636.5L579.9 638.3L581.9 640L583.9 641.8L585.9 643.5L587.9 645.3L589.9 647L591.9 648.7L593.9 650.3L595.9 652L597.9 653.6L599.9 655.2L601.9 656.7L603.9 658.2L605.9 659.7L607.9 661.2L609.9 662.7L611.9 664.2L613.9 665.7L615.9 667.1L617.9 668.5L619.9 669.9L621.9 671.2L623.9 672.5L625.9 673.8L627.9 675L629.9 676.1L631.9 677.4L633.9 678.7L635.9 680L637.9 681.3L639.9 682.5L641.9 683.7L643.9 684.6L645.9 685.3L647.9 685.8L649.9 686L651.9 685.8L653.9 685.3L655.9 684.4L657.9 683.3L659.9 681.9L661.9 680.3L663.9 678.5L665.9 676.5L667.9 673.1L669.9 668.4L671.9 662.6L673.9 655.9L675.9 648.6L677.9 640.8L679.9 629.9L681.9 617.7L683.9 607.4L685.9 600L687.9 600.6L689.9 602.5L691.9 606.2L693.9 611.2L695.9 618.3L697.9 626.5L699.9 634.5L701.9 641L703.9 645.7L705.9 650.1L707.9 654.4L709.9 658L711.9 660.7L713.9 662.3L715.9 662.5L717.9 662.1L719.9 661.5L721.9 660.3L723.9 656.9L725.9 643.3L727.9 640.3L729.9 646.7L731.9 659.4L733.9 668.2L735.9 675.5L737.9 681.8L739.9 687.1L741.9 691.4L743.9 694.9L745.9 698L747.9 700.9L749.9 703.6L751.9 705.9L753.9 708L755.9 709.8L757.9 711.3L759.9 712.5L761.9 713.4L763.9 714.3L765.9 715.1L767.9 715.8L769.9 716.5L771.9 717.1L773.9 717.7L775.9 718.2L777.9 718.7L779.9 719.2L781.9 719.6L783.9 720.1L785.9 720.5L787.9 720.9L789.9 721.4L791.9 721.8L793.9 722.2L795.9 722.7L797.9 723.2L799.9 723.7L801.9 724.1L803.9 724.6L805.9 725L807.9 725.5L809.9 725.9L811.9 726.3L813.9 726.8L815.9 727.2L817.9 727.6L819.9 728L821.9 728.4L823.9 728.8L825.9 729.2L827.9 729.6L829.9 729.9L831.9 730.3L833.9 730.7L835.9 731L837.9 731.4L839.9 731.7L841.9 732L843.9 732.3L845.9 732.6L847.9 733L849.9 733.3L851.9 733.6L853.9 733.9L855.9 734.3L857.9 734.6L859.9 734.9L861.9 735.3L863.9 735.6L865.9 735.9L867.9 736.2L869.9 736.5L871.9 736.8L873.9 737.1L875.9 737.4L877.9 737.6L879.9 737.8L881.9 738L883.9 738.2L885.9 738.4L887.9 738.5L889.9 738.6L891.9 738.7L893.9 738.7L895.9 738.7L897.9 738.7L899.9 738.7L901.9 738.7L903.9 738.7L905.9 738.7L907.9 738.7L909.9 738.7L911.9 738.7L913.9 738.6L915.9 738.6L917.9 738.6L919.9 738.6L921.9 738.5L923.9 738.5L925.9 738.4L927.9 738.4L929.9 738.3L931.9 738.3L933.9 738.2L935.9 738.1L937.9 738L939.9 737.9L941.9 737.8L943.9 737.7L945.9 737.5L947.9 737.4L949.9 737.2L951.9 737.1L953.9 736.9L955.9 736.7L957.9 736.5L959.9 736.3L961.9 736.1L962.5 736"/>
<path class="k" d="M1042.5 728.7L1044.5 728.4L1046.5 728.1L1048.5 727.8L1050.5 727.5L1052.5 727.2L1054.5 726.9L1056.5 726.6L1058.5 726.3L1060.5 726L1062.5 725.8L1064.5 725.5L1066.5 725.2L1068.5 725L1070.5 724.8L1072.5 724.6L1074.5 724.4L1076.5 724.2L1078.5 724L1080.5 723.8L1082.5 723.6L1084.5 723.6L1086.5 723.4L1088.5 723.3L1090.5 723.2L1092.5 723.1L1094.5 722.9L1096.5 722.8L1098.5 722.7L1100.5 722.6L1102.5 722.4L1104.5 722.3L1106.5 722.2L1108.5 722.2L1110.5 722L1112.5 722L1114.5 721.7L1116.5 721.7L1118.5 721.6L1120.5 721.6L1122.5 721.5L1124.5 721.4L1126.5 721.4L1128.5 721.3L1130.5 721.3L1132.5 721.1L1134.5 721.1L1136.5 721.1L1138.5 721L1140.5 721L1142.5 721L1144.5 720.9L1146.5 721.1L1148.5 721.2L1150.5 721.2L1152.5 721.5L1154.5 721.5L1156.5 722.1L1158.5 722L1160.5 722.4L1162.5 722.6L1164.5 722.9L1166.5 723.3L1168.5 723.6L1170.5 723.7L1172.5 724L1174.5 724.3L1176.5 724.7L1178.5 724.7L1180.5 724.8L1182.5 724.8L1184.5 724.8L1186.5 724.9L1188.5 725.1L1190.5 725L1192.5 725.1L1194.5 725.1L1196.5 725.1L1198.5 725.1L1200.5 725.3L1202.5 725.2L1204.5 725.3L1206.5 725.3L1208.5 725.1L1210.5 725.2L1212.5 725.4L1214.5 725.5L1216.5 725.2L1218.5 725.4L1220.5 725.5L1222.5 725.7L1224.5 725.4L1226.5 725.6L1228.5 725.4L1230.5 725.7L1232.5 725.8L1234.5 725.6L1236.5 725.9L1238.5 726.2L1240.5 726.5L1242.5 726.7L1244.5 726.9L1246.5 727.1L1248.5 727.1L1250.5 727.3L1252.5 727.7L1254.5 727.6L1256.5 727.8L1258.5 728L1260.5 728.3L1262.5 728L1264.5 728.1L1266.5 727.8L1268.5 727.3L1270.5 727.4L1272.5 726.8L1274.5 726.6L1276.5 726.1L1278.5 725.5L1280.5 724.9L1282.5 724.8L1284.5 724.2L1286.5 724.2L1288.5 723.2L1290.5 722.9L1292.5 722.4L1294.5 722L1296.5 722L1298.5 721.7L1300.5 721L1302.5 720.8L1304.5 720.6L1306.5 720.2L1308.5 720.4L1310.5 719.8L1312.5 719.3L1314.5 718.9L1316.5 718L1318.5 716.2L1320.5 714.4L1322.5 712.6L1324.5 710.5L1326.5 707.8L1328.5 706.6L1330.5 703.7L1332.5 703L1334.5 702.1L1336.5 701L1338.5 697.9L1340.5 694.7L1342.5 692.4L1344.5 688.2L1346.5 684.2L1348.5 681.2L1350.5 677.1L1352.5 676.4L1354.5 672.6L1356.5 670.5L1358.5 666.3L1360.5 663.3L1362.5 660.8L1364.5 656.9L1366.5 654.9L1368.5 650.4L1370.5 647.8L1372.5 643.8L1374.5 641.1L1376.5 639.9L1378.5 639.4L1380.5 639.5L1382.5 640.9L1384.5 640L1386.5 640L1388.5 641.7L1390.5 641.2L1392.5 643.2L1394.5 641.2L1396.5 640.5L1398.5 640.4L1400.5 638.3L1402.5 635.4L1404.5 634.3L1406.5 633.1L1408.5 631.8L1410.5 629.8L1412.5 630L1414.5 628.3L1416.5 628.5L1418.5 628.5L1420.5 628.8L1422.5 629.3L1424.5 628.9L1426.5 629.8L1428.5 631.6L1430.5 633L1432.5 634.2L1434.5 636.2L1436.5 635.5L1438.5 634.8L1440.5 631.6L1442.5 631.1L1444.5 631.7L1446.5 632.9L1448.5 635.5L1450.5 637.7L1452.5 640.4L1454.5 643.3L1456.5 644.3L1458.5 647.5L1460.5 650.1L1462.5 652.3L1464.5 650.8L1466.5 648.5L1468.5 642.5L1470.5 636.8L1472.5 632L1474.5 625.5L1476.5 620.9L1478.5 617.4L1480.5 614.2L1482.5 609.5L1484.5 610L1486.5 605L1488.5 601.9L1490.5 598.5L1492.5 595.5L1494.5 594L1496.5 594.6L1498.5 593.7L1500.5 593.5L1502.5 593.2L1504.5 593.9L1506.5 595.4L1508.5 595.6L1510.5 597.6L1512.5 598.3L1514.5 600.9L1516.5 601.1L1518.5 601.4L1520.5 604.3L1522.5 606.5L1524.5 608.5L1526.5 610.8L1528.5 611.9L1530.5 613L1532.5 615.5L1534.5 616.4L1536.5 619.2L1538.5 620.2L1540.5 622.6L1542.5 625.1L1544.5 627.9L1546.5 631.8L1548.5 633.5L1550.5 635L1552.5 638.2L1554.5 639.9L1556.5 641.9L1558.5 644.5L1560.5 645L1562.5 647.8L1564.5 649L1566.5 650.1L1568.5 651.1L1570.5 651.3L1572.5 651.7L1574.5 652.5L1576.5 652.7L1578.5 653.8L1580.5 653.7L1582.5 656L1584.5 658.2L1586.5 658.1L1588.5 661.6L1590.5 662.7L1592.5 663.7L1594.5 664.7L1596.5 666L1598.5 665.1L1600.5 667.3L1602.5 668L1604.5 669.9L1606.5 670.8L1608.5 673.9L1610.5 679.3L1612.5 681.5L1614.5 685.5L1616.5 688.6L1618.5 691.6L1620.5 694.9L1622.5 699.8L1624.5 702.2L1626.5 703.8L1628.5 706.4L1630.5 706L1632.5 706.2L1634.5 703.2L1636.5 700.8L1638.5 692.4L1640.5 674.5L1642.5 658.8L1644.5 647.1L1646.5 638.9L1648.5 629.6L1650.5 622.3L1652.5 614.3L1654.5 608.1L1656.5 602.2L1658.5 593.6L1660.5 587.2L1662.5 581.1L1664.5 575.2L1666.5 569.8L1668.5 565.8L1670.5 559.8L1672.5 556.8L1674.5 551.5L1676.5 547.7L1678.5 544.4L1680.5 541L1682.5 538.4L1684.5 535.4L1686.5 532.3L1688.5 530.8L1690.5 528.8L1692.5 527.9L1694.5 526.4L1696.5 524L1698.5 524.1L1700.5 524.4L1702.5 525L1704.5 526.6L1706.5 528.9L1708.5 531L1710.5 532.5L1712.5 535.4L1714.5 538.5L1716.5 542L1718.5 544.5L1720.5 545.8L1722.5 546.3L1724.5 543.8L1726.5 539.1L1728.5 536.1L1730.5 534.1L1732.5 532L1734.5 531.2L1736.5 533.2L1738.5 536L1740.5 538.7L1742.5 541.5L1744.5 546.6L1746.5 552.7L1748.5 560L1750.5 566.9L1752.5 573.7L1754.5 580.7L1756.5 587.1L1758.5 594.8L1760.5 601.1L1762.5 608L1764.5 614.5L1766.5 621.7L1768.5 627.9L1770.5 634.8L1772.5 640.6L1774.5 646.8L1776.5 652.3L1778.5 656L1780.5 660.4L1782.5 663.9L1784.5 666.4L1786.5 669.9L1788.5 672.4L1790.5 675.7L1792.5 678.9L1794.5 682.5L1796.5 685.2L1798.5 688.5L1800.5 691.8L1802.5 694.7L1804.5 698.2L1806.5 700.7L1808.5 703.9L1810.5 707.5L1812.5 711.3L1814.5 715.1L1816.5 719.5L1818.5 721.3L1820.5 725.1L1822.5 728.1L1824.5 727.8L1826.5 727.8L1828.5 727.6L1830.5 728L1832.5 728.5L1834.5 728.5L1836.5 727.5L1838.5 728.8L1840.5 728.1L1842.5 727L1844.5 726.7L1846.5 728.8L1848.5 728.2L1850.5 728.8L1852.5 727.2L1854.5 729.4L1856.5 728.1L1858.5 727.3L1860.5 728L1862.5 730L1864.5 731L1866.5 730.5L1868.5 730.6L1870.5 733.1L1872.5 733.6L1874.5 731.2L1876.5 734.3L1878.5 735.6L1880.5 735.6L1882.5 737.7L1884.5 735.3L1886.5 736.1L1888.5 734.3L1890.5 733.4L1892.5 729.4L1894.5 726L1896.5 725.1L1898.5 730.4L1900 734.2"/>
<circle cx="1907.5" cy="741.7" r="3" fill="#000"/>
<path d="M1942 849L2002 825" stroke="#c3cad6" stroke-width="2.5" stroke-dasharray="10 6" fill="none"/>
<path d="M1940 982L2003 910" stroke="#a3b1d6" stroke-width="1.9" fill="none"/>
<path d="M1955 1088L2005 988" stroke="#c6cde6" stroke-width="2" stroke-dasharray="14 3" fill="none"/>
<path class="ax" d="M113 48V1684"/>
<path class="ax" d="M111 1681.5H1993"/>
<path class="tk" d="M113.0 1682V1705M139.8 1682V1693M166.7 1682V1705M193.5 1682V1693M220.3 1682V1705M247.1 1682V1693M274.0 1682V1705M300.8 1682V1693M327.6 1682V1705M354.5 1682V1693M381.3 1682V1705M408.1 1682V1693M434.9 1682V1705M461.8 1682V1693M488.6 1682V1705M515.4 1682V1693M542.3 1682V1705M569.1 1682V1693M595.9 1682V1705M622.7 1682V1693M649.6 1682V1705M676.4 1682V1693M703.2 1682V1705M730.1 1682V1693M756.9 1682V1705M783.7 1682V1693M810.5 1682V1705M837.4 1682V1693M864.2 1682V1705M891.0 1682V1693M917.9 1682V1705M944.7 1682V1693M971.5 1682V1705M998.3 1682V1693M1025.2 1682V1705M1052.0 1682V1693M1078.8 1682V1705M1105.7 1682V1693M1132.5 1682V1705M1159.3 1682V1693M1186.1 1682V1705M1213.0 1682V1693M1239.8 1682V1705M1266.6 1682V1693M1293.5 1682V1705M1320.3 1682V1693M1347.1 1682V1705M1373.9 1682V1693M1400.8 1682V1705M1427.6 1682V1693M1454.4 1682V1705M1481.3 1682V1693M1508.1 1682V1705M1534.9 1682V1693M1561.7 1682V1705M1588.6 1682V1693M1615.4 1682V1705M1642.2 1682V1693M1669.1 1682V1705M1695.9 1682V1693M1722.7 1682V1705M1749.5 1682V1693M1776.4 1682V1705M1803.2 1682V1693M1830.0 1682V1705M1856.9 1682V1693M1883.7 1682V1705M1910.5 1682V1693M1937.3 1682V1705M1964.2 1682V1693M1991.0 1682V1705"/>
<text class="dv" font-size="38" text-anchor="middle" x="109.5" y="1740" textLength="87.0" lengthAdjust="spacingAndGlyphs">4000</text>
<text class="dv" font-size="38" text-anchor="middle" x="386.5" y="1740" textLength="87.0" lengthAdjust="spacingAndGlyphs">3500</text>
<text class="dv" font-size="38" text-anchor="middle" x="654.7" y="1740" textLength="87.0" lengthAdjust="spacingAndGlyphs">3000</text>
<text class="dv" font-size="38" text-anchor="middle" x="924.6" y="1740" textLength="87.0" lengthAdjust="spacingAndGlyphs">2500</text>
<text class="dv" font-size="38" text-anchor="middle" x="1191.2" y="1740" textLength="87.0" lengthAdjust="spacingAndGlyphs">2000</text>
<text class="dv" font-size="38" text-anchor="middle" x="1463.0" y="1740" textLength="87.0" lengthAdjust="spacingAndGlyphs">1500</text>
<text class="dv" font-size="38" text-anchor="middle" x="1730.7" y="1740" textLength="87.0" lengthAdjust="spacingAndGlyphs">1000</text>
<text class="dv" font-size="38" text-anchor="middle" x="1998.0" y="1740" textLength="65.3" lengthAdjust="spacingAndGlyphs">500</text>
<text class="dj" font-size="57" y="1817"><tspan x="837.5" textLength="372" lengthAdjust="spacingAndGlyphs">Wavenumber</tspan> <tspan x="1232" textLength="108" lengthAdjust="spacingAndGlyphs">(cm</tspan><tspan x="1342" y="1792.5" font-size="34" style="stroke-width:1.4">-1</tspan><tspan x="1381.5" y="1817">)</tspan></text>
<text class="dj" font-size="58" transform="translate(47 942.5) rotate(-90)" textLength="303" lengthAdjust="spacingAndGlyphs">Absorption</text>
<text class="lg" font-size="39.46" x="2014.1" y="730.5">Bogus et al.,2014</text>
<text class="lg" font-size="40.38" x="2015.0" y="837.5">DB sulfidic (15102)</text>
<text class="lg" font-size="40.32" x="2015.3" y="921.0">DB oxic (17229)</text>
<text class="lg" font-size="40.21" x="2015.3" y="996.0">MAP pelagic-oxic (659)</text>
<text class="lg" font-size="39.79" x="2020.0" y="1058.0">1. MAP pelagic-oxic (664)</text>
<text class="lg" font-size="40.19" x="2015.5" y="1093.7">2. MAP pelagic-oxic (664)</text>
<text class="lg" font-size="40.10" x="2016.5" y="1130.0">3. MAP pelagic-oxic (664)</text>
<text class="lg" font-size="40.02" x="2017.5" y="1172.5">4. MAP pelagic-oxic (664)</text>
<text class="lg" font-size="40.10" x="2016.5" y="1208.7">5. MAP pelagic-oxic (664)</text>
<text class="lg" font-size="40.10" x="2016.5" y="1243.7">6. MAP pelagic-oxic (664)</text>
<text class="lg" font-size="40.10" x="2016.5" y="1283.7">7. MAP pelagic-oxic (664)</text>
<text class="lg" font-size="40.26" x="2015.3" y="1363.0">MAP f-turb.-oxic (688)</text>
<text class="lg" font-size="40.26" x="2015.3" y="1447.5">MAP f-turb.-oxic (689)</text>
<text class="lg" font-size="39.95" x="2018.5" y="1532.5">1. MAP f-turb.-anoxic (699)</text>
<text class="lg" font-size="40.12" x="2016.5" y="1576.0">2. MAP f-turb.-anoxic (699)</text>
<text class="lg" font-size="40.12" x="2016.5" y="1616.0">3. MAP f-turb.-anoxic (699)</text>
<text class="lg" font-size="40.04" x="2017.5" y="1660.0">4. MAP f-turb.-anoxic (699)</text>
</svg></body></html>
